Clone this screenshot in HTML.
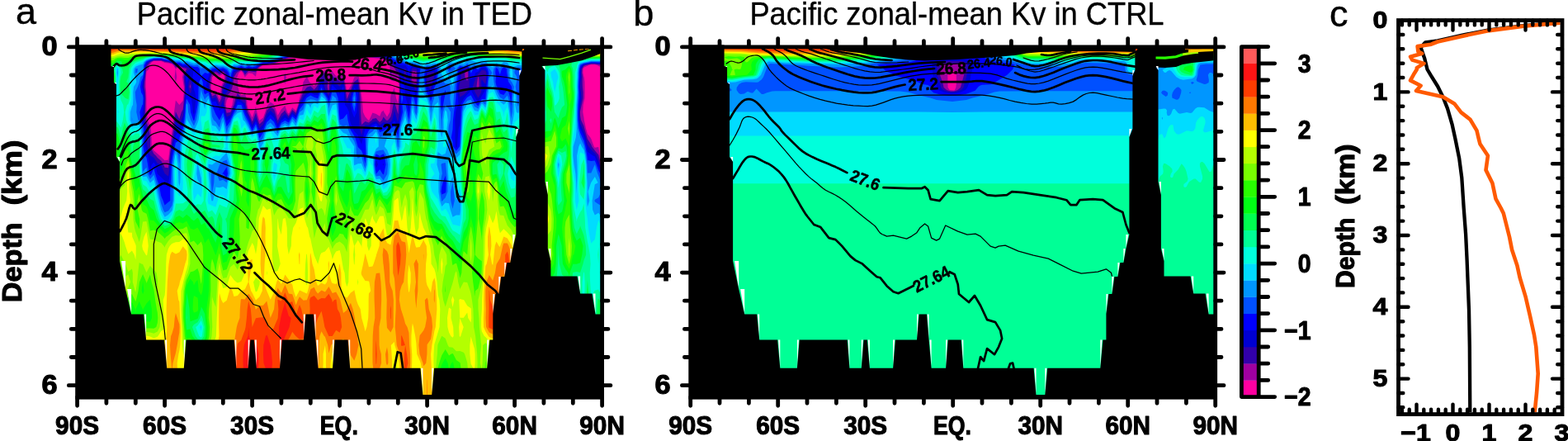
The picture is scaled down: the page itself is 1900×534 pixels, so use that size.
<!DOCTYPE html>
<html lang="en"><head><meta charset="utf-8"><title>Pacific zonal-mean Kv</title>
<style>html,body{margin:0;padding:0;background:#fff;overflow:hidden}svg{display:block}text{fill:#000}</style></head>
<body>
<svg width="1900" height="534" viewBox="0 0 1900 534">
<rect width="1900" height="534" fill="#fff"/>
<g>
<clipPath id="clipa"><rect x="123.6" y="56.9" width="604" height="423.1"/></clipPath>
<g clip-path="url(#clipa)">
<rect x="128.9" y="56.9" width="600.7" height="437.5" fill="#ff00a0"/>
<path fill="#a000a0" d="M128.9,56.9l600.7 0 0 24.6-4.4-1.5-1.4-1.1-3-.6-4.5-.1-3.1 .7-1.3 .9-4.4 2-.9 1.5-.2 4.7 1.1 5.2 .2 0 .7 5.7 .2 12.9-.1 7.3-1.8 8-.4 8.7 1.2 6.7 .3 2.8 2.2 10.3 1.9 6.4 3.5 4.6 .9 1.4 3.5 9.5 1 1.2 4.4-.7 1.8 10.4 2.6 9.5 0 296.5-600.7 0zM186.4,74l-2.3 .9-2.2 3-.8 1-.3 4.4-3.3 3.5-.5 6.4-.4 5.7 0 6.1 .6 6.8 .2 7.3 0 8 .3 8.7 1.3 9.5 2.9 7.3 .9 3 .8 11 .4 10.9 2.4 4.8 4.4 3.6 2.8 2.5 1.6 1.6 4.4 4.2 4.4-.8 4.8-37.8 .9-10.3 1.3-9.5 1.9-14.4 4.4 5.5 4.4-4.9 1-10.2 .1-6.8-1.1-6.1-.7-5.7 .7-3 .4-2.2-.6-4.7-4.2-2.6-4.3 2.6 .5 4.7 .8 5.2-1.4 7.2-1.3-7.2 1.1-9.9-2.6-4.4-1.7-1.3-4.4-1.1-4.4-.6-2-1-2.4-.9-4.4 .1zM261.4,89.8l-4.1 3.4-.3 1.4-.3 4.3-1.1 6.1 .9 6.8 .5 1.5 2.9-1.5 1.5-1.7 1 1.7 3.5 8.4 .5-1.1 1.5-14.1 2.4-5.4 .4-.7 1.4-5.7-1.8-3.8-4.4 2.7zM279.1,116.6l-2.9 2.5-1.5 2.3-1 5.7 1 3.8 4.4 1.2 2.3-5 1.1-8zM349.8,70.4l-2.7 .8-1.7 1.2-4.5 .6-3.5 1.9-.9 .8-4.4 2-8.8 1.1-4.4 0-4.5 3.1-1.6 1.4-2 4.7-.8 4.7-4.4-3.6-4.4-.5-4.4 5-2.7-5.6-1.7-2-2.9 2-1.6 4.3-.5 .9 .5 2.8 .3 2.9 .2 6.1 1.6 6.8 2.4 3.4 4.4-1.3 2.4 5.2 .3 8 1.7 6.4 1.4 2.3 3 6.4 2.4-6.4 2-7.1 1.4 7.1 3 10.1 .7-.6 3.8-2.8 2.4-6.7 2-7.4 1.5-1.3 2.9-3.7 4.4 3.2 3.2 9.2 1.2 3.9 4.4-7.5 4.5-4.2 2.8 7.8 1.6 2 4.4-7.6 4.4 4 2.5-7.1 1.9-8.7 2.3-6.6 1.5-6.8 .6-5.5 .3-.6 3.5-5.7 .7-.8 2.9 6.5 5.9 5.7 2.6-5.7 1.8-1.6 4.4-9 4.4-3.2 2.4 2.9 2.1 3.7 4.4-6 1.1 2.3 3.3 3.9 4.4 1.2 3.2-5.1 1.2-1.4 .3 1.4 .6 5.2 2.5 11.8 1 7.4 3.8-7.4 .7-.8 2.3-5.3 2.1-5.5 .3-.2 4.1-1.2 1.2 1.2 1.1 5.7 .5 6.1 1.1 6.8 .5 3.9 .6 3.4 1.2 16.7 2.6 5.5 3.6 4 .8 .4 .5-.4 4-8.7 4.4 1.3 4.4 2.9 1.9-5 2.5-2 .8 2 3.6 5.8 3.3-5.8 .6-8.7 .1-8 .4-3.8 4.5-9 2.2 12.8 2.2 6.5 1.1-13.8 .1-6.8-.6-6.1-.6-4.5-4.4 4.1-4.5-1.6-1.3-8.9 .1-4.7 .2-4.4-3.4-4-6.7-3.7-2.1-.5-4.4-.3-8.9-.9-4.4 .1-4.4-.3-8.8 .1-4.4 .2-17.7-.1-4.4 .2-8.9-.3-4.4 .3-4.4-.3-4.4 .1-4.4-.2-4.4 .3-4.5-.1-4.4 .1-4.4-.2zM343.9,93.2l1.5-5 1.7 5-1.7 9.1-.8-3.4z"/>
<path fill="#3200aa" d="M128.9,56.9l600.7 0 0 21.8-4.4-.4-4.4-.8-4.5 0-6.6 1.4-2.2 1.1-2 3.3-.3 4.7 .7 5.2-.2 5.7 .2 6.1 .7 6.8 0 7.3-3.5 15.4-.1 1.3 .1 4.2 .9 5.3 3.5 7.1 .7 3.2 3.7 12.7 4.4 6.8 .9 2.4 3.6 4.7 4.4 5.2 3 11.9 1.4 2.7 0 292.4-600.7 0zM186.4,73.3l-4.1 1.6-3.4 4-1.4 2.8-.3 1.6-1.8 15.6-.2 6.1 .8 6.8 .4 7.3-.4 16.7 .9 9.5 .6 3 2.8 7.3 1.6 9.1 .2 1.9-.1 10.9 4.4 8.8 2.5 2.1 1.9 2.6 4.4 3.8 3 4.5 1.4 3.4 4.4 .6 1.7-14.9 4.8-32.8 .8-10.3 1.6-10 4.4 8.9 2.6-8.4 1.8-3.4 2.1-20.6 .1-6.8-.8-6.1-.5-5.7 1.1-5.2 2.5-4.7-4.5-1.2-4.4-2.5-4.4 1.8-1.5-2.5-3-2.2-4.4-1.1-4.4-.8-4.4-1.6zM230.5,101.8l-.7 3.2 .7 2.3 .6-2.3zM261.4,87.3l-2.3 .7-2.1 1.7-1.4 3.5-1.2 11.8 1.1 6.8 1.5 4.6 4.4-2.1 2.3 4.8 2.2 5.1 2.5-5.1 .2-7.3 .9-6.8 .8-1.8 2.5-4.3 .8-5.7-2.1-5.2-1.2-.9-1.8 .9-2.6 1.9-2.8-1.9zM345.4,71.1l-4.5 1-4.4 2.4-4.4 2-8.8 1.5-4.4-.1-1.8 1-2.7 1.9-2.9 2.5-1.5 3.9-4.4-.4-4.4-1-4.4 4.9-1.3-2.7-3.1-3.6-5.5 3.6-3.4 5.2-.7 5.7-1.1 6.1-2.5 6.8-4.5 4.2-2 3.1-.5 8 2.5 9.6 4.4-.6 4.2-9 1.9-8 2.7-6.4 4.5 6.1 4.4-1.1 .6 1.4 .8 8 2.2 8.7 4.4 9.5 .8 1.9 1-1.9 3.4-8.7 2.6 8.7 1.8 5.3 4.5-4.3 3.8-10.5 .6-2.1 4.4-4.4 4.4 3.3 1.2 3.2 3.2 10.2 4.4-8.2 2.3-2 2.2-2.4 .8 2.4 3.6 4.6 4.4-7.5 4.4 3.8 3.3-9.6 1.1-4.9 1.7-3.1 2.7-7.9 4.5-5.5 1.7-.7 2.7-.7 4.4 4.1 3-3.4 1.4-2.6 1.1-3.5 3.3-6.9 4.4-4.2 2.7 5.4 .7 5.7-.8 6.1 1.5 6.8 .4 .5 .1-.5 .5-6.8 .2-6.1 2.6-5.7 1-1.6 1.3 1.6 3.1 1.9 4.4 3.4 4.4-4.3 2.3 10.8 1.9 14.1 .2 .6 3.4-7.9 1.1-2 1.4-4.8 3-6.1 4.4-3.1 .9 3.1 1.7 12.9 .6 7.3 0 8 .2 8.7 .5 9.5 .5 5.7 4.4-3.9 4.4 1.5 3.9-3.3 .6-1.3 4.4-1.1 1.6 2.4 2.8 2.7 2.8-2.7 1.6-3.7 3 3.7 1.4 .7 1.5-.7 2.9-4.1 1.5-5.4 1.5-8.7 1.5-4.1 4.4 15.2 .3-2.4 1.6-24 .1-6.8-.7-11.8-1.3-3.8-1.4-1.4-2.3-4.7-5.2-6-1.7-2.4-2.7-2.3-2.4-1.4-2-.7-4.4-1-4.4 0-8.9-.8-4.4 .1-4.4-.3-13.2 .3-17.7-.1-4.4 .2-8.9-.3-4.4 .3-4.4-.3-4.4 .1-4.4-.2-4.4 .3-13.3-.2-8.8 1.1zM499.9,85.7l-.7 2.3-.6 5.2 .2 5.7 1.1 1.7 4.5 1.2 .2-2.9 .3-5.7-.1-5.2-.4-1.3zM566.2,84.9l-2.9 3.1 0 5.2 2.9 5.1 .9-5.1 .1-5.2zM579.4,92.9l-.2 .3-1 5.7-.7 6.1 1.9 4.1 1.1-4.1 0-6.1-.5-5.7zM473.1,88l.3-3.6 1.4 3.6-1.4 1.9z"/>
<path fill="#0000d2" d="M128.9,56.9l600.7 0 0 20.7-4.4-.3-4.4-.6-4.5 0-8.8 1.9-.6 .3-2.5 4.4-.4 4.7 .2 5.2-.8 5.7-.3 3-.1 3.1 .1 2 .8 4.8 .6 7.3-1.4 7.5-1 9.2 .3 9.5 .7 4.4 4.4 9.5 2.3 7.4 2.1 8.6 1.5 2.3 2.9 3.8 4.5 4.4 2 2.7 2.4 6.3 1.2 4.6 3.2 6.3 0 288.8-600.7 0zM181.9,74.2l-1.4 .7-3 3.3-.4 .7-.8 4.4-.4 4.7-1.6 10.9-.6 6.1 1.1 6.8 .7 7.3-.3 8-.8 8.7 .5 9.5 2.3 10.3 .3 11.9 1.1 10 3.3 10.4 .5 .5 4 2.6 4.4 6.8 3.4 1.5 1 .8 4.4 10.1 4.4 3.3 .5-3.2 1.1-11 1.2-10.9 1.6-10.1 2.3-11.7 1.5-11 .7-9.3 4.4 6.3 2.5-7.3 1.9-4.9 .6-4.6 .8-8.7 1-8 .8-7.3 .1-6.8-1-11.8 1.3-5.2 .8-1.5 4.4-2.9 .1-.3-4.5-2-4.4-.4-4.4-2.5-2.9 .5-1.5 .4-.3-.4-4.2-3.2-4.4-1.1-4.4-.6-4.4-1.5-8.8 .1zM376.3,67.7l-4.4 .3-13.3-.1-8.8 1.2-4.4 1.2-4.5 1-4.4 2.2-4.4 1.8-4.4 1.1-4.4 .7-4.4 0-3.4 1.8-1.1 .8-4.2 3.6-.2 .4-4.4 1.3-4.4-1.8-4.4 4.7-3.8-4.6-.6-.5-1 .5-7.6 4.7-.3 .5-1.3 4.7-1.3 5.7-1.8 5.8-.4 .3-4 6.8-4.4 4.9-.3-4.9 .3-1.8 2-5 2.9-6.1 .1-5.7-1.8-5.2-3.2-2.4-4.4 2.1-4.5-2-4.4 1.4-.8 .9-2.1 5.2-.7 5.7-.1 6.1 1.3 6.8 2.4 7.8 4.4-1.8 4.5 10.8 2.1-1.5 2.3-6.3 .4 6.3 2.3 8.7 1.7 5.8 4.4-2 1.6-3.8 4.2-8.7 2.3-8 .7-1.6 1.2 1.6 7.7 6.1 .2 1.9 1.7 8.7 2.5 5 2.1 4.5 2.3 5.9 3.2-5.9 1.2-3.2 1 3.2 3.4 10 4.5-4.7 2.1-5.3 2.3-6.6 4.4-5 4.4 4.2 2.5 7.4 1.9 4.7 4.4-8 4.5-3.9 4.4 4.9 4.4-7.5 4.4 4 1.3-3.7 2.8-8.7 .3-1.3 3.7-6.7 .7-2.1 4.5-5.4 4.4-3.5 4.4 3.9 1-.2 3.4-1.9 1.1-4.9 2.1-6.1 1.2-2.8 3.5 2.8 .1 6.1 2.6 6.8 2.7 4.2 1.3-4.2 .8-6.8 2.3-6.4 .7 .3 3.7 2.3 4.4 3.6 4.4-5.5 1.2 5.7 .9 6.8 .5 7.3 1.8 5.4 2.8-5.4 1.7-3.8 .8-3.5 2.4-6.8 1.2-2.4 4.4-.7 1.3 9.9 .2 7.3-.7 8 .3 8.7 .7 9.5 .3 10.3 2.3 8.5 2-8.5 2.4-4.1 4.4 0 4.5-3.5 4.4-1.3 4.4 4.8 4.4-3.5 4.4 1.2 4.4-1.5 1.8-2.4 2.7-11.2 3.2 11.2 1.2 2.2 .5-2.2 1.5-9.5 .3-16.7 .4-7.3 .2-6.8-.2-6.1 .1-5.7-1-5.2-1.9-4.7-7.8-8.4-4-3.7-1.4-.6-4.4-1.5-4.4-.7-4.4 .1-8.9-.7-4.4 .2-4.4-.3-13.2 .3-17.7-.1-4.4 .2-8.9-.3-4.4 .2-4.4-.1zM491.1,82.6l-1.6 .7 .2 4.7-.1 5.2 1.5 4.9 1.8-4.9-.9-5.2-.4-4.7zM499.9,82.2l-.9 1.1-1.2 4.7-.9 5.2-.1 5.7 3.1 5 1.5 1.1 3 5.3 .6-5.3 .6-6.1 .5-10.9-1.4-4.7-.3-.4zM522,87.4l-4.4 .8-1.1 5 .3 5.7 .8 5.1 1.4 1 3 3.8 2-9.9 2.1-5.7 .3-1.1 .2-4.1-.2-.7zM566.2,82.5l-2.2 .8-2.2 2.4-4.5 2.2 1.4 5.3-.9 5.7-.5 .7-1 5.4-.1 6.8 1.1 5.8 4.5-2.5 3.4-3.3 1-1.4 2.5-5.4 .1-6.1-.1-5.7-.4-5.2-1.4-4.7zM583.8,84.7l-2.5 3.3-1.9 1.6-2.4 3.6-2 5.4-.3 .3-1.8 6.1 2.1 5.5 .6 1.3 3.8 6.9 3.8-6.9 .3-6.8-.4-6.1 .7-2.8 1.8 2.8 2.7 3.1 .4-3.1 .7-5.7-.1-5.2-1-2.5zM230.5,95.9l-1.6 3-.9 6.1 1.6 6.8 .9 1.3 1.2-1.3 1.1-6.8-.8-6.1z"/>
<path fill="#0000ff" d="M128.9,56.9l600.7 0 0 19.7-4.4-.2-4.4-.4-4.5 0-8.8 1.8-2.2 1.1-2.1 4.4-.4 4.7 0 5.2-.5 5.7-.2 6.1 .6 14.1-1.5 16.7 .2 9.5 1.7 9.9 4.4 9.7 3.4 12.6 1 6.2 4.4 3.4 2.3 1.3 2.2 1.1 4.4 11.7 4.4 8 0 285.2-600.7 0zM181.9,73.4l-3.2 1.5-1.2 1.3-1.5 2.7-.5 4.4-.4 4.7-3.1 17 1.1 3.8 .5 3 .9 7.3-.4 8-1 7.3-.6 1.4 .4 9.5 2.7 10.3 .4 11-.1 10.9 3.6 10.9 1.5 10.9 .9 5.2 2.1-5.2 2.4-2.9 1.8 2.9 2.6 11.4 4.4 3.8 4.4 4.6 3.1 2.1 1.3 1.2 2-12.1 .7-11 1.3-10.9 .4-3.1 1.8-7.8 2.3-10.9 .4-3 4.4-3.4 4.4-12.4 1.7-12 .6-8.7 1.2-8 .8-7.3 .1-6.4 .4 6.4 4 6.2 1.2 1.1 1.3 8 .7 8.7 1.2 3.5 .9-3.5 1.8-16.7-1.3-7.3-1.4-3.6-.4-3.2-.3-6.1-.6-5.7 .6-5.2 .7-4.3 .9-.4-.9-.1-4.4-1.7-4.4-2.1-4.4 .2-4.4-2.5-4.4 .6-4.5-3-4.4-.9-4.4-.7-4.4-1.4-4.4-.1-4.4 .3zM354.2,67.7l-4.4 .7-4.4 1.2-4.5 .9-4.4 2.1-4.4 1.7-4.4 1.2-4.4 .8-4.4 0-5.1 2.6-3.8 3-4.4 1.2-4.4-1.5-2.6 1.7-1.8 1.9-1.6-1.9-2.8-1.9-8.9 4.1-1.3 2.5-1.4 5.2-1.7 5.6-2.1-5.6-1.6-5.2-.7-.9-4.4-3-4.4 1.3-4.5-1.2-4.4 1.1-2.4 2.7-4.1 10.9-.6 6.1 2.7 2.1 1 4.7 3.4 11.7 4.4-.8 4.5 11.2 4.4-3 4.4 16 1.3-1.6 3.1-2.2 3.2-7.3 4.1-8.7 1.5-4.8 4.5 2 2.4 2.8 2 7.5 .2 1.2 4.7 9.5 3.9 9.9 4.4-8.5 3.2 8.9 1.2 5.7 3.8-5.7 .7-.7 4.4-11.3 4.4-5.2 4.4 4.3 .9 2.6 3.5 8.7 4.4-8.1 1-.6 3.5-3 3.7 3 .7 .3 4.4-7.3 4.4 3.9 2.4-6.4 2-6.6 1.7-2.1 2.7-5 1.5-3 3-4.2 4.4-3.2 4.4 3.1 4.4 .2 1.2-3.2 1.7-6.8 1.5-4.2 1.6 4.2 2.4 6.8 4.6 7.3 .3 .7 2.5-8 1.1-6.8 .8-2 8 8.8 .8 3.3 .8-3.3 3.2-6.8 .4-.4 1 7.2-.1 7.3 1.1 8 2.4 3 2.6 5.7 .8 9.5 1.1 3.9 2.5 6.4 1.9 3.3 4.4 4.8 .5 2.9 3.9 8.2 4.4-18.7 .4-.5 4-1.2 4.5-3.2 4.4-1.7 4.4 5.4 4.4-1.8 8.8-1.3 4.5-5.5 4.4 8.3 2-9.3 1.7-9.5-.4-8.7-.2-8 .7-14.1 0-6.1 .5-5.7 .1-2 .1 2 1.5 5.7 2 6.1 .1 6.8 .7 4.2 .7 3.1 2.3 8 1.4 8.6 1.5-16.6 0-7.3 2.9-3.8 2.3 3.8 2.2 8.4 1.6-15.2 1.4-17-.3-4.7-2.7-2.3-4.5-1.3-3.1 3.6-.3 4.7-1 4-1.4-4 0-4.7-3-4.3-4.4-.3-4.4-.9-4.4-2.4-4.3-4.2-4.6-2.1-4.4-1.4-4.4-.3-4.4 .1-8.9-.5-4.4 .1-4.4-.2-13.2 .3-17.7-.2-4.4 .2-8.9-.2-4.4 .2-13.2-.3-4.4 .3-13.3-.1zM526.4,82.6l-1.7 .7-2.7 1.3-4.4 0-1.5 3.4-.7 5.2 .3 5.7 .9 6.1 1 3.5 2.3 3.3 2.1 4.3 1.3-4.3 1.3-6.8 2.8-6.1 .8-10.9-.9-4.7zM557.3,82.4l-.8 .9-.4 4.7 .2 5.2-.7 5.7-.9 6.1-.2 6.8 .6 7.3 .4 8-2.6 4.7-.7 4-.9 9.5 .4 10.3-.2 11 .3 10.9 1.1 1.5 1.1-1.5 .7-10.9 1.1-11 1.5-4.6 .7-15.2-.1-8.7 3.9-7.3 4.4-5.3 3-2.7 1.4-3.3 1.4 3.3 4 7.3 3.4 4.8 4.4-7.9 2.6-4.2 1.9-3.5 .7-3.3 1.5-11.8 .2-5.2-1.8-4.7-.6-.7-4.5-.9-1.5 1.6-2.9 3.4-3.2 1.3-1.2 3.4-1.4 1.8-3 2.1-1.2-7.3-1.2-4.7-2-2.3-4.4 1.5zM455.8,192.8l-.6 6.5 .6 4.3 2.3-4.3zM464.6,197.2l-.8 2.1 .8 1.5 .3-1.5zM225.4,93.2l.7-2.5 2.4 2.5-2 5.7-.4 5.9-.2-5.9zM427.1,111.8l2.2-5.5 4.4 5.1 0 .4-.3 7.3-.7 8-.5 8.7-2.9 6.6-2.7-6.6-1.7-8.7 .4-8z"/>
<path fill="#0050ff" d="M128.9,56.9l600.7 0 0 18.6-4.4-.1-4.4-.2-4.5 0-8.8 1.8-3.7 1.9-.7 1.4-.8 3-.4 4.7-.1 5.2-.4 5.7-.2 6.1 .3 6.8 0 7.3-.7 8-.4 8.7 .1 9.5 1.2 10.3 1.4 5.1 4.4 9.8 1.9 7 2 10.9 .5 5.6 4.4 1.1 4.5-.7 1.9 4.9 2.5 7.2 2.2 3.8 2.2 5.5 0 278.6-600.7 0zM349.8,67.7l-4.4 1.2-4.5 .8-4.4 2-4.4 1.6-4.4 1.2-4.4 1-4.4-.1-4.5 2.1-2.6 1.4-1.8 1.4-4.4 1.2-4.4-1.5-4.4 2.6-4.4-2.7-4.5 1.8-4.4 1-.4 .6-2.3 4.7-1.7 6.3-2-6.3-2.4-3.3-2.7-1.4-1.7-.7-4.4 .6-4.5-.7-4.4 1-4 4.5-.4 1.2-4.4-1.2-4.4 4.2-1.8-4.2-.3-4.7-2.3-2.4-4.5 .2-4.4-1.3-4.4-2.3-4.4 .6-4.4-2.3-4.4 .3-1.9-1.2-2.6-1.2-4.4-.8-4.4-.6-4.4-1.3-4.4-.1-4.4 .3-4.5 1.3-4.4 2-.4 .4-2.2 4-.3 4.4-.2 4.7-1.3 6.4-2.1 4.5-1 6.1 1 6.8 2.1 3.8 .5 3.5-.5 7.6-.7 .4-3 8.7 1.2 9.5 2.5 6.8 .9 3.5 .5 11-.9 10.9 1.9 10.9 2 2.1 1.6 8.8 1.7 11 1.1 2.1 1.8-2.1 2.7-6.7 1.7 6.7 2.7 8.7 1.1 2.2 2.3 10.9 1 5.1 2.5 5.9 1.9 5.5 4.4-3.8 2.3-1.7-.1-11 1.2-21.8 .4-11 .6-5.3 .9-5.6 2.6-10.9 1-4.8 4.4-2.5 .3-3.6 4.1-11 1.7-10.3 1-9.5 .5-8.7 1.2-7.3 4.1 7.3 .8 8.7 3.2 9.5 .7 1.3 .6-1.3 2.2-9.5 1.7-8.7 .9-8 .3-14.1 .7-6.1 2.5-4.5 1.8 4.5 .6 6.1 .9 6.8 1.1 2.5 4.4-2.5 4.4 15.3 0 .6 4.4 10.6 4.5 7.3 4.4-9.4 2.5 9.1 1.9 8 4.4-6.6 .4-1.4 4-9.1 .4-.4 4-8.7 4.5-.1 4.4 12.3 3 6 1.4 2.4 3.1 7.9 1.3 2.6 1.6-2.6 2.8-5.3 1.9 5.3 2.5 11.9 4.5-6.9 1.3-5 3.1-7.6 2.9-2.7 1.5-1.7 4.4 4.1 3.1 7.9 1.3 2.2 .9-2.2 3.5-6.9 4.5-2.6 4.4 2.4 4.4-7.4 4.4 3.9 3.4-9.2 1-3.4 4.3-5.3 3.9-8 .7-.9 4.4-2.6 4.4 2.1 4.4 1.5 2.8-7.4 1.6-5.7 2 5.7 2.4 3 2.7 4.3 1.8 4.9 1.9-4.9 1.8-7.3 .7-3.6 4.4 3.8 2.5 7.1 .7 8 .4 8.7 .8 9.1 4.4-1.5 4.4-5.6 1.1 7.5 2.6 10.3 .8 1.8 5.5 9.2 3.2 10.9 .1 .4 4.4 4.6 2.3 5.9 2.1 9.6 1-9.6-.5-10.9-.4-10.9 4.3-8.6 2.7-2.4 1.8-1.2 4.4-2.1 2.6 3.3 1.8 4.5 4.4-1.5 4.4-3 4.4 .4 4.5-3.4 1.5 3 2.9 10.9 1.1-10.9 2.4-10.3 .9-4.6 1.3-4.9-.5-8.7 3.6-1.7 .5 1.7 2.1 8.7 1.8 8.9 1.2-8.9 .9-8.7 1-8 1.3-6.1 1.8 6.1 1.9 8 .8 6.8 .4-6.8 1.4-15.3 .7-6.8 1-11.8 .9-6.2 .8-3.7-5.2-4.3-4.5-1.1-3.5 1-.9 1.2-.6-1.2-3.8-1.8-4.4-1.2-4.4-1.6-4.4-2-1.2-1.1-3.3-1.7-3.8-1.7-5-1.1-4.4-.3-4.4 .2-4.4-.1-4.5-.3-4.4 .1-4.4-.2-13.2 .3-17.7-.2-4.4 .2-8.9-.2-4.4 .2-13.2-.2-4.4 .2-13.3-.1zM517.6,81.8l-1.6 1.5-1.5 4.7-.3 5.2 .5 5.7 .7 6.1 1.7 6.8 4 7.3 .9 3.8 1.3-3.8 1.9-7.3 1.2-6.4 .6-.4 2.3-6.1 0-5.7 .6-5.2 .2-4.7-3.7-2.8-4.4 1.7zM539.7,109.1l-1 2.7-3.4 2.3-1.4 5 .4 8 1 6.8 1.7-6.8 1.4-8 1.3-5.6 .5-1.7zM544.1,81.3l-.7 2 .7 1.2 2.6-1.2zM557.3,80.6l-2.5 2.7 0 4.7-.2 5.2-.9 5.7-.6 6.1-.2 6.9-.5 7.2-.9 8-1.4 8.7-1.1 9.5-.5 11.7-1.7 9.6 1.7 4.8 .6 6.1 3.8 5.3 3.9-5.3 .5-3.8 1.3-28.4 .5-9.5 .9-8.7 1.8-3.4 3.3-4.6 1.1-1.3 4.4-2.5 4.4 8.1 2.8 3.7 1.6 1.2 .6-1.2 3.8-7 4.5 0 .1-1 .4-7.3 1.6-6.8 .5-6.1 .8-5.7 .4-5.2-1.2-4.7-2.6-3-4.5-.8-4.4 4.8-2.1-1-2.3-1.4-1.6 1.4-2.2 4.7-.6 .7-1-5.4-3.4-3.8-4.4 1.6zM601.5,82.1l-1 1.2-.3 4.7 .7 5.2-.4 5.7 1 4.8 .9 1.3 2.7 6.8 .8 1.6 4.4 1.5 4.5-5.8 1.6 2.7 1.8 7.3 1 9.2 1.2-16.5-.4-6.8-.8-1.4-3.1-4.7-1.2-5.7-.1-1.4-.7-3.8-.2-4.7-3.6-1.9-2.2 1.9-1.6 4.7-.6 2.5-1-2.5-1.6-4.7zM628,108.8l-.3 3 .3 4.7 .3-4.7zM270.3,209.2l-1.3 1.1 1.3 .3 4.4 4.2 1.2-4.5-1.2-8.1zM455.8,186.5l-.8 1.9-.8 10.9 1.6 11.1 .3-.1 4.1-5.2 3.2 5.2 1.2 1.1 .6-1.1 2.3-11-1.6-10.9-1.3-2.2-3.8 2.2-.6 1.6-.5-1.6zM539.7,212.8l-3.1 8.4-1.3 5.1-.7 5.8 .7 3.3 4.4-1.8 .6-1.5 .4-10.9zM428.5,111.8l.8-2 1.6 2 .8 7.3-.6 8-1.8 8.4-2.4-8.4 0-8zM486.6,111.8l.1-1.9 .4 1.9 1.1 7.3-1.5 7.2-.4-7.2z"/>
<path fill="#0096ff" d="M128.9,56.9l600.7 0 0 17.6-13.3-.1-4.4 1-4.4 .8-4.4 1.9-.6 .8-1.1 4.4-.5 4.7 0 5.2-.4 5.7-.2 6.1 .3 6.8-.3 7.3-.6 8-.2 8.7 .1 9.5 .6 10.3 2.9 10.6 4.4 9.9 .4 1.4 2.3 10.9 1.2 10.9 .5 10.2 4.4 0 4.5-10.2 3.4 11 4.3 10.9 .2 10.9-3.5 7.2-4.4 2.4-.3 1.4 .3 1.2 4.4 2.9 4.4 2.6 0 244.6-600.7 0zM159.9,141l-.1 4.3 .1 .3 .4-.3zM164.3,83l-.2 .3-.1 4.7 .3 .6 1.8-.6 1-4.7zM349.8,67l-4.4 1.1-4.5 .8-8.8 3.5-4.4 1.2-4.4 1-4.4 0-4.5 1.8-4.4 2.2-4.4 1.3-4.4-1.5-1.5 .5-2.9 1.5-3-1.5-1.4-.4-4.5 1.5-4.4 .2-2.3 3.1-1.9 4.7-.2 .9-.2-.9-3.2-4.7-1-.6-4.4-1.6-4.4 .2-4.5-.7-4.4 1.1-2.2 1.6-2.2 2.5-2.7-2.5-1.7-1.5-4.4 1-4.4-4.4-4.5 .6-4.4-1.3-4.4-2-4.4 .7-4.4-1.9-4.4 .1-4.5-1.9-8.8-1.3-4.4-1.1-4.4 0-4.4 .3-2.9 .6-1.6 .5-4.4 1.8-1.8 1.4-1.9 4-.1 9.1-.6 2.7-2.7 2.5-1.5 5.7-.2 1.3-1.7 4.8-2.7 5.2-.5 1.6 .5 7.3 1.4 8-.4 8.7 2.1 9.5 1.3 .8 3.6 9.5 .7 11-.6 10.9 0 10.9 .2 10.9 .5 8.4 4.4-5 1 7.6 3.4 6.6 4.5-5.1 3 9.4 1.4 5.9 1.3 5 2.2 11 .9 3.7 2.6 7.2 1.8 3.3 4.4-2.1 1.1-1.2 3.3-5 1.1-5.9 .1-11-.6-10.9-.1-10.9 .2-11 1.7-10.9 2.1-8.5 3.2 8.5 1.2 10.2 .7-10.2 .3-10.9 1.8-10.9 1.6-4.4 1.4-6.6 1.5-10.3 .8-9.5 .3-8.7 .4-2.1 1.2 2.1 .8 8.7 2.9 9.5 3.9 7.1 3.1-7.1 1.7-9.5 2.3-16.7 1.8-11.7 .7 4.4 3.7 9.3 .9-2 3.5-3.5 3.1 11.5 1.3 13.9 1.8 4.3 2.6 2.3 4.5 6.8 2.5-9.1 1.9-3.9 1.1 3.9 2.3 10.3 1 5.8 1.4-5.8 3-5 1.6-5.3 2.8-6.4 2.7-3.1 1.7-3.8 4.5-.8 4.4 12.2 4.4 8 1.6 4.2 2.8 5.4 3.5-5.4 .9-1.8 .7 1.8 2.5 11 1.2 7.5 4.5-7.5 3-11 1.4-3.5 4.4-3.5 4.4 4.6 1 2.4 3.4 5.8 2.3-5.8 2.1-4.2 4.5-2.5 4.4 2.5 4.4-7.5 1.6 1.4 2.8 3.6 4.4-13.2 4.4-2.9 1.9-5.7 2.6-5.1 4.4-1.8 4.4 .6 4.4 1.9 1.8-3.6 2.6-7.4 4.4 5.6 1.1 1.8 3 8 .4 4.1 1-4.1 2.7-8 .7-3.6 4.4 3.4 1.8 8.2 1.7 18.2 .9 5.3 4.4 2.1 4.4-1.2 1 4.1 3.5 8.3 4.4 7.1 2.2 6.5 .4 10.9 1.8 3.4 4.4-2.2 2.5 9.7 1.9 4.4 1.2-4.4 1.1-10.9-.4-10.9 .3-10.9 2.2-4.3 4.5-3 3.3-3.7 1.1-.5 .4 .5 4 10.3 4.4-1.5 4.4-3.3 4.4 .2 4.5-2.7 2.6 8 1.4 10.9 .4 1.3 .5-1.3 1.9-21.9 2-7.9 1-2.4 2.4-9.5 1-3.2 .8 3.2 2 9.5 1.6 6.2 1.3-6.2 2.1-18.2 1-6.1 1.6 6.1 1.3 8.7 1.6 4.3 1-4.3 .5-8.7 1.3-15.3 .7-6.8 .4-6.1 .5-4.7 4.4 .5 1.8 17.1 2.6 4.2 1.7 3.1 2.1 8 .6 9.8 1.5-9.8 2.4-8 .5-3.1 4.4-.6 1 3.7 1.1 8 1.7 18.2 .4 10.3 .3 1.2 .2-1.2 .2-10.3 1.2-9.5 2.8-8.8 4.4 4.9 2 3.9-.4 9.5-1.6 6-.6 4.3-.5 11 .8 10.9 .3 1.6 8.8 7.5 4.4-5 .6-4.1 1.7-32.2 .7-9.5 1.5-7.8 .5-.9 3.9-5.2 4.4-1.2 4.4 8.3 4.4 2.6 2.1-4.5 2.3-4.3 4.5 4.1 1.1-7.8 .9-7.3 1.4-6.8 .3-6.1 .7-4.9 1.3-.8 2.3-5.2-2.9-4.7-.7-.4-3.5-4-.9-1.4-4.5-1-4.4 4.8-4.4-2.8-1 .4-3.4 2.4-1.7-2.4-2.7-2.1-2.3 2.1-2.1 .8-4-.8-.5-.2-.4 .2-3.8 4.4 .5 4.7-.6 5.2-1.4 5.7-.8 6.1-1.6 22.1-.7 4.5-2.2-4.5-1-8 .5-7.3-.3-6.8-1.4-3.5-4.4-.2-2.4-2.4-2-3.2-4.5-.9-.1-1.6 .1-1 1-4.2 .6-4.7-1.6-3-2.6-1.4-1.8-.4-4.4 1.7-4.4-.7-4.2 3.8-.2 1.6-.3-1.6-4.1-3.7-1-.7-3.4-1.4-4.5-1.1-4.4 .9-4.4-2.1-8.8-3.4-1.3-.6-3.1-1.1-4.6-2.3-4.3-1.2-4.4-.9-4.4-.2-4.4 .2-4.4 0-4.5-.3-4.4 .1-4.4-.1-13.2 .2-17.7-.2-4.4 .2-4.4-.2-8.9 .2-13.2-.2-4.4 .2-13.3-.1zM544.1,77.6l-.9 1.3-1.6 4.4 2.5 4.5 4.4-2 3.8-2.5-3.8-4.1-.5-.3zM610.3,78.5l-4.4 3.7-4.4-2.6-3.2 3.7-.9 4.7 1 10.9 1.2 6.1 3.1 6.8 3.2 6.3 1.9 1 2.5 1.7 1.6-1.7 2.9-3.7 1.2 3.7 1.5 8 1.7 16.7 1.6-8 .5-8.7-.2-8 .7-7.3 1.1-6.8-2.9-6.1-.8-.4-2.5-5.3-.6-5.2 .3-4.7-1.6-3.8zM628,81.5l-3.8 1.8-.6 2.4-.2 2.3 .2 .8 2.9 4.4-.6 5.7-1.3 6.1 1.3 6.8 1.4 15.3 .7 2 .5-2 2.1-15.3 1.8-6.4 1.4-.4 .2-6.1-.8-5.7 1.1-5.2-.8-4.7-1.1-1.2zM641.3,104.1l-2.8 .9 1 6.8 1.8 1.1 .7-1.1 0-6.8zM257,206.8l-1.3 3.5 0 10.9 1 10.9 .3 1.5 .5-1.5 1.8-10.9 .6-10.9zM270.3,195.3l-3.9 4-.5 .9-3.5 10.1 3.5 8.6 4.4-1.2 4.4 3.3 2.8-10.7-1.1-11-1.7-5.7zM455.8,183.2l-2.2 5.2-.4 10.9 1.4 11 1.2 3.3 4.4-.9 4.4 5.9 4.4-7.4 .3-.9 .8-11-1.6-10.9-3.9-6.9-4.4 .6zM535.3,198l-.8 1.3 1.3 11-.5 1.6-1.7 9.3-.6 10.9 2 11 .3 .8 4.4-4.6 2.8-7.2-.2-10.9-2.2-21.9-.4-2.3zM548.5,221l-2.6 11.1 .3 11 2.3 9.7 2.3-9.7-1-11zM428.5,119.1l.8-3.7 .8 3.7-.6 8-.2 1.3-.4-1.3z"/>
<path fill="#00dcff" d="M128.9,56.9l600.7 0 0 16.8-13.3-.1-5.8 1.3-3 .5-4.4 1.3-1.8 2.2-.9 4.4-.5 4.7 0 5.2-.3 5.7-.2 6.1 .2 6.8-1 15.3 .1 29.8-.9 9.7-3.2 10.9-.3 10.9 1.2 10.9 1.9 11 .8 10.9 .5 13.2 .9-24.1-.1-11-.4-10.9 2.2-10.9 1.8-3.9 1.8 3.9 2.6 3.9 1.6 7 1.4 10.9 .4 11 .7 10.9 .1 10.9-.6 11 .8 7.3 2.4-7.3-1.7-11 3.5-10.9 .2-.2 4.5-6.9 3.8 7.1-3.8 2-3.2 19.9 .5 10.9 2.7 6.5 4.4-2.7 4.4 5.9 0 230.7-600.7 0zM142.2,82.9l-.2 .4-.4 4.7 .6 7 .1-1.8 .8-5.2-.7-4.7zM358.6,64.7l-4.4 .7-4.4 .9-4.4 1.1-4.5 .8-8.8 3.2-4.4 1.3-4.4 .9-4.4 .1-8.9 3.1-4.4 1.4-4.4-1.1-4.4 1.1-4.4-1.1-4.5 1.3-4.4-.3-.9 .8-3.2 4.4-.3 .7-.4-.7-4-2.3-4.4-1.4-4.4-.2-4.5-.6-4.4 1.1-4.4 2.9-4.4-3.5-4.4 1.1-4.4-4.2-4.5 .5-5.2-1.8-3.6-.8-4.4 .6-4.4-1.7-4.4 0-4.5-1.3-8.8-1.2-4.4-.8-8.8 .3-5.7 1.2-3.2 1.2-3.1 2.5-1.3 2.9-4.4 .9-4.4 2.1-2 2.5-.3 4.7 1.7 5.2 .6 1.1 1 4.6-1 2.6-2.3 3.5-.7 6.8 .1 7.3-.4 8-1.1 1.6-2.1 7.1-.1 9.5 2.2 5.8 4.4-2.2 4.4 2.3 1.6 4.4 1.6 11-.3 10.9-.1 10.9 .1 10.9 .6 11 .9 3.7 4.4-.4 4.4 7.8 4.5-4 1.2 3.8 7.5 32.8 4.5 8.7 4.4-2.6 4.4-4.9 .5-1.2 1.9-10.9 .2-11-.4-10.9-.2-10.9 .1-11 1.7-10.9 .7-2.4 .9 2.4 1.8 10.9 .9 21.9 .8 4.4 1-4.4 1.5-43.7 1.9-8.7 .7-2.2 2.1-11 1.4-10.3 .2-3 .6 3 3.8 5.8 4.4 7.3 1.6-2.8 2.9-6.7 1.2-3.6 1.3-9.5 .6-8.7 1.3-9 3.2 9 1.2 4.9 .7-4.9 3.7-7.5 1.8 7.5 1.4 18.2 1.2 6.5 4.4 1.3 1.6 2.5 2.9 4 1.8-4 2.6-8.5 1.8 8.5 2.6 15.9 .8-4.9 3-11 .6-1 2.8-9.3 1.6-3.8 4.4-4.6 4.5-1.5 2.2 9.9 2.2 1.9 4.4 7.9 4.4 8.8 4.4-5.9 2.1 8.6 2.3 14.5 4.5-7.6 1.4-6.9 3-10.1 4.4-2.9 1.9 2 2.5 4.4 4.4 5.1 3.7-9.5 .7-1.4 4.5-2.5 4.4 2.6 4.4-7.2 4.4 5.7 4.4-13.1 4.4-.6 3.8-12 .7-1.2 2.6 1.2 1.8 3.8 .8-3.8 3.6-2.9 4.4 2.1 3.5-7.2 .9-2.7 3 2.7 1.4 .9 2.7 7.1 .9 8.7 .9 5.3 1.3-5.3 3.1-8.2 1.6-.5 2.8-1.3 .3 1.3 1.2 8.7 1 9.5 1.9 10.7 4.4 4.9 4.4 1.7 1.7 4 2.8 4.4 4.4 6.5-.7 10.9 .4 10.9 .3 1 4.4-2 4.4-.2 .3 1.2 4.1 9.4 2.6-9.4 .9-10.9-.1-10.9 1-10.9 4.5-1.5 4.4-5.7 2.8 7.2 .2 10.9-3 2.4-3.5 8.5-.1 10.9 1.2 11 2.4 6.6 4.4-.3 2.8 4.6 1.6 3.3 3.4-3.3 1-1.6 2.6-9.3 1-11-.8-10.9-2.8-7.2-3.2-3.7 3.2-10.9 4.4-.1 4.5-2.3 .7 2.4 1.8 10.9 1.9 6.8 2.7-6.8 .4-10.9 .7-11 .6-2.5 3.1-7.8 1.3-4.9 1 4.9 3.4 13.6 2.7-13.6 .9-9.5 .8-6.4 1.2 6.4 3.3 9.1 2.2-9.1 .4-8.7 1.8-20.7 3.6 5.4 4.5 7.3 .7 .4 2.3 7.6 .6 8.7 .9 9.5 .6 2.6 .8-2.6 1.5-9.5 2.1-8 4.4-4.1 .6 3.4 .3 8.7 0 9.5 .7 10.3 2.9 11.1 2.4-11.1-.2-10.3 1.3-9.5 .9-2.8 1.7 2.8 1.3 9.5-1.2 10.3 0 11 .3 10.9-2.1 8.5-4.4 1.7-4.5-3.7-.9 4.4-.5 10.9 3 11-1.1 10.9 0 10.9 1.7 11 2.3 6.8 4.4-4.4 4.4 .8 1.6 7.7 2.8 8.8 4.4-2.2 4.4-.2 .8-6.4 .2-10.9-1-7.5-4.4 6.3-1.8-9.8-1.2-10.9-1.4-7.2-3.6 7.2-.8 4.9-1-15.8-.5-11 1.5-9.2 4.4 .3 4.4 1.1 4.4-4.6 1.4-9.4 1.9-32.2 .9-9.5 .3-1.4 3.8-7.3 .6-.8 4.4-1.1 4.4 8.8 4.4 .9 3.6-7.8 .8-1.6 1.7 1.6 2.8 3.4 .9-3.4 1.2-8 2.3-12.1 2.6-2 1.8-1.6 .3 1.6 4.1 10 2 4.1 2.4 3.9 4.4 3.8 4.5-4.4 1 4.7 1.4 8.7 2 19.5 2.4-10 1.6-9.5 0-8.7-.7-8 .7-7.3 .4-1.9 .5 1.9 .8 7.3-.7 8 1.6 8.7 2.2 1.4 .7-1.4 1.9-8.7 .7-8 1.1-6 4.4 2.7 4.5 1 3.1-5 1.6-6.8-.3-4.9-1.5-1.2-2.9-.7-4.5-2.5-.5-2.5 .5-3.7 .7-1.5-.7-.9-.7-3.8-3.7-4-4.4-.6-4.4 1.7-3.1 2.9 .7 4.7 .1 5.2-2.1 1.5-.7-1.5-.8-5.2 .7-4.7-1.6-4.4-2-3.1-4.5-.9-4.4 4-4.4-2.6-2.5 2.6-1.9 2.5-4.4-1.6-.8-.9-2.4-4-1.2-.8-4.5-.4-2.9 1.2-1.5 1.9-3-1.9-5.8-1.7-4.4 .1-4.4 4-4.5-2.4-4.4 1.8-4.4-.6-4.4-1-2.6 3.8-1.7 4.4 .8 4.7 3.4 5.2-4.3 3.6-4.4-6.9-1-1.9 .3-4.7-1.9-4.4-1.9-1.6-4.4-.7-4.4 1.2-4.4-.7-3 1.8-1.4 1.2-1.4-1.2-3-1.5-4.4-1.4-4.5-1.1-4.4 .5-8.8-4-4.4-1.5-4.4-1.6-.9-.5-3.6-1.1-4.4-1.2-4.2-.8-4.6 0-4.4 .1-4.4 0-4.5-.2-8.8 0-13.2 .2-17.7-.2-4.4 .2-4.4-.1-8.9 0-13.2-.1-4.4 .1zM676.6,196.3l-.6 3 .6 5.1 .8-5.1zM239.4,198.4l-.3 .9-.9 11 1.2 7.2 2.4 3.7 2 4.2 .3-4.2-.3-5.2-4-16.7zM274.7,184.3l-3.5 4.1-.9 .5-4.4 5.4-4.5 1.9-4.4 3.2-4.4-.7-.1 .6 .1 4.7 .4 6.3 1.1 10.9 .5 10.9 1.8 11 .6 .5 1.1-.5 2.7-11 .6-5.6 4.5 .7 4.4-1.3 4.4 3 1.3-7.7 3.1-10.9-.3-11-3.2-10.9zM544.3,93.2l4.2-3.2 1.8 3.2-1.8 11.3-1.7-5.6z"/>
<path fill="#00ffdc" d="M128.9,56.9l600.7 0 0 15.9-13.3 0-13.2 2.5-2.9 3.6-.7 4.4-.6 4.7 0 5.2-.3 5.7-.1 6.1 .2 6.8-1.2 15.3-.6 18.2-.6 10.3-2 10.1-.8 11.8 .1 21.8 .7 9.4 .4 1.6 1.8 10.9 .3 10.9 .1 11 1.8 10.8 2.8-10.8-.8-11-.1-10.9 .7-10.9 1-21.9 .8-3.9 4.4 2.1 .4 1.8 1.6 10.9 .4 11 .6 10.9-.4 10.9-.9 11 1 10.9 1.7 10.9 .8 10.9 1.9 11 1.7 8 4.5-4.8 .6-3.2 1.6-11 2.2-9.2 3.7 9.2 .3 11-1 10.9-.1 10.9 .4 11 .6 10.9 .5 4 0 159.9-600.7 0zM142.2,80.6l-1.5 2.7 .1 4.7 .5 5.2 .3 11.8 .6 13.2 .5-6.4 .5-12.9 .5-5.7 1-5.2-.7-4.7zM354.2,64.7l-4.4 .8-4.4 1.1-4.5 .8-4.4 1.3-7.1 2.5-1.7 .5-4.4 1-4.4 .1-4.5 1.4-3.8 .7-5 1.4-4.4-.6-4.4 .7-4.4-.7-4.5 1.2-4.4-.3-2.9 2.3-1.5 2-4.4-1.6-4.4-1.3-4.4-.2-4.5-.7-7.4 1.8-1.4 .6-.8-.6-3.6-1.8-4.4 .6-3-2.8-1.4-.5-4.5 .2-8.8-1.9-4.4 .2-4.4-1.3-4.4-.1-1.3-.3-16.4-2.2-8.8 .4-4.5 .8-4.4 1.2-4.4 3.5-4.4 1.5-4.4 2.2-.4 .3-3.4 4.4-.6 4.7-.9 5.2-.6 5.7 .5 6.1 .4 6.8-.2 7.3-1.3 8-2.1 8.7 0 9.5 4.2 11.8 3-1.5 1.4-.5 4.4 1.2 2.1 10.3 0 10.9-.2 10.9 0 10.9 .5 11 2 8 4.4 1.2 4.4 8 4.5-3.8 6.8 30.3 2 5.8 2.7 5.1 1.7 1.9 4.5-1.9 4.3-5.4 1.9-5.5 1.7-10.9 .5-11-.6-21.8 .1-11 .9-5.6 1 5.6 .2 11-.2 10.9 .5 10.9 2.9 5.6 4-5.6 .5-10.9-.9-10.9-.2-21.9 .5-10.9 .5-2 3-8.9 1.4-12.1 1 1.1 3.4 2.5 4.4 6.7 4.5-7.4 4.4 5 1-6.8-1-8.5-.4-1.8 .4-4.9 4.4 .4 2.3-5 .9-8.7 1.2-2.4 .6 2.4 .4 8.7 .6 9.5 1.9 10.3 .9 3.3 4.4-.1 4.5 5.5 4-8.7 .4-1.1 1.9 12.1 1.4 10.9-3.3 6.5-4.4 4.9-4.5-.6-4.4 2.5-4.4 1.9-1.6 6.6 .1 11 1.3 10.9 .1 10.9-.9 11 1 4 8.8 3.7 4.5-14.3 4.4 0 4.4 4.2 1.3-8.6 1.5-10.9 1.6-5.9 1.9-5-.8-11-1.1-8.4-.7-2.5-2.6-10.9 1.5-10.9 1.8-6.4 .8-4.6 3.1-10.3 .5-1.1 4.4-2.8 3 3.9 1.5 10.6 .1-.3 4.3-4.8 2.7 4.8 1.7 4.6 4.4 6.6 4.4-4.2 .9 4 1.9 10.9 1.6 11.3 .1-.4 4.4-8.6 2.9-13.2 1.5-5 4.4-2.2 3.8 7.2 .6 1.8 4.4 2.3 .8-4.1 3.6-9.3 2.5-1.7 2-1.1 1.8 1.1 2.6 2.4 1.2-2.4 3.2-4.8 4.4 5.8 4.4-12.8 4.4 1.6 3.3-9.6 1.2-3.7 1.8 3.7 2.6 3.7 1.5-3.7 2.9-7.9 4.4 3.3 2.1-4.1 2.3-5.3 4.4 1.7 1.4 3.6 .9 8.7 1.5 9.5 .7 3.2 3.2-12.7 1.2-3.1 4.4 .2 1.5 12.4 1.7 10.3 1.2 5.9 3.3 5.1 1.1 3.5 3.9 7.4 .5 1.7 4.5 .7 1.1 8.5 1.3 10.9 2 8.1 4.4-3.4 4.4 .9 2.4 5.4 2 3.1 1.5-3.1 2.5-11 .4-5.6 2.9 5.6 1.6 1.8 .9 9.2 3.5 9.9 4.4 .4 4.4 9 4.4-3.7 2.4-4.7 2-8.4 .3-2.5 .5-11 .3-21.8 3.4-5.9 1 5.9 2.9 10.9 .5 3.7 .7-3.7 3.7-9.1 .8-1.8-.1-10.9 1.6-11 2.1-5.7 1.2 5.7 2.7 11 .5 1 2.6-12 1.5-10.3 .3-3.9 .9 3.9 3.6 4.4 1.6-4.4 1.7-9.5 .4-8.7 .7-7.7 4.4 2.3 4.4 2.8 .8 2.6 .7 8.7 1.2 9.5 1.7 7.7 2.3-7.7 2.1-9.4 3 9.4 .8 10.3 .6 11-.3 10.9-2.4 10.9-1.7 9.2-4.4 .6-.2 1.1 .2 2.7 4.4 7.9 .1 .4-4.5 6.3-.5 4.6 .5 5 1.3 5.9 3.1 4.2 4.4 5.3 .3 1.5 3.1 10.9 1.1 1.7 2.9-1.7 1.5-1.2 1 1.2 3.4 6.1 1.5 4.8 2.9 6.9 4.4 1 4.4 1.3 1.4-9.2 1-10.9 0-10.9-2.4-18.2-2.5 7.2-1.9 3.1-.6-3.1-1-10.9-1.3-10.9-.7-11 3.6-2 4.4-3.4 2.1-16.4 2.4-34.2 2.5-7.5 1.9-3.5 4.4-2.5 2.9 6 1.5 3.7 4.4-.5 .9-3.2 3.5-7.6 4.5 5.7 1.8-6.8 1.4-8 1.2-5.5 3.4-1.8 1-.8 3.5 8.1 .9 4.1 2.8 3.9 1.6 1.3 3.6 7.4 .8 5.8 1-5.8 3.5-6.5 1.2 6.5 1.7 19.8 1.5 10.8 2.3-10.8 2.1-7.5 3.3-2.8 1.1-.8 4.4-8.7 3.2 9.5 1.2 1.9 .6-1.9 .4-9.5-.6-8.7 4.1-6.5 2.2-1.5 2.2-3.5 1.3 3.5 1.6 8-.3 8.7 .3 9.5 1.1 10.3 .4 1.5 1-1.5 3.4-6.5 1.6-3.8 .7-9.5-2.3-4.8-1.4-3.9 1.4-1.8 1.7-6.2 .6-7.3-2.3-5.3-4.4 3.5-2.1-5-.8-6.1-1.4-5.7-.1-3-.3-2.2 .2-4.7-4.3-4.2-4.5 1.7-4.4-5.1-4.4-.2-4.4 .5-4.4 3.2-2-4.3-2.4-1.4-4.5-.7-4.4 1-4.4-.7-4.4 1.1-4.4-.1-4.4-2.4-4.5-.5-4.4 .3-1.8-.3-2.6-.1-4.4-.6-4.4 .2-2.3 .5-2.1 1.9-4.5-1.2-4.4 1.1-4.4 .4-4.4-.1-2.3 1.6-2.1 4.1-4.4-.7-4.1-3.4-.4-.1-13.2 0-.4 .1-4 2.3-4.4-1.7-2.4-.6-6.5-1.4-4.4 .1-5-2.4-3.8-1.5-5.1-1.9-8.2-2.4-2.9-.7-5.9-.5-106 0zM658.9,86.2l-.4 1.8-.8 5.2 .3 5.7 .9 3.6 .9-3.6 .9-5.7-.7-5.2zM667.8,87.1l-.5 .9 .7 5.2 2 5.7 .8 6.1 1.4 6.4 1.6-6.4 1-6.1 1.8-5.7-1.7-5.2-2.7-4.5zM142.2,131.3l-.3 4.5 .3 1.9 1.5-1.9zM239.4,192.3l-2.2 7-1.2 11-1.1 6.1-.5 4.8-.5 10.9 1 10.8 4.5-8.3 4.4 4.3 1.1-6.8 .5-10.9-.3-10.9-1.3-6.4-1.4-4.6zM332.1,196.8l-.6 2.5-.9 11 1.5 9.1 2.4-9.1 1.5-11zM619.2,204.6l-1.3 5.7 1.3 6.2 4.4 3.3 1.5-9.5-1.5-4.6zM632.4,205.1l-1.4 5.2 1.4 6 2.1-6zM676.6,189l-2.1 10.3 1.3 11 .8 5 2.8-16zM243.8,393.2l-2.1 2.8 2.1 5 .9-5zM539.3,145.3l.4-2.7 .5 2.7-.5 7.7zM454,166.6l1.8-2.4 .9 2.4-.9 7.2zM539,166.6l.7-7.9 .3 7.9-.2 10.9-.1 .6-3.2-.6zM451,177.5l.4-.4 .4 .4-.4 .9z"/>
<path fill="#00ff96" d="M128.9,56.9l600.7 0 0 15.1-13.3-.1-13.2 1.8-2.1 1.2-1.9 4-.4 3.6-.4 .8-1.4 4.7 .2 5.2-.3 5.7 0 6.1 .5 6.8-.3 7.3-1 16.7-.8 9.5-.9 7.6-1.7 24.6 .3 21.8 1.4 19.1 .5 2.8 .3 10.9-.6 11 1.4 10.9 2.4 10.9 .4 3.6 .6-3.6 3.8-8.2 2.2-2.7 2.2-7.5 1.3 18.4 .4 10.9 2.7 16.8 1.1 5.1 1.9 10.9 .7 11-.9 10.9 .4 10.9 1.2 19.2 4-8.3 .5-.6 4.4-1.2 .6 1.8 3.8 5.1 0 137-600.7 0 0-407.2 2.1-3.9-2.1-2.5zM142.2,78.2l-.5 .7-2.3 4.4 1.1 9.9 0 11.8 .2 14.1 0 8-1 8.7-.8 9.5 3.3 2.7 4.4 6.5 2.3-9.2 1.3-9.5-.9-8.7-2.7-5.6-.7-2.4-1.4-7.3-.3-6.8 .2-6.1 .6-5.7 1.2-5.2-.6-4.7-2.9-4.4zM354.2,64.1l-4.2 .6-4.6 1.1-4.5 .7-4.9 1.3-3.9 1.2-6.3 2.2-2.5 .6-4.4 .1-4.5 1.2-8.8 1.5-4.4-.2-4.4 .3-4.4-.3-4.5 1-4.4-.4-4.4 3.3-4.4-.9-4.4-1.1-4.4-.1-4.5-.8-4.4 .9-4.4 .7-4.4-2-4.4-.3-4.4-1.6-4.5 .1-4.4-1.1-4.4-.8-4.4-.1-4.4-.6-4.4-.1-13.3-1.8-4.4-.4-8.8 .4-4.5 .7-4.4 1-2.1 .8-2.3 1.8-6.3 1.9-2.5 1.2-3.2 2.8-1.2 1.8-1.4 2.6-.5 4.7-.8 5.2-.5 5.7 .8 6.1 .5 6.8-.6 7.3-2 7.2-1.4 .8-2.3 8.7 1.2 9.5 2.5 6.8 4.5 13 4.4-3.5 4.4 .1 1 4.9 .2 10.9-.3 10.9 .1 10.9 .4 11 3 12.9 4.4 3 4.4 7.6 4.5-2 2.1 11.3 2.3 8.2 .6 2.7 3.6 10.9 4.6 5.3 4.4-1.7 3.5-3.6 .9-1.1 3.4-9.8 1.1-7.5 4.4 .1 4.4-.4 4.4-2.9 .2-.2 1.3-11-1.5-10.5-2.4-11.3-.4-11 0-10.9 2.8-11.7 3.2-10.1 1.2-1 .7 1 3.7 6.7 4.5-7.4 .4 .7 4 3.7 .9-3.7 2-11 1.5-7.5 4.2-2.8 .2-.5 1.8 10.8 2.6 9.2 4.4-.1 4.5 5.2 3.7-3.3 .7-1.1 .1 1.1 .8 10.9-.9 1.8-4.4 4.4-4.5-.4-4.4 1-4.4 3.2-.6 .9-2.4 10.9-.1 11 1 10.9-.2 10.9-1.3 11 2.3 10.9 1.3 2.7 4.4-2.3 4.4 6.1 4.5-13.1 4.4 2.3 4.4 1.6 2.9-8.2 1.3-21.9 4-10.9-3.8-28.6-1.1-4.2 1.1-10.9 1.9-11 2.5-8.2 4.4-1.3 2.8 9.5 1.7 8.8 3.2-8.8 1.2-1.2 .7 1.2 3.7 10 .6 1 3.8 3.8 4.4-2.8 1.7 9.9 1.4 10.9 .5 10.9-.1 11 .9 4 1.6-4-.3-11 1.6-10.9 1.6-3.1 1.9-7.8 2.5-10.8 4.4-.8 .4 .7 3.5 10.9 .4 10.9-2.3 10.9-.8 11 1.9 10.9 1.3 5.2 1.7-5.2 2.7-9.4 .9-1.5 2.5-11-1.3-10.9-2-10.9 2.1-10.9 2.2-5.8 4.5-3 4.4 4.7 3.6-6.9 .8-1.2 4.4 5.7 1.9-4.5 2.5-7.6 4.4 2 2.4-4.7 2.1-6.2 4.4 5.6 4.4-11 4.4 3.1 1-1 3.4-6.8 3.7-1.9 .7-.1 2.3 18.3 2.2 10.3 2.4-10.3 2-7.1 4.4 2.2 2 15.2 2.4 11.9 3 10 1.4 8.2 .9 2.7 3.5 2.9 4.5 3.4 .6 4.6 2.6 11 1.2 6.7 3.5-6.7 .9-.8 2 .8 2.4 1.4 4.4 6.2 3.7-7.6 .7-3.6 2.8 3.6 1.7 .9 4.4 13.3 4.4-.1 3.5 7.7 .9 1.6 4-1.6 .4-.3 4.4-8.4 .4-2.2 1-10.9 1.2-21.9 1.9-8.4 2 8.4 1.6 10.9 .8 9.3 .9-9.3 2.6-10.9 .9-2.3 4-8.6 .4-5.1 4.4 3.9 2-9.7 2.4-10.9 4.5-1.1 3.4-9.3 1-8.1 .3-1.4 3.7-8.7 .4-.2 .3 .2 4.1 7.4 1.5 10.8 2.4 10.3 .5 3.6 1.1-3.6 3.3-13.4 1 3.1 1.3 10.3 .5 11-.3 10.9-2.5 10.4-4.4-2.9-1.1 3.4-2 10.9 .1 11-1 10.9 2.2 10.9 1.8 7.5 2.4 3.5 10.9 18.1 4.4 .9 4.4 8.1 2.4 5.6 2 3.2 4.4 2.5 4.4 3.1 1.7-8.8 1.8-10.9 .5-10.9-.3-10.9-1.5-11-1.2-10.9-.7-10.9 .1-11 1.1-10.9 1.3-10.9 1.7-21.9 2.5-10.3 1.9-5.4 2.6-4.1 1.8-1.4 .7 1.4 3.7 9.5 4.4-2 2.1-7.5 2.3-5 3.6 5 .9 1.6 .6-1.6 2.2-8.7 1.6-8.9 4.4-1 .8 1.9 2.2 8 1.4 8.6 4.4-.5 .3 .6 2.3 9.5 1.8 8.1 2.5-8.1 2-9.6 .8 9.6 .6 10.3 1.3 11 1.5 10.9 .2 7.5 .9-7.5 1.8-10.9 1.7-8.8 1-2.2 3.4-3.8 4.5 3.8 4.3 8 3.6-18.3-.8-9.5-.1-8.7 1.8-2.8 3.3 2.8 .7 8.7 .4 1.5 2.2 18.3 2.2 8.3 4.4-6.1 .7-2.2 4.3-10.3 .8-9.5-1-8.7-.4-8 .3-7.3 .8-6.8 2.3-11.8 1-4.9 1.9 4.9 1.5 5.7 1.4 6.1 2.2 6.8 1.2 7.3 .7 8.7 1.6-.7 2.8-4.3 1.2-3.7-.1-7.3-.6-6.8 1-6.1 0-5.7-.6-5.2-.9-2.6-1.4-2.1-3-4-4.4 1.6-3 2.4-1.5 4.1-1.4-4.1-3-2-1.1 2-.8 4.7-.4 5.2-.2 5.7-1.9 3.7-4.4 2.5-1.3-6.2-.7-5.7 1.1-5.2 .9-2 .9-2.7-.9-2.2-4.4-1.4-4.4-4.4-4.5 .8-.9-1.2-3.5-1.5-8.8 0-4.4 .6-4.4-2.4-1.9-.4-2.6-.2-8.8-.2-4.4 .1-4.4 0-4.4-.6-4.5-.2-4.4-.1-4.4-.3-4.4-.6-4.4 .2-4.4 1-4.5 0-11 .9-2.2 .3-4.4 2.9-4.4-.4-4.5-.6-13.2 .3-4.4 1-8.8-1.6-4.5-.9-4.4-.4-9.3-4-3.9-1.3-6.9-1.8-6.4-.7-4.4-.3-106 0zM685.4,350.4l-.5 1.9-.7 11-.1 10.9 0 10.9 .8 10.9 .5 1.4 2-1.4 1.4-10.9-1.7-21.8-1.3-11zM707.5,329.2l-.4 1.3-1.5 10.9-.2 21.9-2.3 6.5-4.4-1.9-1-4.6-3.4-10.5-1.7 10.5-1.7 21.8 1.4 10.9 2 1.4 5-1.4 3.8-6.7 4.4-3.8 .5-22.2 .5-11 .2-10.9-.7-10.9zM239.4,185.3l-2.1 3.1-1.9 10.9-1.5 11-1 10.9-.8 10.9 .5 11 2.3 7.9 4.5-3.9 4.4 1 2.9-5-.1-11 .2-21.8-1.6-11-1.4-3.9zM411.6,198.5l0 12 .3-.2 .2-11zM605.9,199.6l-.2 10.7 .2 .7 .4-.7zM619.2,189.3l-1.6 10-2.4 11 1.5 10.9 2.5 7.4 4.4-.5 1.9-6.9 1.5-10.9-3.4-10.6-.4-.4zM632.4,198l-.4 1.3-3 11 2.4 10.9 1 2.1 1.1-2.1 3.3-9.9 1.5-1-1.5-7.4-1.2-3.6zM636.8,169.4l-1.9 8.1 1.9 5.1 .8-5.1zM676.6,185.6l-1.3 2.8-2.2 10.9 1.1 11 1.9 10.9 .5 6.6 2.4-17.5 2-9.7 .4-1.3-.4-4-1-6.9zM239.4,394.4l-2.2 1.6 2.2 6.2 1.9 4.8 2.5 1.4 .9-1.4 1.7-11-2.6-8.1zM704.5,199.3l3-6.7 1.1 6.7 .2 11 .6 10.9-.8 10.9-1.1 9.7-4.4-6.3-.5-3.4-.5-10.9 1-10.8zM552.7,221.2l.2-8.3 1 8.3-1 2.9zM724.3,308.6l.9-9.7 .3 9.7-.3 10.9z"/>
<path fill="#00ff50" d="M128.9,56.9l600.7 0 0 14.3-4.4-.2-4.4 .2-4.5-.1-8.8 .8-4.4 .1-4.4 2.2-4.4 0-1.1 .7-.9 4 1.9 4.4 .8 9.9 .2 11.8 .8 6.8-.1 7.3-1.2 16.7-1 9.5-.6 10.3-1.4 21.9 .5 21.8 1.4 21.9 0 10.9-.4 11 .5 10.9 .6 9 1.7 12.8 2.7 7.5 3.8-7.5 .6-2.5 .8 2.5 3.6 9.4 2.3 12.5 .3 10.9-2.6 6.7-1 4.3-3.4 10.4-4.4-1.1-4.4 1-.2 .6-1.3 10.9-3 16.6-2.7-16.6-1.7-5.2-4.4-3.6-.4-2.1-2.8-10.9-.8-11-.3-10.9-.1-.5-.2 11.4-.4 11-1.9 21.8-1.9 9.5-.7 1.4-3.7 7-3.8-7-.7-1.7-.6 1.7-3.8 6.4-1.3 4.6 .2 10.9 1.1 10.1 2.1 11.7 2.3 1.2 4.5 .3 4.4 3.4 4.4-2.6 1.8-2.3 2-10.9 .1-10.9-.1-10.9 .6-9.9 .3 9.9 0 21.8 1.1 10.9 3 7.5 4.4-2.7 4.5 2.7 4.4-2.5 4.4-1.2 4.4-.9 2.1-2.9 1.7-10.9 0-10.9-.6-10.9 .2-11 1-13.2 1.2 13.2 .3 11-.3 10.9 .1 10.9 2.2 10.9 .9 .9 4.5 4.8 2.7-5.7 0-10.9-.2-10.9 .9-10.9 1-1.8 1.2 1.8 3.2 7.9 0 123.2-600.7 0 0-403.9 4.4-7.2-3.3-4.4-1.1-.7zM349.8,64.2l-8.9 1.5-8.8 2.1-8.8 2.8-4.4 .4-4.5 .9-8.8 1.4-4.4 0-4.4 .1-4.4-.2-4.5 .7-4.4-.1-3 1.1-1.4 1-4.4-.4-2.9-.6-1.5-.2-4.4 0-4.5-.6-4.4 .5-4.4 .2-4.4-1.1-4.4-.5-4.4-1.3-4.5-.1-2.2-.6-6.6-.8-4.4 0-4.4-.6-4.4-.2-13.3-1.8-4.4-.1-8.8 .4-4.5 .6-4.4 .9-4.4 1.6-4.4 1.4-7.9 2.3-.9 .8-1.4 3.2-2.2 4.4-.2 4.7-.7 5.8-2.2 5.1 2.2 2.1 1.3 10.8-.9 7.3-.4 1.2-3.1-1.2-1.3-1.1-4.4-4.9-.3-1.3-.8-6.8 0-6.1 1.1-6.5 2.4-4.4-.9-4.7-1.5-1.2-1.8-3.2-2.6-3.2-2.4 3.2-1.7 4.4 .9 4.7 .7 5.2-.6 33.9-1.5 8.7-.7 9.5 .9 8.5 4.4-.1 1.2 1.9 3.2 11.7 2.2-11.7 2.2-7.4 2.7 7.4 1.7 4.4 2.3 6.6 1.4 10.9 .8 11.3 .2-.4 1.1-10.9 3.1-8.5 4.4-.6 .4 9.1-.4 10.9-.1 10.9 .4 11 2 10.9 2.1 8.1 3.3 2.8 1.1 1.4 4.4 7.6 4 2 .5 .3 2.5 10.6 1.9 5.1 1.8 5.8 2.6 4.3 4.4 4.3 4.4-1.6 4.4-4.1 1.7-2.9 2.8-8.7 4.4-2.3 4.4 2.2 4.4-4.4 4.4-6.9 2 9.2 2.4 5 4.5-3.8 4.4 2.3 4.4-2.7 4.4 8.9 4.4-1.9 2 3.1 1.9 10.9 .5 1.5 1.7-12.4 2.8-8.2 3.5 8.2-.3 10.9 .2 11 .6 10.9 .4 1.8 2.5-1.8 1.9-5.3 .4-5.6 0-11-.4-5.8-1.6-5.1 1.6-1.5 2.8-9.4 1.6-4.5 3.9-6.4 .5-9.3 .3-12.6 .6-10.9-1.8-11-2.8-21.8 .5-10.9 1.8-11 1.4-4.6 4.4 .7 1.2 3.9 1.8 11 1.5 4.3 2.3-4.3 2.1-5.5 1.9 5.5 2.5 5.6 4.4 1.8 4.4 .3 .5 3.2 1.4 10.9 .3 10.9-.1 11 2.3 10.6 4.1-10.6-.6-11 1-5.3 .7-5.6 3.7-15.7 3.4 4.8 1.4 10.9-.2 10.9-.2 4-.9 7 .9 2.1 1.5 8.8 2.9 11.4 .3-.5 4.1-13 4.4-5.9 4.5-2.3 3.2 21.2 1.2 2 .9-2 .2-10.9-1.1-20.4-.8-1.5-3.6-1.7-4.5-9.1-2.7-11 1.8-10.9 .9-2.4 4.5-2.9 4.1 5.3 .3 .6 .2-.6 4.2-7.9 4.4 4.8 3.3-7.9 1.1-3.2 4.4 2.2 4.5-9 4.4 2.3 2.1-2.6 2.3-5.7 4.4 3.2 4.4-4.8 4.4 0 .9 7.3 1.8 10.3 1.8 13.9 1.8-13.9 2.6-11.5 1.5 1.2 2.9 3.4 .9 6.9 1.7 11 1.3 10.9-.8 21.8 .1 11 1.2 7.7 4.4-1 1.1-6.7 2-11 1.3-1.8 1.5 1.8 3 5 1.3 6 1.8 10.9 1.3 13.4 1.4-2.5 5-10.9 2.4-1.5 1.7 1.5 2.7 1.9 4.4-8.1 4.5 .7 4.4 13.6 4.4-1.1 1.8 3.9 2.6 4.6 4.4-.1 3.4-4.5 1-2 1.5-8.9 1.1-10.9 .6-11 1.1-10.9 .2-.9 1.8 11.8 1 11 1.6 3.6 2-3.6 .9-11 1.5-5.8 4.1-5.1 .3-.6 4.4-1.9 1.7-8.4 2-10.9 .7-3.2 4.5-1.9 2.5-5.9 1.9-5.8 4-14 .4-.8 4.4 7.8 .4 2.5 2.3 10.3 1.7 11 0 1 0-1 3.3-11 1.1-5 .8 5 .4 11-.4 10.9-.8 3.4-4.4-3.1-3.5 10.6-2.1 10.9 .2 21.9 1 8.6 .5 2.3 2.9 11 1 6.3 4.4 7.8 4.4 5.6 1.9 2.1 2.6 1.6 4.4 5.1 2.4 4.2 2 3.1 4.4 5.9 2.2 2 2.2 3.5 4.4 4.7 4.5-24.3 2.8-5.8 0-10.9-1.9-10.9-.9-4-1-7-1.1-10.9-.6-10.9-.3-11 .9-10.9 1.2-10.9 .9-11.4 2.6-10.5 1.8-6.4 1.8-3.9 2.6-4.5 1.7 4.5 2.7 5.9 4.4-1.9 .7-4 2.6-9.5 1.1-2.4 1.7 2.4 2.8 4.9 2-4.9 2.4-12.5 4.4 .4 1 3.4 3.3 18.2 .1 2.9 1.2-2.9 3.2-1.7 2.5 12 1.9 4.7 4.5-3.7 1 10 1.4 10.9-.6 10.9-1.8 10.5-1.9 .4-1.9 11 3.8 16.4 4.4 12.9 4.4-1.3 3.9-17.1 .5-3.5 .6 3.5 3.8 7.5 4-7.5 .4-1.5 4.5-4.3 4.4 4.3 .9-9.4-.9-4.6-3-6.4-1.4-12.8-1.2-9-.3-10.9 1.5-5.3 4.4-9 .4 3.3 2.4 11 1.6 5.8 4.4-5.7 3.4-11.1 4.2-10.3-.1-9.5-1.3-16.7 .1-7.3 1.8-12.9 .7-3.5 1.2 3.5 1.1 6.1 2.2 5 .6 1.8 1.6 7.3 .7 8 1.3 8.7 4.6 7.3 2-7.3 2.4-5.9 3.1-2.8-1.3-15.3-1-6.8-1.4-6.1-.8-5.7-.5-5.2-.6-4.7-1.1-4.4-2.1-4-3.1-1.4-4.7 1.4-2.3 4-1.9 1.6-2.3-1.6-2.1-3.8-1.2 3.8-2.2 4.4 .1 4.7-.2 5.2-.7 5.7-.2 .4-1.8-.4-1.9-5.7 1.6-5.2 1-4.7-1.5-4.4 .5-4-2.3-1.2-4.4-.7-8.9-.1-4.4-1.3-13.2-.1-.7-.3-3.7-.7-4.5-.4-8.8-.2-4.4 0-4.4-.1-4.4-.5-8.9-.6-8.8-1-4.4 .3-4.4 .9-4.5 .3-13.2 1.1-3.8 .9-.6 .4-4.4 0-17.7 1-4.4 .8-13.3-2.6-4.4-.5-8.8-3.9-4.4-1.4-1.3-.3-7.6-.8-8.8-.7-106 0-4.4 .4zM226.1,381.3l-.1 3.8 .1 1.2 .3-1.2zM243.8,381.2l-1.2 3.9-3.2 5.2-4.5 2.6-1.9 3.1 4 11 2.4 3.3 4.4 1.9 3.3-5.2 1-11-2.7-10.9zM605.9,193.9l-3.5 5.4 1.1 11 2.4 8.6 3.9-8.6 .4-11zM667.8,143l-1.7 2.3 1.7 4.2 .7-4.2zM676.6,182.6l-2.7 5.8-2.2 10.9 .9 11 2.1 10.9 .8 10.9 .1 11 1 5.6 4.3-5.6-.9-11-.4-10.9 1-10.9 .4-2.1 2.7-8.9 1.7-6.1 .8-4.8-.8-5.3-4.4 1.8zM251.4,155.6l1.2-.6 3.1 11.6 1.3 8.5 4.4 .4 4.5 .7 1 1.3-1 1-4.5-.2-4.4 .3-4.4 5.7-2.5 4.1-1.9 10.5-3.8-10.5-.6-4.8-3.7-6.1 3.7-1.3 2.3-9.6 2.1-9.9zM626.8,166.6l1.2-2.6 .7 2.6-.7 3.6zM230,177.5l.5-1.5 .9 1.5 2 10.9-.3 10.9-1.1 11-.6 10.9-.9 9.6-3.4-20.5-.8-11 1.1-10.9zM625.5,188.4l2.5-4.3 4.4 2.5 .7 1.8-.7 1.1-3.5 9.8-.9 4.2-1-4.2zM707.3,199.3l.2-.5 .1 .5 .2 11 .5 10.9-.8 7.9-3.1-7.9 2.2-10.9zM248,221.2l.2-4.1 .3 4.1-.3 7.3z"/>
<path fill="#00ff14" d="M128.9,56.9l600.7 0 0 13.5-4.4-.1-4.4 .1-4.5-.1-8.8 .5-4.4 0-4.4 .1-4.4 0-4.5 .2-4.4-.2-8.8 .1-4.4-.2-4.4 .2-4.5 .1-4.4-.2-4.4 .2-8.8-.3-4.4 .2-4.5-.1-4.4-.4-13.2-.1-4.4-.7-4.5-.4-17.6-.5-4.4-.6-8.9-.7-8.8-1.2-4.4 .4-4.4 .9-8.9 .9-8.8 .6-4.4 1-4.4 0-17.7 1.4-4.4 .5-17.7-3.1-2.3-1.1-2.1-1.1-4.8-2-4-.6-13.3-1.1-4.4-.3-4.4 0-4.4 .1-17.7-.1-13.2 .1-17.7-.1-4.4 .1-44.2-.1-4.4 .4-4.4 .5-8.9 1.3-8.8 1.7-8.8 2.6-4.4 .3-7.4 1.7-5.9 .9-8.8 0-4.4-.1-4.5 .5-4.4 0-4.4 1.4-4.4 0-4.4-.4-4.4-.1-4.5-.4-4.4 .4-4.4 0-4.4-1-4.4-.6-2.2-.6-2.2-.4-4.5-.1-4.4-.7-4.4-.4-4.4-.1-4.4-.6-4.4-.2-6-.9-7.3-.7-4.4-.1-8.8 .4-8.9 1.3-4.4 1.2-4.4 1-4.4 1.2-4.4 .9-3 1.9-.9 4-.6 1.2-4.4 1.4-3.6-2.6 .5-4-1.3-.6-4.4-.7-1.5 1.3-2.8 4-.1 .4-4.4-.4-4.5-2.7zM685.8,83.3l4-3.9 2.4 3.9 .8 4.7 .3 5.2 .3 11.8 1 6.8 .3 7.3-.6 8.3-1.4 8.4-.5 9.5-.2 10.3-1.4 21.9 .6 21.8 .7 11 .4 10.9-.1 10.9-.5 11 .4 10.9 1.3 21.8 .7 4.2 2.4 6.8 2 4.8 4.4-3.8 3.4 9.9-1.2 10.9-2.2 9.7-4.4 1.4-4.4 0-3.8 10.8-.7 4.1-1.1-4.1-3.3-4.2-3.5-6.7-.8-11-.4-10.9-2.9-10.9-1.2-3.3-.7 3.3-1.9 10.9 .1 10.9-.4 11-1.5 10.5-.3 .4-4.1 7.5-4.3-7.5-.2 0-3.2 10.9-1.2 3.1-4.4 16.2-.4 2.6-.5 10.9-.1 21.8 1 4.1 4.4 .7 4.4 1.9 4.5 .9 4.4 3.6 4.4-3.4 4.4-5.2 4.4 10.9 4.4-2 4.5 2 2.6-2.5 1.8-1.3 4.4-.4 4.4-1 4.4-5.6 4.4 3.4 4.5 5.7 4.4-9.2 4.4 .8 0 95-600.7 0 0-400.5 .2-.7 4.3-7 4.4 .1 .4 1.7 .7 5.2-.1 5.7-.5 6.1-.8 22.1-1.1 8.7-.5 9.5 1.1 10.3 .8 6.4 4.4-.6 1.6 5.2 1.9 10.9 .1 10.9 .8 5 .6-5 .4-10.9 2.4-10.9 1-8.3 3.1 8.3 1.3 1.7 1.6 9.2 .9 10.9 2 10.6 .3 .3 3.5 11 .6 2.6 4.4 3.7 .7 4.6 2.7 10.9 1 5.4 4.4 4.3 .8 1.3 3.6 7.7 4.5 3.8 3.4 10.3 5.4 8.2 3.1 2.7 1.3 1.6 3-1.6 1.4-.4 4.4-3.7 3.9-6.8 .6-1.6 4.4-2.3 4.4 3.1 4.4-4.3 4.4 3.5 1.1 1.6 3.3 2.6 2.7-2.6 1.8-1.4 1.4 1.4 3 7.5 4.4-2.6 2.5 6 1.9 .9 4.4 7.8 .7 2.3 3.7 7.1 1.7-7.1 2.8-18.9 .9 7.9 1.3 21.9 2.2 11.5 4.4-2.4 2.5-9.1 1.4-32.8 .5-1.6 4.1-9.3 .3-.6 3.6-10.3-1.2-11-.7-10.9 .6-10.9-1.2-11-1.1-2.2-1.1-8.7-1.3-10.9 .4-10.9 1.7-11 .3-1 2.2 1 2.2 3.9 1.1 7.1 3.4 10.1 2 .8 2.4 4.1 4.4-.9 4.4-3.1 4.4 5.8 .6 5 .2 10.9-.1 11 1.9 10.9 1.8 6.5 3.4-6.5 1.1-2.8 4.4-7.1 4 9.9 .4 .5 2.4 10.4 2 5 2.7-5 1.7-5.5 4.4-.4 4.5 8.3 4.4 7.3 4.4-8.9 .1-.8-.9-10.9-.7-10.9 .3-11-2.1-10.9-1.1-5.3-4.4 4.8-4.5-5.7-1.2-4.7 1.2-7.8 1.8-3.1 2.7-1.7 1.3 1.7 3.1 8.3 2.6-8.3 1.8-3.4 4.4 3.9 4.4-10.1 4.4 2.9 1.7-4.3 2.8-5.6 4.4 .9 4.4-5.3 4.4 2.7 4.4-5.3 2.3 2.3 2.1 5 .9 5.3 2.4 21.9 1.2 6.7 1-6.7 1.1-10.9 1.5-11 .8-3.5 2.7 3.5 1.7 3.4 .9 7.6 1.1 10.9 0 10.9-.1 10.9 .1 11 1.6 10.9 .8 4 4.4 6.5 1.8-10.5 1.3-10.9 1.3-5.2 3.1 5.2 1.4 4.1 1 6.8 1.3 10.9 .9 11 1.2 3.9 4.4-1 1.5-2.9 2.9-11 4.4-2.6 4.4-7.1 1.7-1.2 2.8-1.1 3.6 12 .8 3.1 4-3.1 .4-.1 4.4 7.8 4.4 1.4 4.4-5 .9-4.1 1.7-10.9 1.2-10.9 .7-11.8 1 11.8 3.4 7.5 4.1-7.5 .3-3.5 4.4-6.4 4.4-.3 .3-.8 2.4-10.9 1-10.9 .7-4.1 4.5-3 4.4 7.7 1-22.5 3.4-11 .4 .7 4 3.4 1.6 6.9 1.2 11-.7 10.9-3.6 10.9-1.8 10.9 .7 11 .4 10.9 1.1 10.9 1.1 4.4 1.8 6.6 1.7 10.9 .9 4.7 4.4 8.7 4.4 3.2 4.5 .7 2.7 4.5 1.7 4.2 4.2 6.8 4.6 4.6 3.4 6.3 1 2.7 4.4 5 4.5-23.5 4.4-8.9 1.7-8.1 .1-10.9-1.8-6-1.1-4.9-2.9-11-1-10.9-1.3-21.9 .6-10.9 1.3-13.1 2.9-8.7 1.5-6.6 4.4 1.4 4.4-3.9 4.4-.2 2.1-12 2.3-9.1 4.5 7.9 3.4-8.3 1-6.3 4.4 3.1 2.2 12.7 1 10.3 1.2 5.4 4.4-5.3 4.4 10.7 .3 .2 4.2 5.9 .5 5-.5 5.5-4.5 2.1-4.4 3.3-4.4 5-4.4 3.5-.5 2.4 .2 11 .3 1.4 4.4-.9 3.4 10.4 1 6.5 4.4-8.7 .6 2.2 2 10.9 1.9 4.2 2.4 6.8 2 8.4 4.4 8.1 1.2-5.6 .3-10.9 2.9-12 4.4 5.9 4.4-5.6 4.5-8 4.4 6.3 1.1-8.5 1.1-10.9-2.2-10.7-2.7-11.2-.2-10.9 2.3-10.9 .6-1.2 3 12.1 1.4 3.1 4.4-7.3 4.4-13.2 4.4-1.3 4.5-.2 1.1-3 2.2-10.3 1.1-2.7 1.4 2.7 3 9.9 3.8-9.9 .6-2.3 4.4-2.7 1-4.5 .9-8.7-2.8-22.1-1.2-6.1-2.1-5.7-.2-.7-.3-4.5 .3-2.1 4.4-1.8zM155.4,381.4l-1.2 3.7 1.2 2.3 1.2-2.3zM226.1,354.6l-.3 8.7-.9 10.9-.2 10.9 1 10.9 .4 3.4 4.4-.9 2.8 8.5 6.1 8 4.4 .9 4.4-5.1 1.1-3.8 .6-11-1.3-10.9-.4-4.9-2.6-6-1.8-2.7-.5 2.7-3.3 10.9-.6 1-8.9 3.1-.5-4.1-.4-10.9-1.6-10.9zM402.8,262.5l-.2 2.4 .2 2.9 .1-2.9zM504.4,188l-.3 .4-3 10.9 1.1 11 2.2 2.4 1.1-2.4 .9-11-1.9-10.9zM575,242l-.2 1.1 .2 5.3 .1-5.3zM685.4,174.6l-1.9 2.9-2.5 2.5-4.4-.4-4.2 8.8-2.1 10.9 0 11 1.9 5.1 1.2 5.8 .7 10.9-.3 11 1.4 10.9 1.4 5.4 4.4-3 .7-2.4 2-10.9-2-21.9 .6-10.9 3.6-11 1.7-10.9-1-10.9zM662.3,111.8l1-6 2.2 6 2.3 4.1 .8 3.2 .6 8-1.4 8.1-4.5-6.1-.7-10zM247.6,166.6l.6-2.9 4.4-1.6 1.2 4.5 1.4 10.9-2.6 3.7-4.4 6.9-2.9-10.6zM230.2,188.4l.3-1.3 .3 1.3-.3 11.9zM321.2,188.4l2.1-9.4 2.5 9.4-.2 10.9-2.3 10.3-2.8-10.3z"/>
<path fill="#28ff00" d="M128.9,56.9l600.7 0 0 12.7-4.4-.1-4.4 .1-4.5-.1-8.8 .4-8.8 .1-4.4-.1-4.5 .2-4.4-.2-8.8 .2-4.4-.3-4.4 .3-8.9-.1-4.4 .2-8.8-.4-4.4 .3-4.5-.1-4.4-.4-13.2-.1-4.4-.7-4.5-.4-17.6-.7-13.3-1.5-8.8-1.2-4.4 .4-4.4 .9-8.9 1.1-8.8 .6-4.4 .8-4.4 .1-8.9 .6-13.2 1.1-4.4-.9-4.4-.6-7-1.3-1.9-.5-4.8-2.6-4-.7-4.4-.6-13.3-1-4.4-.2-4.4 0-4.4 .1-8.9-.1-22 .1-17.7-.1-4.4 .1-44.2-.1-4.4 .3-4.4 .5-13.4 1.7-4.3 .8-8.8 2.2-4.4 .3-8.9 1.7-4.4 1-4.4 .2-8.8-.3-8.9 .7-4.4 .9-4.4 .2-4.4-.2-4.4 0-4.5-.3-4.4 .2-4.4 0-4.4-1-8.8-1.2-4.5-.1-4.4-.6-4.4-.4-4.4-.1-4.4-.6-4.4-.3-4.5-.6-8.8-.8-4.4 0-8.8 .3-4.5 .4-4.4 .7-8.8 1.4-4.4 1-4.4 .6-1.3 .4-3.2 1.6-4.4 0-4.4-1.6-4.4 .6-3.7 3.1-.7 1.1-4.4 .4-4.5-2.4zM689.3,83.3l.5-.5 .3 .5 1.5 4.7 .3 5.2-.1 11.8 .8 6.8-.1 7.3-1.9 8 .3 8.7 .3 19.8-1.2 21.9 .7 21.8 .7 11 .1 10.9-.3 10.9-.5 11 .2 10.9 1.3 21.8 2.1 14.4 3.1 7.5-2 10.9-1.1 .2-2.2 10.8-2.3 6.2-3.8-6.2-.6-2.2-1.6-8.8-.6-10.9-1.2-10.9-1-11 1-10.9 2.8-10.9 .6-4.1 1.6-6.8-1.6-7.1-1.6-14.8 .4-10.9 3.5-11 1.3-10.9 .5-10.9-4.1-9.9-4.4 3.9-2.6-4.9 2.6-11.4 4.4-4 1.6-5.9 1.6-9.5 .8-8.7-.9-8-1.1-7.3-.3-6.8-.8-6.1-.5-5.7 1-5.2zM131.6,93.2l1.8-3.2 4.4 1 .3 2.2-.3 6.8-1.5 5-.2 6.8 .2 7.3 0 8-1.1 8.7-.4 9.5 3 24.6 4.2 7.6-.3 10.9 .5 4.4 1.4 6.5 3 9.5 3.1-9.5 .6-10.9 .7-6.3 4.4 .4 .6 5.9 2.5 10.9 1.4 8.7 .7 2.3 2.2 10.9 1.5 10.3 4.4-6 1.5 6.6 2 11 .9 4 4.4 3 1.8 3.9 2.6 12.4 4.5 .7 7.2 8.7 1.6 2.1 4.4 4.7 4.4-2.5 4.4-4.5 4.5-5.2 4.4-1.5 4.4 1.7 4.4-3.2 4.3 8.4 .1 .7 4.4 1.4 4.5-2.4 6.5 11.3 2.3 7.5 4.4-5.6 3.9 9 .5 .9 4.4 10.6 3.5-11.5 1-5.3 .3 5.3 2 10.9 2.1 9.7 4.4-1.8 2.9-7.9 1.5-6.1 1.7-4.8 2.1-10.9 .8-11 .1-10.9 4.1-11 2.3-10.8-1.8-11-.5-1.6-1.3-9.3 .6-10.9 .7-7.3 .7-3.7 0-10.9 3.8-4.4 1.9 4.4 1 10.9 .3 11 1.2 8.1 2.1 2.8 .2 10.9-.8 11 2.9 7.7 1-7.7-.4-11-.1-10.9 1.9-10.9-.3-11 .4-10.9 1.9-2.7 1.7 2.7 .9 10.9-.2 11 2 6.3 .8 4.6 2.5 10.9 1.1 3.1 1.5-3.1 3-5.3 4.4-.4 4.4 3.1 .6 2.6 3.8 9.5 4.4-7.3 4.4 .5 4.5 8.9 4.4 5.5 4.4-3.6 .8-2.5 1-11-.8-21.8 2-11-2.1-10.9-.9-.7-2.7-10.2 2.7-8.7 4.4 3.1 2.8-5.3 1.6-3.8 4.4 2.7 3.9-9.9 .6-1.1 4.4-.6 4.4-3 4.4 2.6 4.4-4.8 3 6.9 1.4 9.3 1.1 12.6 1.9 10.9 1.5 9.3 3-9.3 .2-10.9 .8-10.9 .4-2.8 1.3 2.8 3.1 10.9 .5 10.9 .4 21.9 1.3 10.9 2.2 11.1 4.4 10.9 4.4 8.1 2.3-8.2 .6-11 1.6-3.8 .5 3.8 .8 11 3.1 10.2 4.4 .6 4.4-8.4 4.4-8.1 4.4-6.2 4.5-5.3 1.8 6.2 2.6 10.7 4.4-6.3 4.4 6.4 .3 .2 4.1 5.4 3.5-5.4 .9-1 2.2-10 1.5-10.9 .8-6.6 3.6 6.6 .8 .5 1-.5 3.4-3.5 4.4-5.6 4.4 2.1 4.4-.8 4.5 5 3.7-8.1 .3-11 .4-4 4.4 13 2 23.8 2.6 11 1.6 10.9 2 10.9 .6 2.3 4.1 8.6 .3 1 4.4 3.8 4.5-4 4 10.2 4.8 7 3.7 3.9 3.9 10.9 1.2 1.6 4.4 7.1 1.5-8.7 3-15.9 4.4-8.1 1.7-8.8 2.4-10.9 .3-5 .5 5 2.7 10.9 1.2 7.9 .9-7.9 .9-10.9 .1-10.9-.4-10.9-1-11-.2-10.9 1.9-10.9 1.4-11-3.4-10.9-.2-.2-2.5-10.7 1.6-10.9 .9-1.8 2.5 1.8 1.9 2.3 1.7-13.3 1.7-10.3 1-4 2.4 4 2.1 4.3 2.1-4.3 2.3-6.6 4.4 5.4 1.7 11.5 2.4 11 .3 .9 1-.9 3.4-4.1 1.7 4.1 2.8 10.9-4.5 7-4.4 2-3.9 1.9-.5 .4-2.3 10.5 .4 11 1.9 7.9 4.4-3.1 2 6.1 1.7 10.9 .7 7 4.4-1.9 4.5 8.3 1.8 8.5 2.6 7.7 1.6 3.2 2.8 3.8 2.9-3.8 1-10.9 .1-10.9 .4-1.8 1.1 1.8-.2 10.9 1.6 10.9 1.9 1.8 .7-1.8 2.5-21.8 1.2-2.2 4.5-1.2 1.2 3.4-.4 10.9-.8 5.8-.3 5.1 .3 1.9 4.4-4.8 1.3-8-.1-10.9 .3-11 2-21.8-1.3-11-2.2-6.3-1.1-4.6 .9-10.9 .2-.6 .1 .6 4.3 9.6 4.4-7.7 4.4-12.5 4.4-.5 4.5-2.6 3-8.2 1.4-5.5 1.8 5.5 2 11 0 10.9-5.3 10.9-1.8 10.9-1.1 11 3 10.9 1.4 3.4 .4 7.5-.4 8.6-.2 2.4 .4 10.9 2 10.9-.2 10.9-2 15.2-.8 6.7 .5 10.9-.8 11-3.3 6.3-4.5-1.1-4.4 2.6-3.4 3.1-1 3.9-1.1 17.9-2 11-.7 10.9 .5 10.9 .2 10.9 2.5 11 .6 2.1 3.8-2.1 .6-.3 8.9 3 4.4 2.8 4.4-3.4 2.1-2.1 2.3-2.7 4.4 11.3 4.4-1.1 4.5 1.1 4.4-5.1 4.4 1 4.4-1.4 4.4-5.3 4.4 2.5 4.5 5.5 3.2-5.8 1.2-2.6 4.4 1.7 0 88.3-600.7 0 0-101.2 4.1-8.1-1.4-10.9-2.7-6.6 0-221.3 .3-1-.3-1.7 0-37.5zM173.1,341.2l-1.4 11.1 1.4 3.9 1.4-3.9zM181.9,362.8l-.3 .5-4.1 4.3-3.9 6.6-.5 1.6-.3-1.6-4.1-9.1-4.1 9.1-.3 5.6-.5-5.6-3.9-8-4.5 3-4.4 5-4.4-1.5-4.4-5.3-4.4 5-1.4 1.8-2.7 10.9 4.1 7.5 4.4-3.9 4.4 3.1 4.4-3.1 3.8 7.3 .6 .5 .5-.5 4-8.4 4.4-2 4.4 6.5 4.4-3.6 8.8 1.2 2.1-4.6-.2-10.9-1.7-10.9zM248.2,321.4l-1.1 9.1-.4 10.9-1.3 10.9-1.6 5.3-3-5.3-1-10.9-.4-2.3-2.4 2.3-2.1 4-.9-4-3.5-3.7-2 3.7-2.4 4.1-1.3 6.8-.4 11-.8 10.9-.1 10.9 .8 10.9 1.3 11 .5 2.6 4.4-.6 4.4 5.1 3 3.8 1.5 1.4 4.4 .1 4.1-1.5 .3-.2 3.1-10.7 .4-11-1.1-10.9-.3-10.9 2.3-16.4 .5-5.5 .2-10.9-.7-14.1zM371.9,220.1l-.3 1.1-.9 10.9 .9 11 .3 1.8 .3-1.8 1.2-11zM402.8,216.6l-1.8 4.6 .7 10.9 .8 11-1.9 10.9-1.4 10.9 1.2 10.9 2.4 10.2 4.2-10.2-1.7-10.9-2.3-21.8 .3-11-.1-10.9zM539.7,434.1l-3.5 5.7-.9 1.8-2.4 9.1 1.1 10.9 1.3 3.6 4.4 7.9 .4-.6 3.1-10.9 .9-6.3 4.4 1.1 3.1-5.7-2.3-10.9-.8-1.5-1.5 1.5-2.9 7.5-1.5-7.5zM579.4,327.6l-4 2.9 4 3.5 .6-3.5zM583.8,251.9l-.1 13 .1 .8 .2-.8zM512.3,155.6l.9-2.7 4.4 .9 .4 1.8 .7 11-1.1 9-.4 1.9-3.6 10.9-.4 3.1-1.5-3.1-.9-10.9 .3-10.9zM282.8,166.6l.7-5.1 2.6 5.1 2.2 10.9-.4 4.5-4.4 5.9-1.1-10.4zM247.3,177.5l.9-4.7 4.4 1.1 .4 3.6-.4 .5-4.4 2.7zM342.1,177.5l3.3-6.1 2.2 6.1-2.2 4.2zM565.8,177.5l.4-1.3 .5 1.3 1.8 10.9 .7 10.9 .2 11 1.2 6.5 2.6 4.4 .2 10.9-2.6 11-.2 3.3-.4-3.3-4-3.3-2.2-7.7-1.2-10.9-.7-10.9-.3-1.6-.8-9.4 .4-10.9 .4-4.2zM322.9,188.4l.4-1.8 .5 1.8-.5 11zM234,363.3l.9-5.2 4.5 2.4 .5 2.8 .3 10.9-.8 2.9-4.5 1.6-1.4-4.5z"/>
<path fill="#78ff00" d="M128.9,56.9l600.7 0 0 12-4.4-.2-26.5 .3-4.4-.1-4.5 .2-8.8-.2-4.4 .2-4.4-.2-4.4 .2-8.9-.1-4.4 .2-8.8-.3-4.4 .3-4.5-.1-4.4-.3-8.8 0-4.4-.2-8.9-1.1-8.8-.6-8.8-.3-8.9-.9-8.8-1.3-4.4-.5-4.4 .3-8.9 1.6-4.4 .5-8.8 .6-4.4 .7-4.4 0-22.1 1.5-4.4-.8-4.6-.5-8.7-2.4-1.3-.7-3.1-.9-4.4-.7-4.4-.4-13.3-.8-8.8-.3-4.4 .2-8.9-.2-22 .2-17.7-.2-4.4 .1-44.2 0-8.8 .7-17.7 2-2.4 .3-6.4 1.4-4.4 .3-4.5 .7-8.8 1.7-4.4 .2-8.8 0-8.9 .8-4.4 .7-4.4 .5-8.8-.1-4.5-.2-8.8 0-4.4-.8-8.8-.9-4.5 0-8.8-1-4.4-.2-4.4-.6-4.4-.3-13.3-1.2-13.2 .2-4.5 .3-8.8 1.1-8.8 .7-4.4 .6-4.5 1.3-4.4 0-4.4-.5-4.4 .6-2.8 1.2-1.6 1.5-4.4 .9-4.5-2zM689.4,88l.4-.9 .3 .9 .4 5.2-.4 11.8 .2 6.8-.5 2.8-.4-2.8 .1-6.8-.3-6.1-.6-5.7zM132,111.8l1.4-5.1 1.5 12.4 .2 8-1 8.7-.3 9.5 3.8 32.2 2 10.9 2.6 18.5 1.1 3.4 3.3 8.8 3.8-8.8 .6-1.8 1.6-9.2 2.8-7 1.7 7 1.7 11 1.1 11.8 2.2 10 .9 11 .1 10.9 .6 10.9 .6 3.4 3.8 7.5 .6 1.7 .3-1.7 .2-10.9-.5-1.7-2-9.2-.2-10.9 2.2-8.5 3 19.4 1.4 2.5 4.4 2.2 1.8 6.2 1.9 10.9 .7 3.6 4.5-.8 4.4 2 7.1 6.2 1.7 2.1 1.7-2.1 2.7-1.8 4.4-3.9 4.5-3.6 4.4 .1 4.4-.7 4.4-2.6 .8 1.5 2.9 11 .7 6.7 4.4-1.9 4.5 5.4 4.4-4.5 1.8 5.2 .7 10.9-.2 11-1 10.9-.9 10.9-.4 2.7-.6-2.7-1.9-10.9-1.9-5.6-4.5 3.4-4.4 1.2-.2 1-4.2 8.6-.7 2.3-1.9 10.9-.5 11-.8 10.9 0 10.9 1.7 21.9 1.9 10.9 .3 1 4.4-2.7 2.2 1.7 2.2 1.2 4.5 3.8 4.4-.4 4.4-.8 2.5-3.8 2.9-10.9 .5-11-1.3-10.9 .3-10.9 1.3-10.9 .9-11 0-10.9-.3-10.9 .7-10.9 1.3-6.4 2.2 6.4 2.2 10.2 1.2-10.2 2.5-11 .8-2.2 2.4 13.2 2 7.8 4.4-1.2 4.4-12.1 3-5.5 1.4-3.9 4.4 7.2 .8-3.3 1.6-10.9 .4-10.9-1.1-21.9 2.5-10.9 .3-2.3 .9 2.3 3.5 6.5 1.7 4.4-.1 10.9 2.8 1.8 .5-1.8 .7-10.9 1.4-10.9 .5-10.9-.3-11 .3-10.9 1.3-6.3 2 6.3 2.4 12.8 3 9.1 1.4 1.1 .4-1.1 4.1-8.9 4.4 2.5 4.4-.9 2.9 7.3 1.5 6.1 4.4-7 4.4-1 4.5 9 2.7 3.8 1.7 2.6 4.4-1.8 .8-.8 3.1-10.9-.4-11-.1-10.9 .3-10.9 .7-3.2 4.4-5.2 2.6-2.6 1.8-2.5 1 2.5 2.6 11-1.7 10.9-.2 10.9 .9 11 1.4 10.9 .5 1.9 .6-1.9 1.9-10.9 1.2-11-1-10.9-2.2-10.9 .8-11-1.3-9-.8-1.9-3.7-10.7-4.4 7.1-4.4-5.6-4.4-1.5-.1-.2 .1-.2 4.4-.5 4.4-6.2 4.4 6.8 2.3-10.8 2.2-5.6 4.4-3.1 4.4-.9 4.4 2.7 4.4-4.8 .3 .7 2 11 .7 10.9 1.4 5.8 1 5.1 1.3 10.9 .3 11-.2 10.9 1.7 10.9 .4 .8 1.6 10.2-2.1 10.9-1.6 10.9 1.2 10.9 2.5 11 2.8 6.6 4.4-5.1 2.1-1.5 2.3-4.1 4.4 1 1.4 3.1 3 4 .7-4 .9-11-1.5-10.9 3.3-10.9 1.1-5 .8 5 3.6 6.9 4.4 .5 4.4-7.3 4.4-8.2 3.1-2.8 1.3-1.7 4.5-9.3 4.4 19.7 3.1-8.7 1.3-1.9 4.4 6.5 3.4 6.3 1 3.8 4.4-.2 1.3-14.5 2.2-11 1-7.4 4.4 1.2 4.4 2.1 4.4-7 8.8-1.7 1.8 1.9 2.2 10.9-.4 11 .9 8.2 .9-8.2-.2-11 3.7-9 4.4 .9 .6 8.1 1.9 11 1.9 9.7 1.7 12.1 2.7 10.9 3.9 11 .5 1.9 4.4 8.2 3.7-10.1 .8-1.2 .4 1.2 4 7.1 2.5 3.8 1.9 4.4 2.4 6.5 1.6 11 .4 1.6 2.2-1.6 2.2-.8 .4 .8 3 10.9 1 6.2 2-6.2 .6-10.9 1-11 .9-4.7 4.4 4.7 .8-10.9 1.2-10.9 2.4-12.8 .5 1.8 1.9 11 1.2 10.9 .6 10.9-1.3 11-1.5 10.9 1.2 10.9 1.5 10.9 .3 6.8 1-6.8 3.4-3 1.9-7.9 2-10.9 .5-8.5 0-5.7-4.4-3.2-3.8-4.5 .6-10.9 2.9-32.8-.2-10.9-.9-10.9-1.3-11 0-10.9 2.7-10.5 4.4 7.3 1.5-7.7-2.6-11-1.5-10.9-.8-10.9 1.3-10.9 .9-11 1.2-8.2 4.1 8.2 .4 1.7 .3-1.7 4.1-7.8 4.4 6.6 2.2 12.2 2.2 6.8 4.4-3.1 2 7.2-2 3-4.4 .7-4.4 2.5-3.8 4.7-.3 10.9 .6 11 2.7 10.9 .8 5.1 2.4-5.1 2-1.8 .6 1.8 1.8 10.9 .9 11 1.1 7.2 4.4-.8 2.3 4.5 3.4 10.9 3.2 5 4.4 5.1 4.4-2.8 4.4 1.8 3.2-9.1 1.2-9.5 3.2 20.4 .4 11 .9 5.9 2.2-5.9 2.2-8.4 4.4 16.3 .7-7.9-.7-11-.4-10.9 .4-5.8 .1-5.1-.6-10.9-.4-11 .3-10.9 .6-6.6 .9-4.3-.8-11 2.2-10.9 2.1-3.8 2.7-7.1 1.7-4.9 8.9-1.8 4.4-12.6 1.9 8.4-.1 10.9-5.2 10.9-1 8.4-.7 2.5-3.8 8.2-3 2.8-1.4 5.2-.5 5.7 .5 4.6 4.4-5.7 3.2 12 1.3 2.8 1.2 8.2 2 21.8-.3 10.9-2.1 21.9 .9 10.9-1.7 10.8-4.5-.9-1 1.1-3.4 1.6-4.4 4.2-2 5.1-.3 10.9-.9 10.9-1.2 5.9-3.1 5.1-1.3 4.1-4.4 2.5-.6 4.3 .6 5.9 .7 5 1 10.9 .6 11 2.1 8 1.8-8 2.6-5.5 1.1 5.5 3.3 10.7 4.4-4.8 4.4 .6 8.9 4.3 4.4-3.9 4.4-3.6 3 7.6 1.4 6.5 2.3 4.4 1 11 .1 21.8 1 7.7 1.6 3.2 1.9 11 .1 10.9-55.5 0 .3-10.9 1.9-32.8 1.2-8.7 1.7 8.7 .4 10.9 2.3 10.2 .9-10.2-.1-10.9-.8-14.8-3-7.1-1.4-2.6-2.9-8.3-1.6-1.1-.3 1.1-2.7 21.9-.3 10.9 .3 10.9-.1 10.9 .6 21.9-4.2 0-.4-10.9-1.7-9.8-.5 9.8-.1 10.9-20.3 0-.5-10.9-.7-5.6-.3 5.6-.4 10.9-15.1 0-.4-10.9-1.4-10.6-4.5-2.9-2.1 2.5-2.3 14.7-.2 7.2-10.8 0-.1-10.9-2.1-5.5-1.4 5.5-3 9.2-.3 1.7-15.9 0 .6-10.9 1.7-11 .6-1.7 4.4-4.6 2.4-4.6 2-5.4 1.7-5.5-1.3-10.9-.4-.7-4.4-3.2-3.7-7.1-.7-.8-2.1 .8-2.3 1.6-4.4-7.5-4.4 7.4-3.1 9.5-1.4 5-.8 5.9-.1 10.9 .5 10.9 .4 6.3 3.5 4.7 1.3 10.9-406.7 0 0-94.3 4.1-4.1 .4-.7 .4 .7 4 2.8 4.4-2 4.4 3.5 4.4-2.7 4.4 3.3 4.5-5 4.4-2.1 1.5 2.2 2.9 2.4 4.4-.4 4.4-.6 4.4 .2 4.5 .1 2.9-1.7 1.5-5.1 .5-5.8-.5-6.8-.9-4.1-1.8-10.9-1.4-11-.3-1.7-2.7-9.2-1.8-8.8-4.4 10.4-.3-1.6-4.1-9.5-4.1 9.5-1.4 10.9-2.6 11-.7 1.7-4.4-9.1-4.5 3.9-4.4 4.8-4.4-1.9-4.4-8.2-4.7 8.8-4.1 5.5-2.3-5.5-2.2-7.3 0-57.9 .2-.4-.2-.3 0-140.8 3.3-11.3-1.1-9.5-2.2-5.1 0-10.3 .4-1.3zM142.2,230.5l-.8 12.6 .8 3.1 .4-3.1-.3-11zM380.7,184.9l-1.3 3.5-.5 10.9 .8 11-1.5 10.9-.9 10.9 2.2 11 1.2 7.7 1.4-18.7-.5-21.8 .4-11-.5-10.9zM539.7,345.1l-.3 7.2 .3 1.9 .4-1.9zM583.8,230.4l0 1.7-2 11-1.5 10.9-.3 10.9 2 10.9 1.5 11 .3 4.3 .2-4.3 .8-11 1.6-10.9 .8-10.9-.6-10.9-2.6-11zM588.3,436.9l-.4 2.9-.4 10.9 .8 9.1 .6-9.1-.2-10.9zM628,447.4l-.7 3.3 .1 10.9 .6 8.2 .9-8.2 .6-10.9zM688,155.6l1.8-9.3 .5 9.3-.5 9.1zM512.9,166.6l.3-2.2 1.4 2.2-.6 10.9-.8 2.7-.5-2.7zM291.2,199.3l1.2-5.5 .9 5.5 .1 11 1 10.9-.7 10.9-1.3 6.3-1-6.3-3-10.9 1.8-10.9zM564,199.3l2.2-8.6 .7 8.6 0 11 1.9 10.9-1 10.9-1.6 1.3-.4-1.3-1.3-10.9 .8-10.9zM689.6,199.3l.2-3.4 .9 14.4-.2 10.9-.7 13.6-.5-2.7-3-10.9 .1-10.9zM405.7,221.2l1.5-8.1 .8 8.1 1.5 10.9 2.1 9.2 4.4 11.5 .6 1.2 3.8 10.9-4.4 5.6-4.4 1.3-3.4-6.9-1-2.7-1.2-8.2-1.3-10.9zM686.8,264.9l3-5.1 1 16 1 11 1.2 10.9-.6 10.9-2.6 11.3-.2-.3-3.2-11-1.9-21.8 0-11 .9-7.6zM696.6,417.9l2.1-2.6 4.2 2.6 .2 1.4 .3-1.4 4.1-1.7 4.4-4.9 4.4 1.3 4.5 5.3 4.4-7.5 4.4 1.5 0 82.5-35.1 0 .1-10.9 .3-11-.2-10.9-.4-10.9-.2-10.9 .2-.9 .6-10.1zM703.1,455l-.5 6.6-.1 10.9 .6 5.2 .8-5.2 .1-10.9z"/>
<path fill="#b4ff00" d="M128.9,56.9l600.7 0 0 11.2-4.4-.2-4.4 .2-4.5-.1-17.6 .1-4.4-.1-4.5 .1-8.8-.1-4.4 .1-4.4-.2-4.4 .2-8.9 0-4.4 .2-4.4-.3-4.4 0-4.4 .3-4.5-.1-4.4-.3-8.8 0-4.4-.2-4.4-.8-4.5-.5-8.8-.5-8.8-.3-7.4-.9-5.9-.8-8.8-.9-4.4 .2-13.3 2-8.8 .6-4.4 .5-13.3 .3-4.4 .4-8.8 .4-4.4-1.1-4.4-.5-4.2-1.1-4.7-.8-4.4-1-4.4-.6-4.4-.3-13.3-.8-8.8-.2-4.4 .1-8.9-.1-22 .1-17.7-.1-4.4 .1-44.2 0-4.4 .2-8.8 .9-13.3 1.2-8.8 1.2-4.4 .2-4.5 .5-8.8 1.5-4.4 .4-8.8 .1-8.9 .9-8.8 1.1-4.4 .2-8.9-.3-8.8 0-4.4-.5-4.4-.2-4.4-.4-4.5 0-4.4-.6-4.4-.5-4.4-.1-4.4-.5-17.7-1.4-13.2 .1-4.5 .1-8.8 .7-8.8 .3-4.4 .4-4.5 .9-4.4 .2-4.4-.3-4.4 .9-4.4 1.7-4.4 .5-4.5-.9zM133.1,119.1l.3-.5 .4 8.5-.4 4.4-1.8-4.4zM131.6,155.6l1.8-5.7 1.9 16.7 .7 10.9 1.2 10.9 .6 1.4 1.5 9.5 1.5 11-.2 10.9-1.5 10.9-1.3 8.3-4.4-3.7-.6 6.4-1.9 10.9-.4 10.9 2.9 3.2 2.2-3.2 2.2-4.2 4.4-1 1.8-5.7 .8-10.9 .4-11 1.4-4.2 4.4-3.4 .3-3.3 1.4-10.9 2.3-11 .4-1.1 .3 1.1 1.7 11 .7 10.9 1.8 11.3 1.4 10.6 0 10.9 .2 10.9 1.5 10.9 1.3 4.9 2.3 6.1 2.1 6.1 1.5-6.1 1.6-11 1.3-7.3 4.4-.5 4.4 21.8 4.5 .4 4.4 2.4 4.4 1.4 3.3 3.7 1.1 2 .5-2 3.9-6 4.4-5 4.5-1.8 4.4 .6 4.4-2.7 4.4-.6 1.3 4.6 1.7 10.9 1.2 10.9 .1 11-2.7 10.9-1.6 3.2-2.5 7.7-1.4 10.9-.5 9-.9 12.9 .1 10.9 .8 10.9 .4 11 1.2 10.9 2.8 8.2 4.4-3.8 8.9 4.1 4.4-.7 4.4-.1 4.4-6.5 1.3-1.2 2.6-10.9 .5-8.6 .3-2.4-.8-21.8 .2-10.9 .3-4 1.2 4 3.2 8.5 1.3-19.5 1-21.8 1.8-10.9 .4-1.3 2.5 12.2 1.9 6.6 4.4-1.1 1.8-5.5 2.6-7 4.4-3.8 4.4 7 2.6-7.1 1.9-12.8 4.4 3.4 .2-1.6 2.7-10.9 1.5-5 2.4-5.9 2-6.7 4.2-4.3 .2-1.4 .3-9.5 2.4-10.9 1.7-2.2 3.2-8.7 1.3-2.9 3.2 2.9 1.2 1.5 1.5-1.5 2.9-1.8 .7 1.8 2.4 10.9 1.3 6.8 3.7-6.8 .7-1.1 4.4-2.4 1.9 3.5 2.6 3 4.4 7.3 4.4 .4 4.4-4.8 1.7-5.9 1.3-10.9 1.4-8.4 3.7-2.6 .7-1.2 .9 12.2 1.3 10.9 2.3 10.5 3.7-10.5 .7-6 .8 6 1 10.9 2.6 23.7 3.3-12.8 1.1-2.1 1.8 2.1 2.6 4.5 4.4-10.1 .5 5.6 1.4 11 2.6 3.5 3.1 7.4 1.3 3.8 1.8-3.8 2.6-3.2 4.4-2 4.4 3.6 1.3 1.6 3.1 7.8 .8-7.8 1.5-10.9 1.3-11 .5-10.9 .4-1.2 .7 1.2 2 10.9 1.7 3.7 3.2-3.7 1.2-1.4 3.7-9.5 .7-1 4.4-10 4.4-.5 3.5-10.3 1-2 .4 2 1.9 10.9 2.1 6.4 2.9-6.4 1.5-4.4 4.4 3 .7 1.4 3 10.9 .7 5.6 4.4 2.4 1-8 1.1-10.9 .8-10.9 1.6-9 1.3-2 3.1-2 1.9 2 1.3 11 1.2 8.3 1.7-8.3 2.7-8 2.3 8 .8 10.9 1.3 9.6 1.4-9.6 .2-10.9-1.1-11 3.9-5.9 1.8 5.9 .1 11 .8 10.9 1.8 8.4 2.1-8.4 .7-10.9 1.6-10.9 4.4 9 .3 1.9 1 10.9 1.8 10.9 1.3 3.6 1.4 7.3 6 21.9 1.4 11.4 2.9 10.5 1.5 10.8 1.5-21.8 3-10.6 4.4 7.2 1.5 3.4 .4 11-1.9 2.8-1 8.1-2.1 10.9-1.1 10.9 1.6 11 2.6 8.2 4.4-15 1.4-4.2 3.3-10.9 2.7-10.9 1.4-2.3 .7 2.3 1.6 10.9 2.1 8.6 4.5-8.6 4.4 .5 3.5 10.4 .9 3.1 1.3 7.9 1.5 10.9 .4 10.9 .2 10.9 1 4.8 1.1 6.2 2.1 21.8 .4 11-.3 10.9-1.2 10.9-.8 10.9-.5 11-.2 10.9-1.4 0-.1-10.9-1-11-2.5-8.1-1.3-2.8-2.1-10.9-1-11.6-3.1-10.3-1.3-2-4.5-1.8-4.4 .3-4.4-4.5-4.4-.5-1.4-2.4-3-8.1-4.4-3.1-4.5 9.7-.4 1.5-.5 10.9-1.2 11-.7 10.9 .6 21.8 1.7 21.9-24.6 0-.1-10.9-1.2-5.5-4.5 4.1-.2 1.4-.7 10.9-19.9 0-1-10.9-.2-1.2-.7 12.1-7.8 0-.4-3.2-8.8 2.1-.2 1.1-331.1 0 0-88.4 4.5-4.2 4.4 1.6 4.4-1.9 4.4 4.9 4.4-3.6 4.4 2.4 4.5-3.8 4.4-1.6 4.4 3.2 4.4 .9 4.4-1.9 4.4 .5 4.5 1.2 4.4-2.2 2.8-5.5 .9-10.9-.1-10.9-2.8-10.9-.8-5.5-.6-5.5 .6-8.9 .3-2-.3-3.8-1.2-7.1-7.7-8.7-4.4 8.3-4.4-10.1-1.8-.4-2.6-1.5-1.5 12.4-1.1 10.9-1.5 10.9-.3 1.3-.7-1.3-2.8-10.9 .1-10.9-1-5-4.5 3.4-3.4-9.3-5.4-10.6-4.4 6.6-.6 4-2.3 10.9 .4 10.9-1.9 7.6-.7 3.3-3.7 7.4-2.4-7.4-.6-10.9 1.8-10.9-2.1-10.9 1.5-11 1.8-4.9 4.4-5.2 1.3-.8-1.3-3.9-4.4-2.7-4.5-4.1 0-122.9zM373.1,166.6l3.2-3.3 3.3 3.3 0 10.9-3.3 10.1-4.4-6.9-1.2-3.2 1.2-6.7zM583.5,166.6l.3-6.1 1.1 6.1 3.4 7.3 1.5-7.3 2.9-10.3 4.4 8.5 2.1 12.7-6.5 4.1-2.5 6.8-1.9 10.6-3.9-10.6-.6-6.4-.2-4.5zM382.1,177.5l3-10.7 4.4 3.7 .3 7 2.2 10.9 1.6 10.9 .5 11-1 21.8 .8 5.1 2.6 5.9-2.6 18.5-2.5-7.6-1.9-2-3.8 2-.6 1-1.7-11.9 .2-11-.3-10.9 .1-10.9 .5-21.9zM661.3,177.5l2-.6 1.4 .6 1.8 10.9-3.2 11.3-4.4 6-3.5 4.6 .3 10.9-.2 10.9 3.4 9.1 4.4 3.4 3.9 9.4 .6 2.8 .7 8.1-.4 10.9-.3 3.2-4.5 5.8-.7 2-2.3 10.9 1.1 10.9-6.9 10.7-4.4 11.1-4.4-1.6-1.3 1.7 1.3 4.4 4.4-4 .2 10.5-.2 2-4.3 8.9-4.5 3.3-2.1 7.7-1.5 10.9-.4 10.9 .6 10.9-1.1 4-1 7-3.2 10.9-.2 .8-.2-.8-4.2-6.3-4.4 6.2-.2 .1-2 10.9-.4 11-.2 10.9-1.4 10.9-.2 1.2-.6-1.2-2-10.9-.8-10.9-1-4.1-2.7-6.9-1.8-3.4-2.2-7.5-2.2-1.8-1.8 1.8-2.1 10.9-.3 11 1 10.9 .6 10.9-.9 21.9-.3 10.9-2.2 0-.6-10.9-.4-11-.3-10.9 1-10.9 1.6-10.9-.5-11-3.6-4.6-4.3-6.3-4.5-2.7-3.2 2.7-.1 10.9-.4 11-.8 8-1.9-8 .3-11 1-10.9-2.3-21.9-.5-10.9-.9-10.9-.1-10.9 4.4-19.9 1.2-12.9 .4-10.9 .3-21.9 .3-10.9 .9-11 1.4-8 .7-2.9 1.4-10.9-.8-10.9-2.4-11-.3-10.9 1.4-6.9 4.4-1.4 2 8.3 1.6 10.9 .6 11 .2 1.4 1.4-12.4 3-6.5 1.1 6.5 .5 11 1.1 10.9 1.7 6.5 4.4 .5 1.4 3.9 3.1 8.2 2.4 2.7 2 1.9 4.4 8.5 .6 .6 3.8 4.7 3.6-4.7 .8-.9 4.4-14.6 .9 4.5 0 21.9 3.6 5.8 4.4-2.2 4.4 2.6 3-6.2 .2-10.9-.6-11-.4-10.9 .1-10.9 .8-21.9-.6-10.9 1.3-10.9-1.1-11 2.3-10.9 3.8-10.2zM375.7,199.3l.6-8.9 .5 8.9 .9 11-1.4 7.6-1.7-7.6zM689.6,210.3l.2-1.1 0 3.3zM578.1,221.2l1.3-5.1 2.4 5.1 .1 10.9-2.5 11.5-1.6-11.5zM407,232.1l.2-1.8 1.6 12.8-1.6 6.6-.8-6.6zM569.6,297.7l1-10.6 1 10.6 .1 10.9-1.1 9-1.2-9zM688.8,297.7l1-9.6 .8 9.6-.1 10.9-.7 3.1-.9-3.1zM243.4,319.6l.4-3.3 .1 3.3-.1 1.2zM147,341.4l4-6 4.4-3.1 2.7 9.1-2.7 6.6-1.5 4.3-2.9 3.2-4.4-2.5-.3-.7 .3-6.1zM678.4,417.9l2.6-1.4 .6 1.4 1.3 10.9 2.5 9.7 .3 1.3-.1 10.9-.2 3.1-1.1 7.8 .4 10.9 .7 3 1 8 .5 10.9-10.5 0-.1-10.9-3.4-11-.7-3-.9-7.9-.2-21.8 1.1-9.1 .5-1.9 3.9-7.7zM714.8,417.9l1.6 0 .9 10.9-1 2.9-4.4 3.9-.6-6.8 .6-8.2zM724.3,417.9l.9-1.4 4.4 1 0 30-4.4-5.8-.7-1.9-1.5-11zM662.5,428.8l.8-2.5 .4 2.5 .2 21.9 .3 10.9 .6 10.9 .7 11 2.3 10.9-6 0-.5-21.9 1.2-21.8 .1-10.9zM592.3,450.7l.4-10.7 1.6 10.7-.8 10.9-.8 2-.2-2zM697.7,450.7l1-10.4 1.1 10.4-.1 21.8 .6 21.9-2.7 0zM714.8,472.5l1.5-3.8 4.5 3.7 .2 11.1 .5 10.9-3.9 0-1.3-5.7-.6-5.2zM707.4,483.5l.1-2.5 .4 2.5-.4 4.3zM552.6,494.4l.3-8.1 2.2 8.1zM623.2,494.4l.4-2.1 .2 2.1z"/>
<path fill="#ffff00" d="M128.9,56.9l600.7 0 0 10.1-4.4-.3-4.4 .2-4.5-.1-17.6 .1-4.4-.2-4.5 .1-8.8-.1-4.4 .2-4.4-.2-4.4 .2-8.9-.1-4.4 .3-4.4-.3-4.4 0-4.4 .4-4.5-.2-4.4-.3-8.8 0-4.4-.3-8.9-1-13.2-.7-4.4-.3-13.3-1.7-8.8-.7-4.4 .2-4.4 .4-8.9 1.2-13.2 1.3-4.4 .1-8.9-.2-4.4 .2-8.8-.3-4.4-.8-4.4-.3-8.9-1.1-4.4-.8-4.4-.5-17.7-.8-8.8-.2-4.4 .1-97.2 0-8.8 .4-10.4 1-11.7 .8-4.4 .5-4.4 .2-4.5 .3-8.8 1.1-4.4 .4-8.8 .4-8.9 .9-8.8 1.2-4.4 .3-13.3-.3-4.4 0-4.4-.4-4.4 0-4.4-.4-4.5 .1-4.4-.6-4.4-.4-4.4-.1-4.4-.4-11.6-.8-6.1-.6-8.8 .1-8.9-.1-8.8 .5-8.8-.2-4.4 .3-4.5 .5-4.4 .1-4.4-.2-4.4 1.2-4.4 1.6-4.4 .6-4.5-.8zM130.9,166.6l2.5-8.4 .8 8.4 .1 10.9-.9 8.2-.9 2.7-.4 10.9 .4 11 .2 10.9-2 10.9-1.8 11.8 0-71.8zM657.3,188.4l1.6-4.3 4.4 4.1 .1 .2-3.8 10.9-.7 .9-1.4-.9zM385.4,199.3l4.1-6 1.2 6 1.2 11-.1 10.9-.5 10.9-1.1 11-.7 .8-1.5-.8-2.9-9.3-.4-12.6 .4-9.3 .2-1.6zM134.7,210.3l3.1-8.6 1 8.6-.5 10.9-.5 3.4-2.7-3.4zM154.7,210.3l.7-3.6 .6 3.6 .4 10.9 .1 10.9 1.5 11-3.4 10.9-.4 10.9 .5 10.9 .7 5.6 4.5 .3 .3 5.1 4.1 9.3 .5 1.6-.1 10.9-.4 5.9-1.5-5.9-2.9-5.1-4.5 3.9-3.4-9.7-1-3.6-2.7-7.3-1.7-3.4-3.2-7.6 3.2-14.7 2-7.1 2.4-6.2 2.2-4.7 1-11-.3-10.9zM591.4,221.2l1.3-1.7 .4 1.7 1 10.9-1.4 11-2.3-11zM579,232.1l.4-9.6 .7 9.6-.7 2.9zM477.8,243.1l4.5-3.5 .6 3.5 .9 10.9 2.9 13.8 .9-2.9 2.1-10.9 1.4-6.3 .9 6.3 1.5 21.8 2 11.9 2.2-11.9 .7-10.9 .9-10.9 .3-10.9 .3-3.9 .6 14.8 2.3 21.8 1.6 8.3 3-8.3 .5-10.9 .9-7.8 1.2 7.8 3.1 10.9 4.5 9 3.5 12.9 1.3 10.9 .1 11 3.9 6.5 1.3 4.4 1.9 10.9 1.2 15.8 1.6 6.1 .9 10.9-.7 21.8-6.2 20.8-.2 1.1-.7 10.9-.1 11 .5 10.9 .5 7 .5 14.8 1.2 21.9-17.8 0 .1-10.9-.7-32.8-.9-4.5-4.4-.1-1.8 4.6-2.7 9.3-2 12.5-1.4 11-1 10.9-10.4 0-.2-10.9-1.3-11-1.3-23.3-3.9-9.4-.5-2.7-.4 13.6-.8 10.9-1.1 10.9-1.8 11-.4 3-.4-3-4-10.3-4.4-1.3-4.4 1.1-4.4 9.3-4.4-1.5-4.5-3.8-3.8-4.5-.6-.4-1.4 11.4-1.7 10.9-5.1 0-.6-1.3-3 1.3-12.3 0-2.4-5.2-1.6 5.2-5.1 0-.2-10.9-1.9-22.6-4.4-3.1-.2 3.8-1.8 10.9-2.4 10.3-.7 .7-2.1 10.9-22.4 0 .2-10.9-1.5-10.8-1.6 10.8-.1 10.9-6.5 0-.8-10.9 .1-11.1-4.4 2.5-2.5 8.6-1 10.9-35.3 0-.9-7.6-1.4 7.6-188.6 0 0-82.4 4.5-4 4.4 .8 2.4-1.8 2-.9 .7 .9 3.7 5.4 4.4-4.2 4.4 2 4.5-3.3 4.4-2 4.4 2.7 4.4 2.9 3.7-3.5 .7-.5 4.4 1.1 4.5 2 4.4-1.8 .7-.8 3.7-6.1 4.4-2.6 .2-2.3-.2-3.8-.8-7.1-.7-10.9-.4-10.9 1.9-5.9 .5-5.1 .5-10.9 .6-21.8 .6-11 2.2-7.7 1.8-3.2 2.6-2.8 4.5-1.7 4.4-.1 4.4-3.5 4.4 1.5 1.2 6.6 1.1 10.9-.5 11-1.8 7-1.3 3.9-2.9 10.9-.2 1.5-2.2 9.4-.2 11 0 10.9 .3 10.9 .7 10.9 .2 11 .3 10.9 .9 8.5 .6 2.4 3.8 9.4 3.7-9.4 .7-.6 2 .6 2.4 2.1 4.5 1.2 4.4-3.3 4.4 1.6 .6-1.6 3.8-5 4.4-2.5 1.6-3.4 3.3-10.9 .8-21.9 1-21.8 1.3-21.9 .9-9.8 2 9.8 2.4 7.7 4.4-1.4 1.7-6.3 2.7-8.4 4.4 5.9 2.8 2.5 1.6 1.1 4.5-1.4 4.4-10.2 1.2-11.3 1.7-11 1.5-5.4 2.8-5.5 1.6-3.8 2.1 3.8 2.3 10.1 1.7-10.1 1.1-10.9 .5-11 .4-10.9 .7-2.6 4.5-13.2 4.4 5 4.4-1.7 .3 1.6 1.1 10.9 .6 10.9 .4 11-.1 10.9-.3 10.9 1 11 1.4 9.6 4.4-1.2 3.2-8.4-1.8-11-2-10.9 .5-10.9-.3-11 .4-11 .3 .1 1.1 10.9 3 8.5 .7-8.5 1.3-10.9 2.5-.9 .5 .9 1.8 10.9 .3 11 .1 10.9 1.7 10.4 3.1-10.4 .3-10.9 2-11 3.4-5.9 1.6-5 2.8-11.9 4.4-1.8 1.6 13.7 2.9 9.3 1.1 1.6 2.2 11 1.1 2.4 1.7 8.5 2.7 11.5 4.4 10.4 0 1.4 .2-1.4 2.9-11 1.3-2.4 4.4-1.7 4.5-5.8 3.2 9.9 1.2 5.4 2.1-5.4 2.3-4.2 4.4-1.3 1.5 5.5 2.9 17.2 1.6 4.7 1 10.9 1.8 5.9 1.9-5.9 .2-10.9 .6-10.9 .3-11-.2-10.9 1.2-10.9 .5-3.6 1.5 3.6 2.7 10.9-1 10.9 .8 11 .4 1.1 .3-1.1 .7-11-.8-10.9 4.2-7 4.2 7 .2 2.7 1.2-13.6 3.1-21.9 .1-.3 .5 .3 3.9 9.5 2.9-9.5 1.6-4.3 .8 4.3 3.6 6.2 4.4-9.4 4.4-.3 .9 3.5 1.6 10.9 1.9 9.4 4.4-1.1 1.6-8.3 1.3-10.9 .8-10.9zM310,336.2l-3 5.2 2.3 10.9 .7 1.3 1.8-1.3 2.6-7.4 .4-3.5-.4-1.3zM323.3,327.8l-.2 2.7 .2 2.9 .5-2.9zM371.9,307.3l-.7 1.3-1.1 11-.5 10.9 .2 10.9 2.1 4.1 .9-4.1 .3-10.9-.4-10.9zM429.3,476.8l-1.6 6.7 1.6 10 1.8-10zM433.7,337.8l-.5 3.6 .5 4.1 .5-4.1zM446.9,276.7l-2.2 10.1 .3 10.9 1.9 6.3 2.8-6.3 .2-10.9zM654.5,254l0-.3 4.4 .5 4.4 2.3 2 8.4-2 9.6-.6 1.3-3.8 10.9-2.7-10.9-1.4-10.9zM592,264.9l.7-5.6 2.2 5.6 2.2 5.3 2.4-5.3 2-9.3 2.8 20.2 1.6 6.4 4.4-5 4.5 4.2 4.4 5.1 4.4 13.6 4.4 .7 4.4 .5 4.4 3.9 2.3 3.4 1.2 11-2 10.9 .9 10.9-.5 10.9-1.9 8.1-.7 2.9-1.9 10.9 0 10.9 .2 10.9-2 10.1-4.4-3.3-2.3 4.2-2.1 3.3-4.4 2.5-4.4 3.2-4.5-2.2-4.4-3.7-4.4 4.5-4.4 .2-4.4-1.8-4.4-4.9-1.4-1.1-3.1-5.7-.7-5.3 .1-10.9 .7-10.9 .1-10.9 .6-11 1.7-21.8 1.2-21.9 .5-21.8 .3-3.2 1-7.8zM174.6,286.8l2.9-6.3 1 6.3 1.3 10.9-1.5 10.9-.8 1-.8-1-3.6-6.3-.9-4.6 .9-5.3zM137.5,319.6l.3-3.2 .1 3.2-.1 .5zM534.3,319.6l1-7.8 1.2 7.8-.9 10.9-.3 1.8-.5-1.8zM546.9,363.3l1.6-4.7 1.9 4.7-1.9 8.8zM556.3,363.3l1-1.4 4.9 1.4 4 6.9 4.4 3 .2 1 .4 10.9-.6 5.4-3.4-5.4-1-6.7-4.4 6.3-4.5 .1zM543.6,374.2l.5-1.8 2.6 1.8-.2 10.9 2.7 10.9 .5 11-1.2 1.8-2.1-1.8-2.3-4.3-1.7-6.7-.4-10.9zM556.1,396l1.2-10.7 4.4 10.7-3.5 11-.9 1-.6-1zM569.3,417.9l1.3-10.5 4.4 15.1 .6 6.3 0 11-.6 9.1-4.4-8.4-1.3-11.7z"/>
<path fill="#ffbe00" d="M128.9,56.9l600.7 0 0 8.9-4.4-.3-4.4 .1-8.9-.1-8.8 .1-8.8-.2-8.9 0-8.8 .1-4.4-.1-4.4 .2-8.9-.1-4.4 .3-4.4-.3-4.4 0-4.4 .3-8.9-.4-8.8 0-4.4-.2-4.1-.5-4.8-.9-8.8-.7-8.8-.3-8.9-.8-4.4-.6-8.8-.6-4.4 .1-4.4 .4-4.5 .7-13.2 1-4.4 .4-4.4 .1-8.9-.4-4.4 0-8.8-.3-4.4-.5-4.4-.2-8.9-.8-4.4-.6-8.8-.5-13.3-.3-92.7-.1-22.1 .1-22.1 1.2-8.8 .8-8.9 .2-13.2 1.2-8.8 .5-13.3 1.6-8.8 .8-4.4 .1-17.7-.5-4.4 0-4.4-.2-4.5 .1-4.4-.5-8.8-.2-13.3-1.2-8.8-.6-8.8-.1-8.9-.2-8.8 .3-8.8-.3-8.9 .3-8.8-.1-4.4 1-4.4 1.7-4.4 .7-4.5-.6zM389.1,210.3l.4-1.7 .3 1.7 .1 10.9-.4 8-.9-8zM318,264.9l.9-2.6 2 2.6 .9 10.9-.3 11 .2 10.9-.2 10.9-.9 11-.4 10.9-.5 10.9 3.6 10.8 4.4 10.5 4.4-9.2 3-12.1 1.4-3 2.6 3 1.8 2.6 1.2-2.6 3.3-8.8 4.4 5.9 1.5 2.9 2.9 3.2 1.7 7.7 2.7 7.5 4-7.5 .4-.9 1.8 .9 2.6 1.2 4.5 2.1 1.1-3.3 2.5-10.9 .1-10.9-.1-10.9 .3-11 .5-2.3 .4 2.3 1.8 11 2.2 6.6 2.4 15.2 2 4.6 4.4-3.2 4.4 1.8 2.2-3.2 2.2-10.9-.6-10.9 .7-4 .5 4-.5 10.9 3.3 10.9 1.1 1.5 4.4 1 1.7-2.5 .5-10.9 2-10.9 .2-.4 1.8 11.3 0 10.9 .5 10.9 2.1 5.7 4.4 2.7 4.5-6.2 3.4-2.2 1-1.4 2.6 12.4 1.8 5.3 3 5.6 1.5 10.9 3.1 10.9 1.2 5.3 1.9-5.3 1.8-10.9 .4-10.9 0-10.9 .3-7.8 2.3-3.2-1.8-10.9-.5-.8-4.4-.5-4.4-7-.5-2.6 2.5-10.9 2.4-12.8 3.6 12.8 .8 3.7 4.5-.8 1.3-2.9 3.1-9.8 .2-1.2 3.7-10.9 .3-10.9 .2-2.4 4.4-7.8 1.5 10.2 2.9 7.5 4.4 2.1 1.9-9.6 1.5-11 1.1-8.6 4.4-.5 2.1 9.1 2.3 6.1 4.4-2.6 1.5 7.5 1.9 10.9 1 8.8 1.6-8.8 2.8-14.4 .8 3.5 2.8 10.9 .9 2.1 4.4-.8 .5-1.3 3.9-7.3 3.6 7.3 .6 10.9-1.3 11-.3 10.9 .8 10.9 1 4 3.6 6.9 .8 2.4 2-13.3 2.4-5.1 1.1 5.1 1 10.9 .7 11 .2 10.9-1.6 21.8-1.4 4.7-3 17.2-1.3 10.9 .5 11 .7 10.9-.1 10.9 .3 10.9 1.1 11 .9 10.9-13 0 .1-21.9-.1-10.9-.5-10.9-2.2-10.9-1-2.9-3.6-8.1-.8-13-1.2-8.8-2.1-11-1.2-4.4-.7 4.4-.8 11 0 10.9 .9 10.9-.1 11-.6 10.9-3.1 16.6-1.6 5.2-2.8 7.3-4-7.3-.4-1-1.3-9.9-1.6-21.8-1.5-9.3-4-12.6-.4-3.9-4.1 3.9 .8 10.9 .6 11 0 10.9-.9 10.9-.9 6.4-3.1-6.4-1.3-1.9-4.4-2.7-4.4 2.7-.9 1.9-3.5 6.9-4-6.9-.4-.9-4.5-3.8-4.4-.9-2.2 5.6-2.2 15.4-1.8-4.5-2.6-8.4-1.4-2.5-3-3-4.4 1.2-3.3-9.1-1-10.9-.2-1.2-4.4-7.8-1.4-2-3-2-4.4-2.6-4.4 2.7-.7 1.9-1.5 11-.7 10.9-1.5 12.1-.5-1.2-2.7-10.9-.3-10.9 .2-11-1.2-10.9-2.3 10.9 .1 11-.6 10.9-1.6 6.2-1.4 15.6-1.3 11-1.7 9.2-1.1-9.2-3.3-8.6-4.4 1.6-.6-4-3.8-20-4.5 8.7-2.5-10.5-1.9-5.3-1 5.3-3.4 10.3-.6 .6-3.8 5.2-4.4 3.4-4.4 .8-4.5 7.2-4.4 5.2 .6 11-6 0-1.9-10.9-1.5-3.1-3.3 3.1-1.1 7.2-.5-7.2-3.9-8.1-4.3 8.1-2.7 10.9-6.2 0-.1-.4-4.4-.9-.5 1.3-12.4 0-.4-1.3-1.2 1.3-4.9 0 1.7-3.5 1.8-7.4-1.8-5.1-4.4 4.3-4.4-.6-1.6 1.4-2 10.9-1.3 0-.7-10.9-3.2-9.7-2 9.7-.8 10.9-2.7 0-.5-10.9-1-11-1.9-10.7-1.6 10.7-1 11-.5 10.9-9.4 0-.2-10.9 0-11 .3-10.9-.2-10.9-.6-8.2-.5-2.7 .5-.3 4.4-.5 4.1-10.2 .3-.4 1.8 .4 2.6 4.4 .4-4.4 4-8.7 2.1-2.2 2-10.9-.3-11-.1-10.9 .3-21.8 .5-8.2 2.4 8.2 2 3.6 4.4-3.1 3.2-11.5 1.2-5.3 2.5 5.3 1.9 6.6 4.4-.8 4.3-5.8 4.6-2.1 4-8.8-.6-10.9 .5-10.9 .5-3.3 4.4-2.5 .1 5.8-2.3 10.9-1.9 10.9 2.6 10.9 1.5 2.3 4.4 8.8 4.4-3.8 3.4-7.3 .4-10.9-2-10.9-.6-10.9 1.3-43.8zM495.5,320.6l-1.2 9.9-.2 10.9 .9 10.9 .5 1.9 .7-1.9 1.4-10.9 .1-10.9zM362.8,275.8l.2-1.3 .2 1.3-.2 2.4zM592.4,275.8l.3-1.2 .5 1.2 1.8 11 .4 10.9-1.3 10.9 2 11 1 1.4 .3-1.4 2.3-21.9 1.8-5.3 3 5.3 1.4 1.2 .3-1.2 4.1-11.1 4.5 1.9 4.4 7.3 4.4 12.6 4.4-2.5 4.4 2 .7 .7 2.7 11-1.3 10.9 .1 10.9-.5 10.9-2.7 11-2.3 10.9-1.1 11.2-.7 10.6-3.7 6.7-4.4 3.4-4.4 4-4.5-2.3-4.4-3.6-4.4 4.6-4.4 1.2-4.4-2-.9-1-3.5-5.8-2.3-5.2-.2-10.9 .5-10.9-.1-10.9 .2-11 1.3-21.8 .6-8.6 1.4-2.3 2.2-11-.9-10.9 0-10.9zM206.4,308.6l2-3.8 4.5 2.7 4.4-2 4.4-7.3 4.4 5.5 .5 4.9-.5 5.2-1.8 5.8-2.8 10.9-3.6 10.9-.6 3.4-2.6 7.5 1.6 11 1 2 .9 19.8 .7 10.9-.1 11-.5 10.9-1 7.2-.9 3.7-1.7 11 .3 10.9 .8 10.9-.2 10.9-.6 11-.2 10.9-15 0 .4-10.9 .8-11-1.4-10.8-4.4 3.7-1 7.1-.7 11-.1 10.9-10.7 0 .4-10.9 0-11-.4-10.9-.6-10.9-.2-1.2-1 1.2-3.4 5.2-4.4 2.2-1.3 14.4-.1 21.9-19.5 0 0-10.9 .5-21.9-.1-10.9-.9-10.9-.7-2.9-1.5 2.9-2.9 9-3.2 12.8-1.2 2.5-1-2.5-1.3-10.9-.5-10.9-1.6-16.2-.6 5.2-.7 11-.1 10.9-.5 21.8-1.2 11-1.3 3.8-1.9 7.1-2.6 0 0-75.8 .2-.7 4.3-3.9 4.4 2.7 4.4-5 4.1 6.2 .3 2 .5-2 3.9-3.5 4.4 1.2 4.5-2.7 4.4-2.2 4.4 2.2 4.3 5 .1 11 .1-11 4.3-6 4.4 2 4.5 1.6 4.4-1.4 4.4-3.3 4.4 6.7 2.2-10.5 .5-11-.5-10.9-.2-10.9 1.2-32.8 1.2-16.6 .5-5.2zM361.9,308.6l1.1-3.6 .4 3.6-.1 11-.3 .7-.4-.7z"/>
<path fill="#ff7800" d="M128.9,56.9l600.7 0 0 6.9-4.4-.6-4.4 .2-4.5-.2-8.8 0-4.4 .2-4.4-.1-4.4-.3-4.5 .1-4.4-.1-8.8 .1-4.4 0-4.4 .3-4.5-.2-4.4 .1-4.4 .5-4.4-.6-4.4-.2-4.4 1-4.5-.4-4.4-.6-8.8-.1-4.4-.3-6.3-.7-2.6-.5-4.4-.2-4.4-.5-8.8-.2-4.4-.4-8.9-.4-8.8-.2-8.8 .2-4.5 .3-4.4 .1-4.4 .3-4.4 .1-4.4 .5-4.4 0-8.9-.5-13.2-.2-4.4-.3-13.3-.3-4.4-.2-19.2-.2-2.9-.3-8.8-.1-4.4 .4-4.4 0-4.5-.4-13.2 0-4.4 .3-8.9 .1-13.2-.4-4.4 .3-4.4-.3-4.5 0-4.4 .2-13.2-.2-4.4 .2-4.5 .1-4.4-.2-4.4 0-4.4 .1-1.5 .2-38.3 .6-8.8 .7-4.4 .5-17.7 1.8-4.4 .7-8.8 .8-4.4 .2-4.5-.3-13.2-.2-4.4 .1-4.4-.2-4.5 .2-4.4-.5-4.4-.1-4.4 0-4.4-.5-17.7-.9-8.8-.1-8.9-.4-8.8 0-8.8-.4-8.9 0-8.8-.2-4.4 .8-4.4 1.6-4.4 1.1-4.5-.4zM477.7,286.8l.2-1 4.4-4.8 2.2 5.8 2.2 5.2 4.4 1.6 .7 4.1 .5 10.9-.8 11-1.3 10.9-1.1 10.9-2.4 4.3-2 6.6-.9 11 2 10.9 3.5 10.9 1.8 7 2.4 3.9 2 7.1 .6 14.8 1 10.9 .1 11-1 10.9-.7 3.3-2.9 7.6-1.5 4.7-1.9-4.7-2.3-10.9-.5-10.9-1.2-11-2.9-6.3-1.6-4.6-.9-10.9-1.1-11 .4-10.9 .6-10.9 0-10.9-1.4-21.9-.4-4.3-1.7-6.6 0-32.8zM609.2,297.7l1.1-3.1 4.5 0 1.7 3.1 3.7 10.9 1.3 11-.5 10.9-1.6 10.9-.2 10.9 1.2 11 .7 10.9 1.4 10.9 .2 10.9-7.9 8.2-4.5-3.9-4.4-1.8-4.4 3.8-4.4 2.5-4.4-2.2-3.6-6.6-.6-10.9 .3-10.9-.4-10.9-.1-12.1 1.1-9.8 3.3-8.5 4.4 6.8 2.8-9.2 1.6-10.3 .3-.6 4.1-6.9zM610.3,331.7l-2 9.7-.1 10.9 .9 21.9 1.2 9.3 .7-9.3 .3-10.9 .5-11-.2-10.9zM463.6,308.6l1-8.7 4.4 4.4 1.6 4.3 1.2 11 .4 10.9 0 10.9 1.2 5 2.3 5.9 1.2 11-.2 10.9 0 10.9-.1 10.9-3.2 6.4-4.4-5.5-.1-.9-.6-10.9 .4-21.8-.8-11-1.2-10.9-1-10.9-1.1-10.5-.2-.4zM512.9,308.6l.3-.6 .1 .6-.1 7.5zM501.5,319.6l2.9-5.8 2.5 5.8-.2 10.9-.4 10.9 0 10.9-1.2 11-.7 10.1-1.1-10.1-.7-11 1.4-10.9-1-10.9zM625.9,319.6l2.1-5.8 3.4 5.8-.9 10.9-.1 10.9-1.2 10.9-1.2 4.4-1.1-4.4-1-10.9-.2-10.9zM453.9,341.4l1.9-10.3 4.4-.5 1.3 10.8 .6 10.9 .1 11-.5 10.9-.2 10.9-2.1 10.9 .2 21.9 .6 4.5 1.7 6.4 .2 11-1.9 5.7-1.5 5.2-2.9 6.6-3-6.6-1.3-10.9-.1-11 .3-21.8 .8-11 1.8-10.9-.2-10.9-.5-10.9-.1-11zM335.4,352.3l1.1-3.7 2.6 3.7 1.8 2.5 4.5-10 3.3 7.5 1.1 3.1 4.4 .9 2.5 7 1.9 6.2 2.3-6.2 2.1-4.1 4.2 4.1 .2 .5 4.5-.6 3.9-10.9 .5-2.1 4.4-2.5 2 4.6 2.4 3.3 4.4-4.1 4.4 2.1 1-1.3 3.5-5.4 4.4 8 4.4-1.3 4.4 7.9 .7 1.8 2.7 10.9 1 4.7 4.4-3.3 .3-1.4 4.2-7.5 2.7 7.5 2.3 10.9 1.2 10.9 1.9 11 .7 7.3 .9 3.6-.9 3.3-1.5 7.6-2.9 8-4.4-6.9-.2-1.1-3.7-10.9-.6-3-4.4-4.5-4.4 3.2-4.4-1.6-4.4 4.2-1.6 1.7-2.8 9.8-1.2-9.8-3.3-10.1-1.1-.8-3.3-5.8-2.1 5.8-.7 10.9 .1 10.9-.4 11-1.3 16.5-4.4 .7-4.4 1.8-1.5-8.1-2.8-10.9-4.6-11.5-4.4 .5-4.4-.4-4.4-2.3-3.8 2.7-.6 .7-.8 10.3-.7 10.9-5.1 10.9-2.3 3.4-4.4 2.7-2.6 4.8-1.8 4.6-2.4-4.6-2-1.9-4.4-1.3-4.4-3.5-4.5-.1-1.4 6.8-3 7.9-4.4-5.6-4.4 1.2-4.4 4.7-4.4-.7-4.5-6.5-.3-1-4.1-7.5-4.4 2.2-3.9-5.6-.5-1-3.9-9.9-.5-1-3.7 1-.7 .3-4.5-2.9-1.6-8.3 .7-11 .9-1.9 4.5-2.1 4.4-2.5 4.4-.3 4.4-1 3.6-3.1 .8-1.5 1.5-9.4 1.8-11 1.1-4.2 2.6-6.7 .3-10.9 .9-10.9 .7-1.2 4.4 .3 4.4-7 4.4 6.3 .8 1.6 3.3 10.9 .3 .5 4.4-4.8 4.5-.2 4.4-5.3 4.4 20.7 4.4-10.9 1-10.9zM526,352.3l.4-2.3 .3 2.3 0 11-.3 3.6-.6-3.6zM514.8,363.3l2.8-2.8 1 2.8 1.1 10.9 2.3 6.9 1.1 4 1 10.9-1.4 11-.7 3.7-4.4 6.5-.2 11.6-1.1 11-3.1 3.5-.7-3.5-4-11-1.1-10.9 1.1-10.9 .3-1.1 4.4-5.6 1.9-4.3 2-10.9-1.5-10.9zM211.7,385.1l1.2-6.2 4.4 13.6 .2 3.5-.2 6.8-.8 4.2-1.8 10.9-1.8 9.5-3.4 12.4-1.1 9.4-1.8-20.4-.6-10.9 1.1-10.9 1.3-3.1 2.3-7.9zM141.8,417.9l.4-.5 .3 .5 0 10.9-.3 1.5-.2-1.5zM162.3,417.9l2-.8 3.3 .8 1.1 3.8 .3 7.1 0 11 1 10.9-.8 21.8-.2 21.9-1.2 0-1.3-21.9 .6-21.8 1-10.9-3.8-9.2-4.4 9.4-.9-11.2 .9-3.1zM177.1,417.9l.4-.6 1.1 .6-1.1 9.9zM133,428.8l.4-1.4 .1 1.4 0 11-.1 4.6-.7-4.6zM467,428.8l2-8.6 1.3 8.6 .1 11-1.4 2.8-1.1-2.8zM190.2,439.8l.6-5.1 .4 5.1 0 10.9 .4 10.9-.4 10.9-.4 18.8-1.4-7.8-1.7-11-1.3-4.1-.4-6.8 .2-10.9 .2-1.9zM517.4,461.6l.2-3.3 .2 3.3 .2 10.9 0 11 .4 10.9-1.2 0 .2-10.9-.1-11zM155.2,483.5l.2-4.1 .7 4.1 .1 10.9-1.1 0zM186.3,494.4l.1-2.4 2.7 2.4z"/>
<path fill="#ff3c00" d="M128.9,56.9l171.1 0-3.2 1.8-1.7 .6-11.6 1.5-6.4 1.1-6.8 .6-4.4 .1-4.5-.2-8.8-.2-17.7-.1-8.8-.3-4.4 .1-4.4-.4-17.7-1.1-17.7-.4-8.8 0-8.8-.4-17.7-.3-4.4 .4-4.4 1-4.4 1.3-4.5 .3zM480.3,297.7l2-4.9 2.1 4.9 1.3 10.9-.7 11-1.9 10.9-.8 3.6-2-25.5zM612.2,308.6l2.6-4.2 1.3 4.2 1.3 11-2 32.7 .9 11 1 21.8-.5 10.9-2 2.3-2.1-2.3 .6-10.9 .3-10.9 .2-10.9 .6-11-1.2-21.8-1-10.9zM592.5,352.3l.2-.7 .3 .7 .9 11 3.2 7.9 .9 3 1.7 10.9 1.2 10.9-3.8 3.1-4.4-2.2-.5-.9 0-10.9 .3-10.9zM336.4,363.3l.1-.5 4.4 1.7 .4-1.2 4.1-9.4 3.3 9.4 1.1 3.8 4.4-2.1 2.7 9.2 1.7 7.9 2.5-7.9 1.9-5.3 2.2 5.3 2.2 10.3 4.3 11.5 .2 1.1 0-1.1 3.3-10.9 .4-10.9-.4-10.9 1.1-3 4.4-2.2 4.3 5.2 .1 .6 .3-.6 4.1-2.4 4.4 .3 4.5-5.4 4 7.5 .4 2.6 2.1-2.6 2.3-.8 .4 .8 1.3 10.9 2.7 4.8 1.4 6.1 1.2 10.9-2.6 6.8-4.4-3-4.4 7.1-4.4 .1-5-11-2-10.9-1.9-8.4-4.4 8.5-3.9 10.8-.5 2.1-1 8.9 0 10.9-.9 10.9-2.5 4.1-1.3-4.1-2.7-10.9-.4-5.7-4.5-1.9-4.4 .5-4.4-3.6-4.4-5.4-2.3 5.2-2.1 3.6-3.7 7.3-.7 3.8-1 7.1-.9 11-1.6 10.9-1 2.2-4.4 2.3-7.6 6.4-1.2 .5-8.8-6.6-4.5-2.6-4.4 17.2-4.4-7.2-4.4 .3-4.4 4.6-4.4-6-4.5-2.5-4.4-5.6-4.4-2.1-.4-.9-1.2-10.9 1.6-2.8 4.4-4.2 1.9-4 2.5-12.7 4.5-4.4 1.6-4.7 2.8-7.5 .8-3.5 1.3-10.9 .8-10.9 1.5-10 2.6 10 1 10.9 .8 11 4.4-10.8 4.4-.9 4.5-.2 .8 .9 3.6 6.1 2.1 4.8 2.3 3.6 4.4-2.4 0-1.2 4.4-10.2 .2-.7 .7-10.9zM472.9,374.2l.5-4.1 .4 4.1-.1 10.9-.3 2-.4-2zM486.2,407l.5-.9 4.2 11.8-4.2 1-.6-1zM455.4,417.9l.4-6.3 .8 17.2-.4 11-.4 1.7-.3-1.7-.4-11zM489.8,428.8l1.3-10.8 2 10.8 1.3 11-2.6 10.9-.7 1.9-.5-1.9-.9-10.9z"/>
<path fill="#ff1414" d="M128.9,56.9l160.6 0-1.6 .5-8.8 1-3.5 .9-5.3 .4-4.4 .2-8.9-.5-6.5-.1-6.7-.4-4.4 0-8.9-.5-8.8-.1-8.8-.3-48.6-.7-17.7-.1-8.8 .3-4.4 .7-3 1.1-1.5 .3zM343,374.2l2.4-8.4 2 8.4 2.4 8.2 2.9 2.7-2.1 10.9-5.2 11.7-4.3 10.2-.2 1.6-2.8-12.5 0-11 2.8-14.6zM301.2,396l.6 11 3.2 10.9 .6 4.9 2.4-4.9 2-.9 .9 .9 2.9 10.9-.3 11-1.3 10.9-2.2 8.8-4.3-8.8-.1-1.1-4.4-2.4-1 3.5-3.4 4.2-1.6-4.2-.7-10.9 .1-11 1.2-10.9 1-2.9 3.8-8zM321.9,407l1.4-1.6 .8 1.6 3.6 10.9 1.4 10.9 .9 11-1 10.9-1.3 2.2-3.6-2.2-.8-.9-3.8-10-.5-11 .3-10.9z"/>
<path d="M141.2,115.9l1.2-.4 1.3-.4 1.3-.7 1.4-1.3 1.6-1.6 1.5-1.6 1.4-1.4 1.5-1.4 1.6-1.7 1.8-2.3 2-2.6 2.2-2.6 2.4-2.5 2.5-2.6 2.5-2.4 2.5-2.4 2.6-2.3 2.4-2 2.1-1.6 2-1.2 1.9-.9 2-.6 2-.2 2 0 2 .2 2 .5 2 .8 2 1 2 1.3 2 1.5 2 1.8 2 1.9 2 2.2 2 2.4 2 2.5 2 2.6 2 2.6 2 2.5 2 2.4 1.9 2.1 1.9 2 2.2 1.9 2.8 2.1 3.1 2 3.1 1.9 3 1.6 2.9 1.5 3 1.4 3 1.3 3 1.2 3 1.2 3.1 1.1 3.1 1.1 2.8 .8 1.9 .4 1.5 .2 2.6 .3 4.3 .7 5.4 .8 5.3 .7 5 .4 5 .2 5 .2 5 .1 4.9 .1 5-.2 5-.6 5-.8 5-.9 5-1 5-1 5-1 4.4-.8 4.5-.8 6.1-.6 8.9-.5 10.5-.4 10.5-.3 9.2-.2 9.2-.1 11 0 14.3 .2 16.2 .3 15.5 .5 14.1 .8 13.5 1 12.4 .9 10.7 .9 9.6 .8 9.7 .3 10.5-.3 10.5-.7 9.3-1 7.4-1.3 6.3-1.5 6.3-1.3 6.7-1 6.7-.7 6.7-.3 7.1 .4 7.1 .9 5.8 .7 3.6 .4 2.2 .3 2.2 .3M143.5,59.8l1.5 .9 1.5 1 1.5 .8 1.5 .7 1.5 .6 1.5 .4 1.4 0 1.3-.1 1.3-.3 1.2-.3 1.1-.4 1.2-.4 1.4-.5 1.6-.5 1.5-.4 1.5-.3 1.5-.3 1.5-.2 1.6-.1 1.7 .1 1.7 .1 1.8 .1 1.8 .2 1.8 .3 1.9 .3 1.9 .4 1.8 .4 1.7 .4 1.6 .4 1.7 .4 1.9 .5 1.9 .5 2.2 .5 2.5 .3 2.7 .3 2.7 .4 2.7 .6 2.7 .6 2.5 .8 2.3 .8 2.1 .9 1.9 1 1.6 1 1.4 1 1.2 1.1 1 .9 .9 1 1.3 1.3 2.2 1.9 2.6 2.3 2.7 2.3 2.6 2.1 2.7 2.2 2.7 2.2 2.8 2.4 2.8 2.4 2.9 2.2 2.8 1.7 2.8 1.4 2.9 1.4 3.2 1.3 3.3 1.2 3.5 1.3 3.6 1.5 3.8 1.6 3.8 1.4 3.7 1.1 3.8 .9 3.7 .8 3.8 .6 3.7 .4 3.8 .2 3.8 0 3.8-.3 3.7-.3 3.6-.4 3.4-.5 3.6-.6 3.7-.7 3.7-.9 3.8-.8 3.8-.7 3.7-.7 3.8-.7 3.5-.7 3.5-.7 4.2-.8 5.2-.9 5.9-.9 5.8-.8 5.4-.5 5.4-.4 6-.2 6.6-.1 7.1-.1 8.3 0 10.2-.1 11.4-.1 10.3 .1 8.6 .2 7.6 .3 6.3 .5 4.6 .7 3.4 .8 3.3 1 3.7 1.1 3.8 1.3 3.7 1.1 3.7 .9 3.8 .9 3.7 .6 3.8 .4 3.7 .2 3.8 0 3.7-.4 3.8-.6 3.7-.8 3.7-1 3.8-1.2 3.7-1.3 3.8-1.4 3.7-1.4 3.8-1.4 3.7-1.4 3.8-1.3 3.7-1.3 3.7-1.3 3.8-1.2 3.7-1 3.8-.8 3.7-.7 3.8-.5 3.3-.4 3.4-.2 4.5 .1 6.8 .4 7.9 .7 7.3 .9 5.8 1.1 5.1 1.2 5.1 1.2M226,59l.4 1.1 .5 1.2 .7 1 1.1 .8 1.4 .7 1.7 .6 1.9 .6 2.2 .5 2.2 .5 2.1 .6 2.2 .6 2 .7 1.9 .8 1.8 1 1.6 1 1.4 1.1 1.2 1.1 1.1 1.1 .8 .9 .6 .9 1.2 1.2 1.9 1.7 2.5 2.1 2.6 2.2 2.8 2.3 3 2.5 3.2 2.2 3.3 1.8 3.5 1.6 3.6 1.2 3.7 .8 3.8 .4 3.8 .3 3.7 .4 3.8 .3 3.7 .1 3.7-.1 3.8-.3 3.7-.4 3.6-.5 3.7-.6 4-.8 4.7-.9 5.2-1.1 5.1-1 5-.9 5-.8 4.9-.9 4.8-.8 4.7-.9 5.2-.9 5.9-1.2 6.4-1.2 6.7-1.1 6.9-.8 7.3-.6 7.8-.3 9-.1 9.6 .2 8.4 .6 6.3 1.3 5.1 1.7 4.6 1.5 4.1 1 3.7 .8 3.6 .9 3.8 1 3.7 1.2 3.8 1.2 3.7 1.5 3.8 1.6 3.7 1.4 3.7 1.1 3.8 1 3.7 .7 3.8 .4 3.7 .2 3.8-.1 3.7-.4 3.8-.8 3.7-1 3.7-1.3 3.8-1.6 3.7-1.6 3.8-1.7 3.7-1.7 3.8-1.7 3.7-1.5 3.8-1.5 3.7-1.4 3.7-1.5 3.8-1.6 3.7-1.4 3.8-1.3 3.7-1.1 3.8-1 3.3-.8 3.4-.5 4.5-.4 6.8-.2 7.9 0 7.3 .2 5.8 .5 5.1 .7 5.1 .7M251.8,59l.4 1.1 .5 1.2 .7 1 1.1 .8 1.4 .7 1.7 .6 2 .6 2.1 .5 2.2 .5 2 .5 2 .5 2.1 .6 2.3 .7 2.3 .8 2.4 .9 2.3 1.1 2.4 1.2 2.3 1.2 2.2 1.2 2.1 1.3 2.4 1 2.8 .6 3.1 .4 3.4 .3 3.7 .2 4 0 4.3 0 4.8-.1 5.1-.2 5.1-.2 4.9-.3 4.9-.3 5.2-.4 5.7-.4 6-.5 6.3-.6 6.5-.6 6.8-.7 6.7-.7M274,59.5l.6 1 .5 1.1 .9 .9 1.3 .8 1.6 .8 2.1 .7 2.7 .7 3.1 .6 3.2 .7 3.2 .7 3.3 .7 3.5 .6 3.7 .5 4 .4 4.3 .3 4.8 .3 5.1 .2 5.1 .1 5 0 5 0 5 0M470,78l4.8 1.7 4.7 1.7 4.5 1.6 4 1.5 3.8 1.4 3.7 1.1 3.8 .8 3.7 .6 3.7 .1 3.8-.3 3.7-.8 3.8-.9 3.7-1.1 3.8-1.4 3.7-1.5 3.7-1.7 3.8-1.9 3.7-1.9 3.8-1.8 3.7-1.7 3.8-1.5 3.7-1.3 3.8-1.2 3.7-1 3.6-.9 3.5-.7 4.2-.6 5-.4 5.6-.2 6.2-.2 7.2-.1 7.7 0 7.1 .1 5.8 .3 5.1 .3 5.1 .4M501.1,74.1l3.8 1.3 3.7 1.4 3.8 .7 3.7-.3 3.8-.9 3.7-1.1 3.7-1.4 3.8-1.6 3.7-1.5 3.8-1.4 3.7-1.3 3.8-1.2 3.7-.9 3.8-.6 3.7-.7M145,190l.9-2.5 .9-2.5 1.2-3.1 1.8-4.3 2.1-4.9 2.1-4.3 1.9-3.1 2-2.5 2.1-1.9 2.4-1.2 2.5-.6 2.5-1.2 2.5-2.1 2.5-2.6 2.5-2.8 2.5-3.1 2.5-3.2 2.5-2.6 2.5-1.8 2.5-1.3 2.5-.7 2.5-.1 2.5 .6 2.5 1 2.4 1.6 2.5 2.1 2.6 2.3 2.9 2.7 3 2.8 3.1 2.7 2.9 2.2 2.9 1.9 3.2 1.9 3.7 2.1 4 2 4.3 1.9 4.7 1.7 5.1 1.6 5.1 1.2 5 .7 5 .5 5 .3 5 .3 5 .3 5 .2 5 .3 5 .3 5 .1 5 0 4.9-.2 5-.5 4.4-.8 4.5-1.1 6.1-1.1 9.2-1.1 10.8-1.1 10-.8 8.1-.4 7.2-.2 7.2-.2M377.2,165.4l5.9 5.3 9 3 7.5-2.3 4.5-3.7 9.9-2.3 46 1.6 40.2 2 30 2 10-1 8.1 20 4 36.2 4 12 6 0 4-22.1 6-44.1 18-4 20.1-1 16 4M147,200l.9-2.5 .9-2.5 1.2-2 1.7-1.2 1.9-.8 1.9-1 1.4-1.5 1.3-1.8 1.8-1.8 2.8-1.9 3.3-2.1 2.9-2 2.1-1.9 1.8-1.9 2-2.2 2.2-2.9 2.4-3.3 2.9-2.8 3.8-2.1 4.4-1.5 3.8-.9 2.8-.1 2.3 .5 2.4 1.1 2.9 1.7 3 2.1 3.1 2.2 2.9 1.9 2.9 2 3.2 2.1 3.8 2.4 4.1 2.7 4.1 2.4 4.2 2.2 4.1 2 3.6 1.8 2.1 1.2 1.4 1 3 1.5 5.7 2.4 7.2 2.8 7.2 2.8 6.7 2.6 6.6 2.4 6.7 2 6.7 1.4 6.7 .9 6.7 .7 6.7 .4 6.6 .2 6.7 .4 6.5 .9 6.5 1.1 7 1 7.7 .7 8.2 .7 8.2 .6M374.6,214.1l6 6 6 12.1 10 4 4-10 6-7.1 14.1 1 15.3-1 10.1-1 14 5 24-8 26.1 2 30 2 10.1 1 20-1 22 1 8.1 10.1 16 14 4 12.8 2 7 4 2M145.3,226.3l2.4-2.7 2.4-2.6 2.9-2.3 3.9-1.5 4.4-1.1 4.5-1.3 4.3-1.9 4.2-2.2 4.3-2.3 4.4-2.7 4.4-2.8 4.1-2.2 3.5-1.5 3.2-1 3.5-.1 3.9 .8 4.2 1.7 4.8 2.7 5.7 4.2 6.2 5.3 6 4.6 5.4 3.3 5.2 2.7 4.8 2.9 4.5 3.5 4.1 3.7 4.2 3.1 4.2 1.9 4.2 1.3 4.5 1.9 5.1 3 5.4 3.7 4.8 3.6 3.7 3.1 3.2 3 3.4 4.2 4.3 6.3 4.5 7.4 4 6.8 2.9 5.4 2.4 4.9 2.4 5.1 2.7 5.9 2.6 6.2 2.4 5.8 1.9 4.9 1.6 4.5 1.6 4.5M332.5,330l5.2 7.7 10.2 5.1 9.1-3.8 6.3-1.3 6.7 3.3 6.2 1.8 6.8-3.8 6 1.3 7.7-7.7 2.5-2.6 5.2-11.3 3.8 11.3 2.6 15.4 6.4 15.4 7.7 17.9 7.7 23.1 5.1 20.5 1.3 23.1M200.4,412l-1.2-12.8-2.6-17.9-3.8-18-3.9-17.9-2.6-15.4 0-34.4 3.9-18 9-10.2 7.7 2.6 10.2 10.2 10.3 12.8 10.2 15.4 10.3 15.4 7.7 6.2 12.8 10.3 10.3 8.9 10.2 0 10.3 9 7.7 10.3 7.7 2.5 5.1 12.9 5.2 10.2 10.2 10.3 5.1 5.1" fill="none" stroke="#000" stroke-width="1.25" stroke-linejoin="round" stroke-linecap="round"/>
<path d="M137.5,80.7l1.2-1.5 1.3-1.4 1.2-.8 1.1 .4 1.2 1.1 1.5 .7 2.3 .1 2.7-.2 2.5-.6 2.2-1.2 2-1.6 1.8-1.7 1.6-1.8 1.3-2 1.6-1.5 1.6-.8 1.8-.4 2.6-.3 4-.3 4.8-.1 4.6 0 4.3 .2 4.1 .3 3.6 .4 2.9 .5 2.4 .5 2.2 .8 2.1 1 2 1.3 1.9 1.4 1.9 1.5 1.9 1.7 2.2 2.1 2.8 2.7 3.1 3.1 3.1 3.1 3 2.9 3 2.8 3 2.6 3 2.4 2.9 2.2 3 2.1 3 1.9 3 1.8 3 1.6 2.9 1.3 2.9 1.2 3.2 1.2 3.8 1.3 4.1 1.3 4.1 1.2 4 1 4 .8 4 .7 4.1 .6 4.1 .5 3.8 .4 3.4 .3 3.2 .3 3.1 .3M348.7,113.7l6.9-.8 7-.9 7.1-.6 7.4-.4 7.5-.1 7.5-.2 7.4-.2 7.4-.2 7.1-.1 6.6-.1 6.4 0 6.7 0 7.3 .1 7.6 .1 7.6 .3 7.9 .7 7.9 .8 6.7 .8 4.6 .6 3.3 .6 3.3 .5 3.7 .6 3.7 .5 3.7 .5 3.8 .3 3.8 .3 3.8 0 3.3-.2 3.3-.3 4.6-.6 6.6-.9 7.9-1.2 7.9-1.3 7.5-1.5 7.5-1.7 7.5-1.3 7.5-.7 7.5-.4 7.5 0 7.6 .2 7.5 .5 6.9 1 5.8 1.6 5.1 2 5.1 2M204.9,59l.4 1.1 .5 1.2 .7 1 1.1 .8 1.4 .7 1.7 .6 1.9 .6 2.2 .5 2.2 .5 2.1 .4 2.2 .4 2.1 .5 2.1 .5 2.2 .6 2 .7 1.8 .8 1.8 .9 1.6 .9 1.6 1.1 1.4 1.1 1.3 1 .8 .7 .7 .5 1.1 .9 2 1.4 2.4 1.7 2.7 1.9 2.8 2.1 3.1 2.3 3.1 2.4 3 2.5 3.1 2.5 3.4 2.2 3.8 1.7 4 1.5 4 1.3 3.8 1.2 3.7 1.1 3.7 .9 3.8 .7 3.7 .5 3.8 .4 3.7 .2 3.8 0 3.7-.2 3.8-.4 3.7-.5 3.8-.7 3.7-.9 3.8-1 3.7-1 3.5-1 3.6-1.1 4.1-1.2 5.1-1.4 5.7-1.4 5.6-1.2 5.3-.8 5.2-.6 5.2-.6M423.6,91.2l7.5 0 7.4 .1 6.4-.1 4.5-.3 3.4-.4 3.4-.1 3.7 .4 3.8 .8 3.7 1 3.8 1.2 3.7 1.4 3.8 1.4 3.7 1.5 3.8 1.6 3.7 1.4 3.7 1.1 3.8 1 3.7 .7 3.8 .4 3.7 .2 3.8-.1 3.7-.5 3.8-.7 3.7-1 3.7-1.1 3.8-1.3 3.7-1.5 3.8-1.6 3.7-1.8 3.8-1.7 3.7-1.5 3.8-1.5 3.7-1.5 3.7-1.5 3.8-1.5 3.7-1.5 3.8-1.4 3.7-1.4 3.8-1.1 3.7-.8 3.8-.6 3.7-.3 3.7-.1 3.8 .1 3.7 .2 3.4 .3 3.4 .5 4 .7 4.9 1.1 5.6 1.3 5.5 1.3M240.7,59l.4 1.1 .5 1.2 .7 1 1.1 .8 1.4 .7 1.7 .6 1.9 .6 2.2 .5 2.2 .5 2.1 .6 2.2 .6 2.1 .7 2.1 .8 2.2 1 2 1 1.9 1.1 1.8 1.1 1.5 1.1 1.1 1 .9 .9 1.2 1.1 1.8 1.3 2.2 1.5 2.1 1.2 1.9 .8 1.9 .7 2.4 .5 3.2 .5 3.8 .4 4.2 .3 4.7 .2 5.2 .1 5.1 0 5 .1 5 0 5-.1 5-.2 5-.2 5-.4 4.9-.4 4.9-.6 5.1-.7 5.5-1.1 5.7-1.2 5.7-1.2 5.4-1 5.4-1 6-.8 7.2-.6 7.9-.5 6.9-.3 5.3 0 4.3 .1 4.4 .2M462.9,83.7l3.3 .7 3.3 .7 3.5 .8 3.7 1 3.8 1.2 3.8 1.2 3.7 1.4 3.8 1.4 3.7 1.1 3.7 .7 3.8 .3 3.7 .1 3.8-.3 3.7-.6 3.8-.8 3.7-1.1 3.8-1.3 3.7-1.5 3.7-1.7 3.8-2 3.7-1.9 3.8-1.9 3.7-2 3.8-1.7 3.7-1.5 3.8-1.3 3.7-1.2 3.8-1.1 3.7-.9 3.8-.8 3.1-.7 3.2-.6 4.9-.4 8.4-.3 10.3-.2 8.9 0 6.2 .4 4.9 .5 4.9 .6M263.4,59.5l.4 1 .5 1.1 .7 .9 1.1 .8 1.4 .7 1.7 .6 2 .6 2.3 .5 2.5 .5 2.6 .6 2.7 .5 2.7 .7 2.8 .8 2.8 .9 2.8 .8 2.4 .7 2.4 .7 2.8 .6 3.6 .5 4 .3 4.4 .3 4.8 .2 5.1 0 5.1 0 5-.1 5-.2 5-.3 5-.3 5-.3 5-.3M520,70l3-.3 3-.3 3.2-.4 3.6-.7 3.8-.9 3.8-.9 3.7-.7 3.7-.7 3.9-.6 4.3-.4 4.5-.3 4.5-.3M492.1,75.8l2.9 1.2 2.9 1.1 3.2 1.1 3.8 1.1 4 1 3.5 .7 2.4 .5 2 .2 2.3-.2 3.1-.8 3.4-1.1 3.6-1.4 3.6-1.6 3.8-1.8 3.8-1.7 3.8-1.6 3.7-1.5 3.8-1.4 3.7-1.1 3.8-.9 3.7-.8 3.6-.7 3.5-.5 4.2-.5 5.2-.4 5.8-.4 5.8-.3M513.5,66.8l5.4-.4 5.4-.3 4.9-.4 4.1-.4 3.5-.3 3.6-.4M142.7,180.4l1.2-1.7 1.2-1.6 1.4-2.7 1.8-4.6 2.1-5.6 2.1-4.8 1.9-3.3 1.9-2.4 2.2-1.8 2.8-.9 3.1-.3 3-1 2.6-2.3 2.5-2.9 2.4-3 2.5-3.2 2.5-3.2 2.5-2.6 2.5-1.6 2.5-1 2.5-.4 2.5 0 2.5 .5 2.5 1 2.4 1.6 2.5 2 2.6 2.4 2.9 2.9 3 3.2 3.1 2.9 2.9 2.2 2.9 1.8 3.2 1.9 3.7 2.1 4 2.1 4.3 1.8 4.7 1.5 5.1 1.3 5.1 1 5 .7 5 .5 5 .3 5 .1 5 0 5-.1 4.4-.1 4.5-.1 6.1-.6 8.9-1.3 10.5-1.7 10.5-1.5 10.3-1.2 10.3-1.1 9.4-.7 8.1-.2 7.2 .1 7.2 .1M377.2,154.9l7.4 3 7.5 0 7.5-2.2 14.4-1.5 26 .3 22 1M502,157l38.2 2 6.1 15 6 22 4 5 6-3 6-22 4-18 18-4 20.1-2 14 2 4 4M146.5,190l1.4-3.3 1.5-3.3 1.6-3 1.7-2.8 1.9-2.6 2.4-2.1 3.2-1.2 3.8-.6 3.4-1.2 2.7-2.1 2.4-2.5 2.4-2.9 2.4-3.4 2.4-3.8 2.7-3.3 3.3-2.6 3.7-2.1 3.5-1.2 3.1 0 3 .8 2.9 1.4 3 1.9 3 2.3 3 2.5 2.9 2.4 2.9 2.6 3.2 2.5 3.8 2.5 4.1 2.6 4.1 2.4 3.9 2.4 3.9 2.3 4.1 2.1 4.3 1.8 4.5 1.5 4.7 1.2 4.9 .9 5 .7 5.1 .6 5 .5 5.1 .4 4.9 .6 4.7 .8 4.5 .9 4.5 .9M356,183.1l20.6 1 6 10 4 5 10 1 6-10 6-2 31.4 .5 20.1 3.5 20-4 20.1-2 30 4 14 2 6.1 18 4 28.1 3 6 4 0 4-18 4-32.1 11 2 10-5 20.1 2 8 7 6 10 2 2M144.1,228.2l1.3-4 1.2-4.1 1.5-4 1.7-4.3 1.9-4.3 2.4-3.4 3-1.6 3.5-.8 3.6-1.6 3.6-3.6 3.7-4.6 3.4-4 2.7-2.9 2.4-2.4 2.4-2.2 2.5-2.3 2.5-2.1 2.5-1.6 2.5-.7 2.5-.2 2.5 .2 2.4 .4 2.5 .7 2.6 1.1 2.9 1.7 3 2.2 3.1 2.1 2.7 1.8 2.7 1.9 3.6 2.3 5.1 3 6 3.5 6.3 3.7 6.5 4 6.8 4.2 6.8 3.8 7 3 7.1 2.6 5.9 2.4 4.1 2.1 2.9 2 3 1.9 3.3 2.1 3.4 2.1 3.3 1.9 3 1.3 3 1 4.1 1.7 5.9 2.8 7.1 3.5 7 3.7 6.7 3.9 6.6 4 6.7 4.1M350.5,256.2l6.1 6.8 12-5 7.9-10 6.2 9 1.9 13 6 10.1 6 5 4.1-15.1 1.9-6 4.4-1.5M454.1,283.1l8 8 10-5 8-8 16.1 6 12 5 8-3 12 1 12 9 16.1 14 14 12 10 10.1 10 12 10.1 8 3 4.8M145.3,280.2l2.7-5.1 2.6-5.1 2.4-5.2 1.9-6.3 1.6-6.4 1.6-4 1.6 .6 1.7 3.1 1.9 1.5 2.2-1.8 2.5-3.4 3-3.8 3.9-4.1 4.4-4.6 4.5-4.1 4.5-3.7 4.4-3.2 3.9-2.1 2.8-.6 2.1 .6 2.8 1.3 3.8 1.8 4.4 2.5 4.6 3.4 4.9 4.5 5.3 5.3 5.2 5.6 5.2 5.9 5.3 6.1 4.9 5.9 4.6 5.7 4.4 5.3 3.8 4.4 2.9 2.8 2.4 1.8 2.4 1.8M308.5,330.2l8 8 8.4 7.2 12.8 12.8 7.3 3.8 5.5 6.5 7.7 12.8 7.7 9M477.9,445.4l3.8-19.2 3.9 1.3 2.5 17.9" fill="none" stroke="#000" stroke-width="2.7" stroke-linejoin="round" stroke-linecap="round"/>
<path d="M262,55L272,57.5L281,59.5L292.4,62.5L307.4,64.7L322.3,66.2L337,67.4L357,70L374,72L413,73.5L430,72.5L445,69.5L470,68.5L490,67.5L507,65L520,63.5L560,63L585,62.3L600,61.2L615,61L626,61.8L633,62.5L633,55ZM656,56L656,80L675,79L690,76.2L705,73.2L720,68L727.5,65L729.6,64L729.6,56Z" fill="#000"/>
<path d="M657.5,70.2L678.7,71.7L690,68.7L705,64.2L716,60.2" fill="none" stroke="#78ff00" stroke-width="1.3"/>
<path d="M688,61.8L700,60.3L714,59.3" fill="none" stroke="#ffa000" stroke-width="1.1" stroke-dasharray="5 2"/>
</g>
<path d="M135.5,80L138,80L138,81.5ZM138.8,100L141,100L141,102ZM142.1,190L145,190L145,196ZM147,316L152.1,316L152.1,350ZM154.1,350L159.1,350L159.1,380.5ZM174.9,380.5L177.1,380.5L177.1,411.5ZM200,411.5L202.2,411.5L202.2,445.8ZM224.8,411.5L222.8,411.5L222.8,445.8ZM284.4,411.5L286.3,411.5L286.3,445.8ZM302.6,411.5L300.7,411.5L300.7,445.8ZM308.6,411.5L310.8,411.5L310.8,445.8ZM341,411.5L339,411.5L339,445.8ZM369.8,380.5L367.9,380.5L367.9,411.5ZM380.6,380.5L382.5,380.5L382.5,411.5ZM383.3,411.5L385.5,411.5L385.5,445.8ZM404.9,411.5L403,411.5L403,445.8ZM422.3,411.5L424.2,411.5L424.2,445.8ZM510.3,445.8L512.4,445.8L512.4,478ZM525.3,445.8L523.2,445.8L523.2,478ZM592.4,411.5L590.2,411.5L590.2,445.8ZM599.5,356L597.3,356L597.3,380ZM606.5,335L604.3,335L604.3,356ZM613.5,318L611.3,318L611.3,335ZM620.5,301L618.3,301L618.3,318ZM624.2,284L621.3,284L621.3,301ZM628.2,156L625.3,156L625.3,166ZM631.5,85L629.3,85L629.3,92ZM634,61L632.3,61L632.3,61.5ZM657.5,80L660.4,80L660.4,85ZM661.4,220L663.8,220L663.8,236ZM664.8,301L667.4,301L667.4,316ZM700.5,334.5L703.1,334.5L703.1,355.5ZM718.6,355.5L721.5,355.5L721.5,380.5Z" fill="#fff"/>
<path d="M93.6,54.6L134.5,54.6L134.5,80L138,81.5L138,100L141,102L141,190L145,196L145,316L152.1,350L159.1,380.5L174.1,380.5L177.1,411.5L199.1,411.5L202.2,445.8L222.8,445.8L225.6,411.5L283.7,411.5L286.3,445.8L300.7,445.8L303.4,411.5L307.8,411.5L310.8,445.8L339,445.8L341.8,411.5L367.9,411.5L370.5,380.5L379.9,380.5L382.5,411.5L385.5,445.8L403,445.8L405.6,411.5L421.6,411.5L424.2,445.8L509.5,445.8L512.4,478L523.2,478L526.1,445.8L590.2,445.8L593.3,411.5L597.3,411.5L597.3,380L600.3,356L604.3,356L607.3,335L611.3,335L614.3,318L618.3,318L621.3,301L625.3,284L625.3,166L629.3,156L629.3,92L632.3,85L632.3,61.5L634.6,61L636.1,57L656.4,57L656.4,80L660.4,85L660.4,220L663.8,236L663.8,301L667.4,316L667.4,334.5L699.5,334.5L703.1,355.5L717.5,355.5L721.5,380.5L729.6,380.5L729.6,483.3L93.6,483.3Z" fill="#000"/>
<text transform="translate(327.3 116.3) rotate(-9) scale(0.93 1)" font-family="Liberation Sans, Arial, sans-serif" font-weight="bold" font-size="20.3" text-anchor="middle" y="7.3" stroke="#000" stroke-width="0.5" stroke-linejoin="round">27.2</text>
<text transform="translate(400.8 90.6) rotate(-3) scale(0.93 1)" font-family="Liberation Sans, Arial, sans-serif" font-weight="bold" font-size="20.3" text-anchor="middle" y="7.3" stroke="#000" stroke-width="0.5" stroke-linejoin="round">26.8</text>
<text transform="translate(445 77.3) rotate(10) scale(0.93 1)" font-family="Liberation Sans, Arial, sans-serif" font-weight="bold" font-size="20.3" text-anchor="middle" y="7.3" stroke="#000" stroke-width="0.5" stroke-linejoin="round">26.4</text>
<text transform="translate(482 156.2) rotate(0) scale(0.93 1)" font-family="Liberation Sans, Arial, sans-serif" font-weight="bold" font-size="20.3" text-anchor="middle" y="7.3" stroke="#000" stroke-width="0.5" stroke-linejoin="round">27.6</text>
<text transform="translate(328 185.3) rotate(-2) scale(0.93 1)" font-family="Liberation Sans, Arial, sans-serif" font-weight="bold" font-size="20.3" text-anchor="middle" y="7.3" stroke="#000" stroke-width="0.5" stroke-linejoin="round">27.64</text>
<text transform="translate(429.8 272.8) rotate(27) scale(0.93 1)" font-family="Liberation Sans, Arial, sans-serif" font-weight="bold" font-size="20.3" text-anchor="middle" y="7.3" stroke="#000" stroke-width="0.5" stroke-linejoin="round">27.68</text>
<text transform="translate(288.5 308.6) rotate(53) scale(0.93 1)" font-family="Liberation Sans, Arial, sans-serif" font-weight="bold" font-size="20.3" text-anchor="middle" y="7.3" stroke="#000" stroke-width="0.5" stroke-linejoin="round">27.72</text>
<text transform="translate(474 72.5) rotate(-8) scale(0.93 1)" font-family="Liberation Sans, Arial, sans-serif" font-weight="bold" font-size="15.5" text-anchor="middle" y="5.6" stroke="#000" stroke-width="0.5" stroke-linejoin="round">26.0</text>
<text transform="translate(494 66) rotate(-12) scale(0.93 1)" font-family="Liberation Sans, Arial, sans-serif" font-weight="bold" font-size="15" text-anchor="middle" y="5.4" stroke="#000" stroke-width="0.5" stroke-linejoin="round">25.6</text>
<g stroke="#000" stroke-width="4.8" stroke-linecap="round" fill="none">
<path d="M91.4,56.9H731.8M91.4,481H731.8M93.6,56.9V481M729.6,56.9V481" stroke-linecap="butt"/>
<path d="M93.6,56.9V46.6M93.6,481V491.3M128.9,56.9V49.6M128.9,481V488.3M164.3,56.9V49.6M164.3,481V488.3M199.6,56.9V46.6M199.6,481V491.3M234.9,56.9V49.6M234.9,481V488.3M270.3,56.9V49.6M270.3,481V488.3M305.6,56.9V46.6M305.6,481V491.3M340.9,56.9V49.6M340.9,481V488.3M376.3,56.9V49.6M376.3,481V488.3M411.6,56.9V46.6M411.6,481V491.3M446.9,56.9V49.6M446.9,481V488.3M482.3,56.9V49.6M482.3,481V488.3M517.6,56.9V46.6M517.6,481V491.3M552.9,56.9V49.6M552.9,481V488.3M588.3,56.9V49.6M588.3,481V488.3M623.6,56.9V46.6M623.6,481V491.3M658.9,56.9V49.6M658.9,481V488.3M694.3,56.9V49.6M694.3,481V488.3M729.6,56.9V46.6M729.6,481V491.3M93.6,56.9H83.3M729.6,56.9H739.9M93.6,91H86.3M729.6,91H736.9M93.6,125.2H86.3M729.6,125.2H736.9M93.6,159.3H86.3M729.6,159.3H736.9M93.6,193.5H83.3M729.6,193.5H739.9M93.6,227.7H86.3M729.6,227.7H736.9M93.6,261.8H86.3M729.6,261.8H736.9M93.6,295.9H86.3M729.6,295.9H736.9M93.6,330.1H83.3M729.6,330.1H739.9M93.6,364.2H86.3M729.6,364.2H736.9M93.6,398.4H86.3M729.6,398.4H736.9M93.6,432.5H86.3M729.6,432.5H736.9M93.6,466.7H83.3M729.6,466.7H739.9"/>
</g>
<text transform="translate(93.6 526.2) scale(0.925 1.0)" font-family="Liberation Sans, Arial, sans-serif" font-weight="bold" font-size="32.2" text-anchor="middle" stroke="#000" stroke-width="1.1" stroke-linejoin="round" >90S</text>
<text transform="translate(199.6 526.2) scale(0.925 1.0)" font-family="Liberation Sans, Arial, sans-serif" font-weight="bold" font-size="32.2" text-anchor="middle" stroke="#000" stroke-width="1.1" stroke-linejoin="round" >60S</text>
<text transform="translate(305.6 526.2) scale(0.925 1.0)" font-family="Liberation Sans, Arial, sans-serif" font-weight="bold" font-size="32.2" text-anchor="middle" stroke="#000" stroke-width="1.1" stroke-linejoin="round" >30S</text>
<text transform="translate(410.8 526.2) scale(0.83 1.0)" font-family="Liberation Sans, Arial, sans-serif" font-weight="bold" font-size="32.2" text-anchor="middle" stroke="#000" stroke-width="1.1" stroke-linejoin="round" >EQ.</text>
<text transform="translate(517.6 526.2) scale(0.925 1.0)" font-family="Liberation Sans, Arial, sans-serif" font-weight="bold" font-size="32.2" text-anchor="middle" stroke="#000" stroke-width="1.1" stroke-linejoin="round" >30N</text>
<text transform="translate(623.6 526.2) scale(0.925 1.0)" font-family="Liberation Sans, Arial, sans-serif" font-weight="bold" font-size="32.2" text-anchor="middle" stroke="#000" stroke-width="1.1" stroke-linejoin="round" >60N</text>
<text transform="translate(729.6 526.2) scale(0.925 1.0)" font-family="Liberation Sans, Arial, sans-serif" font-weight="bold" font-size="32.2" text-anchor="middle" stroke="#000" stroke-width="1.1" stroke-linejoin="round" >90N</text>
<text transform="translate(69.6 67.2) scale(1.06 1.0)" font-family="Liberation Sans, Arial, sans-serif" font-weight="bold" font-size="32.4" text-anchor="end" stroke="#000" stroke-width="1.1" stroke-linejoin="round" >0</text>
<text transform="translate(69.6 203.8) scale(1.06 1.0)" font-family="Liberation Sans, Arial, sans-serif" font-weight="bold" font-size="32.4" text-anchor="end" stroke="#000" stroke-width="1.1" stroke-linejoin="round" >2</text>
<text transform="translate(69.6 340.4) scale(1.06 1.0)" font-family="Liberation Sans, Arial, sans-serif" font-weight="bold" font-size="32.4" text-anchor="end" stroke="#000" stroke-width="1.1" stroke-linejoin="round" >4</text>
<text transform="translate(69.6 477) scale(1.06 1.0)" font-family="Liberation Sans, Arial, sans-serif" font-weight="bold" font-size="32.4" text-anchor="end" stroke="#000" stroke-width="1.1" stroke-linejoin="round" >6</text>
</g>
<g>
<clipPath id="clipb"><rect x="866.7" y="56.9" width="604" height="423.1"/></clipPath>
<g clip-path="url(#clipb)">
<rect x="872" y="56.9" width="600" height="430.3" fill="#ff00a0"/>
<path fill="#a000a0" d="M872,56.9l600 0 0 430.3-600 0zM1149.8,87.3l-1.5 3.4 .3 15.4 2.2 3 5.3 .3 .7-.3 1.5-3 .6-6.2-.1-9.2-1.1-3.1-1.6-1.6-4.2-.1z"/>
<path fill="#3200aa" d="M872,56.9l600 0 0 430.3-600 0zM1141.3,77.6l-1.4 .8-.9 12.3 3.3 9.2 1.3 6.2 3.6 3 4.7 1.4 4.2 0 4.2-1.4 3.6-3 4.2-15.4-.5-12.3-3-1.4-19.1-.1z"/>
<path fill="#0000d2" d="M872,56.9l600 0 0 430.3-600 0zM1139.2,74.8l-2.2 1.1-2.3 2.5 .8 6.2-.2 6.1 3.5 9.2 1.3 6.2 2.8 3 6.9 2.3 8.4-.1 6.4-2.2 2.9-3 1.3-6.2 2.2-6.1 1.9-15.4-3.1-3.1-5.2-1.2-21.2-.1z"/>
<path fill="#0000ff" d="M872,56.9l600 0 0 430.3-600 0zM1137,72.2l-4.2 1.2-2.1 1.5-1.5 3.5 1.3 15.4 3.2 6.1 1.9 6.2 1.6 3 6.2 2.5 6.4 1.5 4.2 .2 4.2-.2 6.4-1.6 5.4-2.4 2.2-3 3.4-9.2 1-6.2 2.4-9.2 .3-3.1-1.4-3.1-4.8-2.6-6.4-1-23.3-.1z"/>
<path fill="#0050ff" d="M872,56.9l600 0 0 430.3-600 0zM1120.1,68.9l-10.6 4.4-6.4 1.6-12.7 1.5-23.3 1.3-4.3 .7 6.4 3.7 4.2 3.8 12.8 5.9 23.3 6.5 8.5 3.7 6.3 1.1 2.1 1.2 1.8 1.8-.6 3 3.5 3.1 8.1 2.2 10.6 1.3 8.4 .1 12.8-2.1 10.6-3.9 4.2-5 2.1-1.4 2.1-.7 10.6-.4 2.2-.8 17.5-10.8 6.5-6.1 2.9-6.2-5.7-1.6-21.2-2.6-11.9-5-3-.5z"/>
<path fill="#0096ff" d="M872,56.9l600 0 0 20.5-10.6 0-7 1-2.5 6.2-.6 6.1-1.7 6.2 1.2 1.9 8.5 3.3 2.1-.3 3.2-1.9 .3-3-1.1-6.2 1.8-2.8 2.2 .2 4.2 2.7 0 396.4-600 0 0-373.7 2.2-.5 4.2-3.4 1.3-.5 .8-2.4 .6 2.4 3.7 1.4 2-1.4-2-2.4-4.3-.8-2.1-3-6.4 .6zM1115.8,66l-12.7 4.4-8.5 2.1-10.6 1.5-18.9 1.3-14.8 3.1-2.3 1.2-12.7 1.1-23.3 .9-78.5-4.5-2.9 1.3-5.6 14.8-2.1 3-4.2 3.2-2.1 .3-12.8-.4-4.8 .6-3.6 2.2-2.7 4-.2 3 2.9 3.8 2.1 1 4.2-.5 4.3-2.6 4.2 1.7 2.1 0 4.3-5.1 6.3 6.6 2.1 .1 4.3-1.8 6.3-1.7 4.3-.3 150.5 .1 10.6 1.3 8.5 2.6 17.8 4.1 7.6 2.5 19.1 2.2 17-2.1 7.6-2.6 17.8-4.2 8.5-2.8 6.3-1 180.2-.2 8.5 .2 1.9-1.3-1.9-3.8-6.3-1.5-4.3-2.7-.9-1.2-.6-6.1-5.8-3.1-11.8-.5-4.2-1.2-1.3-1.4-1.1-3-.3-6.2-1.5-1.3-46.7-1-6.3 1-12.8 3.7-44.5 0-4.2-.7-3.8-1.7-6.8-1.1-10.6-3-14.9-2.6-16.7-5.6-4.5-.8-67.8-.1zM1408.4,110.1l-1.4 2.1 1.4 1.9 4.2 2.8 2.2-1.4 .4-3.3-2.6-2-2.1-.8zM1427.5,105.2l-2.1 1.1-2.7 2.8-1.9 3.1-.7 3.1 .3 3.1 5 2.3 2.1-.1 1.7-2.2 2-6.2 .3-3.1-1.9-2.7zM1442.3,111.2l-1.4 1 1.4 1 .5-1zM1444.4,99.1l-1.3 .8 1.3 2.1 2.9-2.1z"/>
<path fill="#00dcff" d="M872,56.9l600 0 0 18.5-17 .5-2.1 1.1-1.4 1.4-.7 1.8-1.5 10.5-2.2 3.1-2.7 1.5-10.6 1.5-4.2-1-4.2-2.5-6.4-7.6-2.1-.6-2.1 .9-2.2 1.9-2.1-.3-1.9-3 4-2 1.3-1.1 .3-3.1-5.8-2.1-6.4-.2-11.5 2.3 6.6 6.2-1.4 .6-8.5 1.5-17 .9-2.1-.5-2.1-2.5-.2-6.2-1.4-3.1-2.6-1.2-48.8-1.5-6.4 .7-6.3 2.6-4.3 1-44.5 0-8.5-.8-8.4-1.7-30.2-8.3-14.4-2.7-69.9 0-15.1 2.7-12.5 3.7-8.5 1.8-38.1 5-33.9 1.2-59.4-1.5-21.2-1.7-2.1 1.3-2.1 2.5-5.2 12.3-3.3 3.6-2.1 1.3-4.3 .7-10.6 .5-10.6 2.6-4.2 .3-8.5-.8-6.4 .1zM1449.8,130.7l1-.8 2.1-.2 6.4 .6 6.3 3.9 4.3 1.5 2.1 .2 0 351.3-600 0 0-351.6 241.7 0 40.3 .5 38.2-.5 197.1 0 6.4-.4 6.3-2.4 8.5-1.4 2.1 .3 1.4 2-.3 3.1 .9 3.1 2.3 .3 2.1-2.2 2.1-5.5 2.1-.7 4.3 4.9 2.1 1.1 8.5-1.8 4.2 1 2.1-.6 4.3-5.2zM1408.4,141.8l-.7 1.2 .7 1.9 .6-1.9z"/>
<path fill="#00ffdc" d="M872,56.9l600 0 0 17.1-17 .2-3 1.1-2.5 3.1-1.8 12.3-1.1 1.6-2.2 1-8.4 .1-4.3-.3-4.2-1.7-2.1-2.4-6.4-10.6-5.3-3.1-5.3-1-6.4-.2-10.6 .5-10.6 1.2-5 2.6 1.5 3.1-.9 3.1-6.2 .5-1.4-.5-.7-2.3-.6-7-1.5-2.2-1.3-.8-2.9-.4-53-.6-5.9 1-6.9 2.4-46.6 .1-10.6-1.2-24.6-7.5-17-3.1-9.3-.4-69.9 .1-5.8 .3-17 3.1-19.6 4.7-29.7 3.9-31.8 1.5-33.9-.6-36.1-1.3-12.7-2-4.2 2.5-2.2 2.7-5.4 13.2-3 2.7-4.3 1.3-10.6 .8-14.8 2.9-8.5-.8-6.4-.1zM1453,143l2-1.7 2.2-.3 2.3 2 1 3 0 3.1-2.7 9.2 1.5 1.9 2.1 0 7-1.9 2.7-3 .9-6.2 0 338.1-600 0 0-322.7 523.7-.3 2.1 .4 2.1 4.1 2.1 2 2-3.2 .5-3 1.8-2.1 2.1 0 2.1 5.1 2.1-1.9 3-10.3 1.3-2.3 2.1-1.9 2.1 .2 .5 .9 .9 6.1 2.9 3.7 2.1 .8 2.1-.4 8.5-4.2 6.3 1 2.1-.9 1.9-3 .7-6.2 1.4-3.1z"/>
<path fill="#00ff96" d="M872,56.9l600 0 0 15.8-17 0-4.2 1.2-1.9 1.4-1.2 3.1 0 6.2-1.4 6.1-1.9 1.3-8.4-.3-4.9-1-3.6-3.4-1.6-2.7-2.1-6.2-2.7-2.3-4.2-2-8.5-1.3-38.2-1.2-8.4-1-46.7-.7-8.5 .3-12.7 2.9-50.9-.3-6.3-1.4-12.9-5.3-18.4-3.1-17.5-.9-69.9 .1-14 .8-18.6 3.1-14.1 3.6-23.3 3.3-36 1.7-34-.3-33.9-1.6-10.6-1.4-4.2 .2-2.6 .7-2.9 3-1.6 3.1-1.8 6.2-2.7 6.1-1.1 1.1-4.3 1.5-10.6 .9-14.8 2.9-14.9-1zM1410,198.3l.5-.6 2.1 .6 4.8 3.1 2.9 3 .4 3.1-1.9 3.1-.8 3 1 1.7 2.1-.6 1.4-4.1 5-5.1 4.2-7.2 2.1 2.1 2.2 3.4 1.5 3.7 2.1 9.2-1.1 3.1-4.1 3.1-.1 3 1.7 1.1 1.8-1.1 2.4-4.7 1.3-1.4 5.1-3.4 2.1 .2 4.2 4 2.1 .5 2-4.4 .1-3.1-3.1-12.2-.1-3.1 1.1-2.1 2.2-.1 2.4 2.2 6 10 2.2-.7 2.1-7.6 2.1-.8 0 288-600 0 0-265 515.2 0 10.6-.4 2.1 1.5 2.1 4.4 2.2 .3 .3-2.1-1.1-6.1 2.3-6.2 3.4-3 .6-3.1-.8-6.1z"/>
<path fill="#00ff50" d="M872,56.9l600 0 0 14.5-17 0-6.3 .9-2.7 3-.2 3.1 .9 6.2-2.3 6-2.1 .2-6.3-1.5-4.3-2.1-2.5-2.6 .4-6.2-1.1-3.1-3.1-2.3-3.8-.7-17.4-1.4-40.3-1.5-48.8-.5-9.6 .3-11.6 2.4-48.7-.1-8.5-1.7-10.6-4.5-14.9-2.4-21.2-1.3-72 .1-22.1 1.3-18.1 3.1-12.8 3-14.9 2.2-33.9 2.1-38.2-.1-33.9-1.6-10.6-1.3-4.2 .1-6.4 2-3.3 5.9-1.3 6.2-2.5 6.1-1.4 .9-14.8 1.8-12.7 2.4-14.9-1.1z"/>
<path fill="#00ff14" d="M872,56.9l600 0 0 13.2-19.1-.1-12.7 1.2-14.8-1.1-36.1-1.1-74.2-.8-10.6 .3-10.6 1.7-48.7-.1-6.4-1.2-14.8-5.4-12.8-1.3-21.2-1.1-74.2 .1-28.1 1.8-27 5.3-12.7 1.9-33.9 2.1-36.1-.2-33.9-1.4-12.7-1.4-4.2 .5-7.8 2.5-2.2 3-1.5 3.1-.1 6.2-2.7 6.1-17.5 2.2-8.5 1.6-14.9-1.5zM1435.1,81.5l.9-.8 6.3-1.5 2.1 .9 1 4.5-1 2.6-2.1 .6-8.4-3.2z"/>
<path fill="#28ff00" d="M872,56.9l600 0 0 12-165.4-1.3-12.7 1.3-48.7 0-6.4-1.3-11.7-4.6-13.7-1.3-23.4-1.1-74.2 .1-36 2.3-29.7 5.6-36 2.5-36.1-.1-33.9-1.3-12.7-1.1-8.2 .6-8.8 2.7-2.1 1.8-1.1 1.6-1 3.1 .7 6.2-5.6 6.1-12.1 1.1-6.3 1.3-6.4-1.5-8.5-.9z"/>
<path fill="#78ff00" d="M872,56.9l600 0 0 11-154.8-1.1-23.3 .9-48.7 0-4.3-.7-12.7-4.6-10.6-1.1-27.6-1.2-67.8 0-42.4 2.1-8 .8-23.8 4.5-33.9 2.4-36.1 0-46.6-2-8.5 .4-10.6 1.2-2.1 1.2-4.2 4.3-2.2 .4-1.8-3.1 .1-3.1-4.6-.9-6.4 .4-8.5-.6-5 1.1 2.9 1.8 2.1 .5 10.6-1 3.6 1.8 2.5 3-.3 3.1-1.5 5.1-2.1 .5-2.2-.6-2.1 .3-1.5 .9 1.4 6.1-4.1 .5-2.3-.5 2.3-5.6 1-.5-1-1.3-.3-1.8-4-7.3-2.1-.7-8.5 1z"/>
<path fill="#b4ff00" d="M872,56.9l600 0 0 10-67.8-.8-159 .5-3.2-.5-11.7-4.1-10.6-1.2-29.7-1.2-67.8 0-44.5 2-13.8 1.4-15.9 3.3-33.9 2.4-36.1 .1-46.6-1.6-23.3 .4-5-1.5-3.5-.4-27.6-.3z"/>
<path fill="#ffff00" d="M872,56.9l600 0 0 8.9-65.7-.5-163.3-.2-10.6-3.5-10.6-1.5-31.8-1-67.8 0-48.8 1.9-12.7 1.3-14.8 2.6-31.8 2.5-70-.4-27.5-.8-19.1-1.8-25.5-.3z"/>
<path fill="#ffbe00" d="M872,56.9l600 0 0 7.9-229-1-10.6-3.3-10.6-1.1-31.8-.8-67.8 0-29.7 .6-23.3 1.2-55.1 5.8-70-.1-27.5-1.3-19.1-1.7-25.5-.4z"/>
<path fill="#ff7800" d="M872,56.9l600 0 0 6.8-156.9-.1-21.2-1.1-48.7 0-10.6-2.7-10.6-1.1-34-.6-67.8 0-55.1 1.4-55.1 4.9-67.9-.1-25.4-.7-21.2-2.2-25.5-.4z"/>
<path fill="#ff3c00" d="M872,56.9l600 0 0 5-156.9-.1-19.1-1.5-50.8 0-10.6-1.7-10.6-.7-99.7-.4-59.3 1-34 1.9-19 1.6-87-.1-23.3-2-29.7-.6z"/>
<path fill="#ff1414" d="M872,56.9l600 0 0 1.7-156.9 0-19.1-.6-50.8 0-19.1-.8-152.7 .1-61.4 1.3-87 0-21.2-.8-31.8-.2z"/>
<path d="M880.1,77.1l1.9-1.2 2-1.3 2.1-.6 2.6 .5 2.8 1 2.6 .6 2.2-.3 1.9-.7 2-1.1 1.9-1.6 2-1.8 2.1-1.6 2.6-1 2.8-.7 2.6-.3 2.1-.1 2 .3 1.9 .8 2 1.5 2 2 2 2.5 1.9 3.1 2 3.6 2.1 3.4 2.4 3.1 2.7 2.9 2.9 3 3.2 3.1 3.5 3.1 3.4 2.8 3 2.1 2.9 1.9 4.1 2 5.9 2.6 7.1 2.8 7 2.6 6.7 2.2 6.7 2 6.7 1.8 6.7 1.6 6.6 1.4 6.7 1.1 6.8 .9 6.8 .7 6.4 .4 5.7 .3 5.3 .1 5.1-.4 4.8-1 4.6-1.5 4.6-1.6 4.6-1.7 4.6-1.7 4.8-1.6 5.1-1.2 5.3-1 5.7-.8 5.6-.5 6.1-.3 8.3-.2 12.3-.1 14.5 .1 13.3 0 10.9-.1 9.7-.1 8.7 .2 7.4 .7 6.3 1 6.4 1.3 6.7 1.6 6.6 1.8 6.7 1.6 6.8 1.3 6.9 1.1 6.4 .7 5.9 0 5.4-.5 4.7-.5 3.8-.5 3.1-.5 3.1-.1 3.2 .7 3.2 1 3.7 .4 4.5-.5 4.8-1 4.7-1.6 4.1-2.5 4-3 3.9-2.5 3.8-1.6 3.9-1 4.3-.4 4.9 .5 5.4 1.2 5.8 1.3 6.7 1.4 7 1.5 6.3 1.1 4.7 .6 4 .2 3.9 .2M938.2,59.2l1.1 .7 1.2 .8 1.4 .8 1.9 .9 2.1 1 2 1.1 1.6 1.2 1.5 1.2 1.4 1.3 1.3 1.4 1.2 1.6 1.3 1.5 1.4 1.5 1.4 1.6 1.7 1.4 1.9 1.3 2.1 1.2 2.7 1.3 3.3 1.4 3.8 1.5 4.2 1.6 4.7 1.6 5.1 1.7 5.1 1.7 5 1.7 5 1.7 5 1.6 4.9 1.5 5 1.5 5.1 1.3 5.5 1.2 5.7 1.1 5.6 .7 5.5 .3 5.4 0 5.2-.3 4.6-.6 4.4-.9 5-1.2 6.2-1.5 6.9-1.8 6.9-1.7 6.7-1.5 6.7-1.4 6.7-1.1 6.3-.9 6.3-.6 7.4-.5 8.9-.5 10.1-.4 11.1-.1 13.2 0 14.2 .2 12 .8 8.1 1.7 5.9 2.2 6 2.1 6.9 1.9 6.9 1.7 6.3 1.4 5 1 4.4 .6 4.6 0 5-.7 5.3-1.2 5.7-1.7 6.4-2.4 6.9-2.8 6.8-2.8 6.9-2.6 6.9-2.5 6.2-1.9 5-1.2 4.4-.6 4.6-.2 5.1 .3 5.3 .7 5.7 1 6.5 1.2 7 1.5 6.5 1.3 5.5 .9 5.1 .8 5 .8M964.4,59.2l2.1 1 2.1 1 2.6 1 3.4 1 3.9 .9 3.9 1.1 3.7 1.2 3.8 1.3 3.7 1.3 3.8 1.2 3.7 1.3 3.8 1.2 3.7 1.3 3.8 1.3 3.7 1.2 3.6 1.2 3.6 1.1 4 1.2 4.5 1.5 4.9 1.6 5.3 1.4 5.8 1.3 6.3 1.1 6.4 .6 6.6-.2 6.7-.8 6.7-.9 6.7-.8 6.7-.8 6.7-.9 6.7-1 6.6-1.1 6.7-.9 6.3-.8 6.3-.6 7.4-.6 9.1-.5 10.1-.4 10.2-.2 10.1 0 10.2 .1 9.7 .4 9.2 .7 8.7 .9 7.1 .9 4.5 .6 2.9 .6 3.7 .9 5.6 1.8 6.4 2.1 6.1 1.1 5.3-.6 5.1-1.5 5.6-1.9 6.4-2.1 6.9-2.5 6.8-2.4 6.7-2.3 6.6-2.1 6.7-1.7 6.7-1.1 6.6-.7 6.7-.2 6.9 .4 6.9 .7 6.3 .9 5.6 .9 5 1 4 .6 2.3-.2 1.3-.6 1.4-.7 1.9-.8 2.1-.8 2-.9M994.4,59.2l3.5 1.3 3.4 1.4 3.6 1.1 3.7 .8 3.7 .7 3.8 .7 3.6 .7 3.6 .7 4 .9 4.5 1 4.9 1.2 5.3 1.3 5.8 1.6 6.3 1.7 6.4 1.2 6.6 .5 6.7 .1 6.7-.1 6.7-.2 6.7-.4 6.7-.4M1240,70l4.6 1.6 4.6 1.5 4.8 .9 5-.2 5.3-1 5.7-1.3 6.6-1.9 7-2.2 6.4-1.9 5.4-1.1 4.8-.7 4.8-.7M1232,79l3.3 1.6 3.2 1.7 3.5 1.2 3.8 .7 4 .3 4.4-.3 4.9-.9 5.3-1.4 5.8-1.7 6.4-2.2 6.9-2.6 6.8-2.4 6.7-2 6.7-1.7 6.6-1.3 6.6-.9 6.5-.4 6.6-.2 6.8 .2 6.8 .5 6.4 .6 5.9 .9 5.4 1 4.7 .3 3.8-.9 3.1-1.5 3.1-1.6M884.1,176l2-3.3 2-3.2 2-3.5 2.1-3.9 2.1-4.2 1.9-3.9 1.4-3.7 1.2-3.4 1.4-2.7 1.8-1.7 2-.9 2.2-.4 2.5 .1 2.8 .7 2.7 1.2 2.6 1.9 2.6 2.4 2.8 2.7 3.1 2.9 3.3 3.2 3.6 3.7 3.8 4.4 4.1 4.8 4.1 4.8 4 4.7 4.1 4.7 4 4.7 4 4.7 4 4.8 4 4.5 4.1 4.3 4 4.1 3.9 3.6 3.5 3 3.2 2.5 3.3 2.5 3.3 2.8 3.3 2.8 3.5 2.5 3.9 2.1 4 1.8 4.1 2.1 3.9 2.4 4 2.6 4.1 3 4.6 3.8 4.8 4.2 4.6 4 4.3 3.5 4 3.2 3.8 3.1 3.6 2.8 3.4 2.6 3 2.6 2.2 2.8 1.8 2.9 2 2.4 2.5 1.6 2.8 1.2 2.7 1.2M1074.5,286.1l8-1 8 2 8.1 2 6-3 6-4 4-6 6-5.1 4 3 4 14.1 6 3 4-2 7.1-16.1 15 7.1 11.3 4 10-1 6.1 3 12 12 6 2 4-2 8-1 16 7 18.1 5 18 4 14 7 16.1 8.1 10 3 20-2 10.1-3.4 6 4.4 1 4" fill="none" stroke="#000" stroke-width="1.25" stroke-linejoin="round" stroke-linecap="round"/>
<path d="M924,59.2l1.5 .7 1.4 .8 1.6 .8 1.7 .9 1.8 1 1.7 1.1 1.4 1.2 1.3 1.2 1.1 1.3 1 1.4 .8 1.5 1.1 1.6 1.3 1.7 1.5 1.8 1.7 1.8 1.8 1.7 2 1.8 2.2 1.7 2.3 1.8 2.5 1.8 2.7 1.7 2.8 1.6 3 1.4 3.2 1.5 3.6 1.5 3.8 1.5 3.9 1.5 3.8 1.4 3.8 1.4 3.7 1.2 3.2 1 3.1 1 4.1 1.1 6 1.5 7 1.6 7 1.4 6.8 1.2 6.8 1.1 6.4 .7 5.7 .3 5.3 0 5.1-.3 4.8-.7 4.6-1.1 4.6-1.2 4.7-1.3 4.8-1.4 4.5-1.3 4.2-1 3.9-.8 4-.8M1140.6,99.1l10.4 0 10.5 .1 9.2-.1 6.8-.5 5.7-.6 6.8 .1 9.6 1.5 10.8 2.3 9.7 2.2 7.7 1.9 6.5 1.7 5.9 1.4 5 1.1 4.4 .7 4.6 .2 5-.4 5.3-1 5.7-1.6 6.4-2.3 6.9-2.9 6.8-2.8 6.9-2.6 6.9-2.5 6.2-1.9 5-1.2 4.4-.6 4.6-.2 5.1 .3 5.3 .7 5.7 1 6.5 1.5 7 1.8 6.5 1.7 5.5 1.3 5.1 1.1 5 1.1M950.9,59.2l1.4 .7 1.3 .8 1.8 .8 2.5 .9 3 1.1 2.8 1 2.6 1 2.4 .9 2.5 1.1 2.5 1.2 2.5 1.2 2.5 1.3 2.3 1.2 2.3 1.3 2.8 1.3 3.3 1.5 3.8 1.6 4.2 1.7 4.7 1.7 5.2 1.8 5.1 1.7 5 1.7 5 1.7 4.9 1.6 4.8 1.4 4.7 1.3 5.2 1 5.8 .6 6.3 .4 6.4-.2 6.6-.8 6.7-1.3 6.7-1.3 6.7-1.3 6.7-1.4 6.7-1.3 7-1.1 7-1.1 6-.8 4.4-.5 3.5-.3 3.5-.3M1230.1,88.1l3.2 1.4 3.2 1.4 3.7 1.2 4.3 1 4.7 .9 5 .1 5-.7 5.3-1.4 5.7-1.9 6.4-2.4 6.9-2.9 6.8-2.7 6.9-2.6 6.9-2.5 6.2-2 5-1.2 4.4-.5 4.6-.3 5.1 0 5.3 .3 5.7 .7 6.6 1.2 7 1.5 6.4 1.4 5.4 1 4.8 .7 4.8 .8M980.9,59.2l2.9 1.3 2.9 1.3 3.2 1.2 3.6 1.1 3.8 .9 3.8 1 3.8 1 3.7 1 3.8 1 3.7 1 3.8 1 3.7 1 3.9 1.1 3.9 1.1 3.4 1 2.3 .7 1.8 .6 3.1 .8 5.3 1.4 6.5 1.7 6.7 1.1 6.6 .1 6.7-.4 6.7-.6 6.7-.7 6.7-.9 6.7-.9 6.5-.7 6.5-.7 7-.6 7.8-.4 8.3-.4 8.3-.3M1228,72l4 1.4 4 1.3 4.2 1.4 4.5 1.6 4.6 1.6 4.9 .8 5-.3 5.3-1.1 5.7-1.6 6.4-2.2 6.9-2.6 6.8-2.3 6.3-1.7 6.3-1.3 7.4-1 9.5-.8 10.6-.6 10-.1 9.4 .7 8.7 1.3 6.5 .7 2.9-.1 .7-.7 .9-.7 2-.8 2.3-.9 2.2-.9M1007.1,60l4.3 1.2 4.4 1.2 4.1 1 3.9 .7 3.6 .5 3.7 .6 3.4 .6 3.3 .6 4.2 .9 5.5 1.3 6.4 1.6 6.6 1.3 6.6 .7 6.7 .4 6.7 .4M1262,66l3.2 .5 3.2 .4 3.6 .1 4.1-.6 4.5-1 4.4-.9 4.1-.7 3.9-.7 4-.6M884.1,144.2l2-3.4 2-3.4 2-3.2 2-2.9 2.1-2.7 2-2.4 2-2.1 2-1.7 2-1.3 2-.7 2-.3 2 0 2 .3 2 .7 2 1 2 1.4 2 1.7 2 2 1.9 2.1 2 2.3 2.1 2.6 2.4 3.1 2.7 3.5 2.9 3.4 3.4 3.5 3.6 3.5 3 3 1.5 2 .9 1.6 1.7 2.2 3.4 3.6 4.3 4.2 4.3 4.2 4 3.9 4 3.8 4 3.4 3.8 2.6 3.9 2.2 4.3 2.2 5.2 2.4 5.7 2.4 5.2 2.2 4.2 1.7 3.8 1.6 4 1.7 4.5 2.2 4.8 2.4 4.7 2.4M1070.5,227.2l30.1 1 16 0 4-2 4 4 3 11 11 2 10.1-12 12 2 11.3-1 14.1-2 10 6 10 1 14-1 6-4 14.1 1 20 3 20 3 12.1 3 5 6 7 0 4-6 16-1 12.1 1 14 10 10 4.8 4 15 4 10.1M888.1,216.1l2-3.3 2-3.4 2-3.3 2-3.5 2.1-3.5 2-3 1.9-2.5 2-2.1 2.1-1.4 2.4-.6 2.7 0 2.9 .6 3.2 1.3 3.4 1.8 3.4 1.9 3.3 1.6 3.4 1.5 3.3 1.9 3.4 2.4 3.4 2.7 3.2 2.9 2.8 3 2.7 3.3 2.6 3.7 2.7 4.4 2.6 4.9 2.7 4.8 2.7 4.8 2.8 4.8 2.5 4.4 2.2 3.8 2 3.3 1.8 2.9 1.3 2.1 1.1 1.6 1.6 2.1 2.4 3 2.8 3.5 2.8 3.5M986.3,272l8 3.1 10.1 13 8 2 8 8 10 12 6 5 8 4 10.1 9.1 8 7 4 1 8 10 8 7 6 2 6-3 8.1-4 4.4-2.2M1150.7,329.2l6 3 4 12 1.3 11.8 12 10 7-8 7.1 12 8 17.1 10 3 6 10 2 10-4 10-5 9.1-9-7.1-4 15.1-4-5-3 13.6M1222.1,445.8l2-5.6 3-.6 1.4 6.2" fill="none" stroke="#000" stroke-width="2.7" stroke-linejoin="round" stroke-linecap="round"/>
<path d="M985,55L1004.9,60L1019.9,61.5L1042,64.3L1060.5,67.5L1080.5,70.5L1100.6,72.5L1120.6,73.5L1160.7,72L1200,69.5L1230,67L1244,64.5L1260,63L1290,62.3L1320,62L1350,62.3L1376,63L1376,55ZM1399,56L1399,81.5L1412,82L1425,81L1433,78L1445,76L1460,74.5L1472.7,73L1472.7,56Z" fill="#000"/>
<path d="M1400.5,70L1412,70.2L1425,68.8L1433,66" fill="none" stroke="#28ff00" stroke-width="3.2"/>
<path d="M1433,66L1445,64L1452,63.2" fill="none" stroke="#a0ff00" stroke-width="3.2"/>
<path d="M1440,62L1452,61.2L1460,60.6L1471,60.2" fill="none" stroke="#ffc800" stroke-width="3.6"/>
<path d="M1436,59.3L1452,59L1471,58.8" fill="none" stroke="#ff8200" stroke-width="1.6"/>
</g>
<path d="M878.6,80L881.1,80L881.1,81.5ZM881.9,100L884.1,100L884.1,102ZM885.2,190L888.1,190L888.1,196ZM890.1,316L895.2,316L895.2,350ZM897.2,350L902.2,350L902.2,380.5ZM918,380.5L920.2,380.5L920.2,411.5ZM943.1,411.5L945.3,411.5L945.3,445.8ZM967.9,411.5L965.9,411.5L965.9,445.8ZM1027.5,411.5L1029.4,411.5L1029.4,445.8ZM1045.7,411.5L1043.8,411.5L1043.8,445.8ZM1051.7,411.5L1053.9,411.5L1053.9,445.8ZM1084.1,411.5L1082.1,411.5L1082.1,445.8ZM1112.9,380.5L1111,380.5L1111,411.5ZM1123.7,380.5L1125.6,380.5L1125.6,411.5ZM1126.4,411.5L1128.6,411.5L1128.6,445.8ZM1148,411.5L1146.1,411.5L1146.1,445.8ZM1165.4,411.5L1167.3,411.5L1167.3,445.8ZM1253.4,445.8L1255.5,445.8L1255.5,478ZM1268.4,445.8L1266.3,445.8L1266.3,478ZM1335.5,411.5L1333.3,411.5L1333.3,445.8ZM1342.6,356L1340.4,356L1340.4,380ZM1349.6,335L1347.4,335L1347.4,356ZM1356.6,318L1354.4,318L1354.4,335ZM1363.6,301L1361.4,301L1361.4,318ZM1367.3,284L1364.4,284L1364.4,301ZM1371.3,156L1368.4,156L1368.4,166ZM1374.6,85L1372.4,85L1372.4,92ZM1377.1,61L1375.4,61L1375.4,61.5ZM1400.6,80L1403.5,80L1403.5,85ZM1404.5,220L1406.9,220L1406.9,236ZM1407.9,301L1410.5,301L1410.5,316ZM1443.6,334.5L1446.2,334.5L1446.2,355.5ZM1461.7,355.5L1464.6,355.5L1464.6,380.5Z" fill="#fff"/>
<path d="M836.7,54.6L877.6,54.6L877.6,80L881.1,81.5L881.1,100L884.1,102L884.1,190L888.1,196L888.1,316L895.2,350L902.2,380.5L917.2,380.5L920.2,411.5L942.2,411.5L945.3,445.8L965.9,445.8L968.7,411.5L1026.8,411.5L1029.4,445.8L1043.8,445.8L1046.5,411.5L1050.9,411.5L1053.9,445.8L1082.1,445.8L1084.9,411.5L1111,411.5L1113.6,380.5L1123,380.5L1125.6,411.5L1128.6,445.8L1146.1,445.8L1148.7,411.5L1164.7,411.5L1167.3,445.8L1252.6,445.8L1255.5,478L1266.3,478L1269.2,445.8L1333.3,445.8L1336.4,411.5L1340.4,411.5L1340.4,380L1343.4,356L1347.4,356L1350.4,335L1354.4,335L1357.4,318L1361.4,318L1364.4,301L1368.4,284L1368.4,166L1372.4,156L1372.4,92L1375.4,85L1375.4,61.5L1377.7,61L1379.2,57L1399.5,57L1399.5,80L1403.5,85L1403.5,220L1406.9,236L1406.9,301L1410.5,316L1410.5,334.5L1442.6,334.5L1446.2,355.5L1460.6,355.5L1464.6,380.5L1472.7,380.5L1472.7,483.3L836.7,483.3Z" fill="#000"/>
<text transform="translate(1118.6 101.8) rotate(-3) scale(0.93 1)" font-family="Liberation Sans, Arial, sans-serif" font-weight="bold" font-size="20.3" text-anchor="middle" y="7.3" stroke="#000" stroke-width="0.5" stroke-linejoin="round">27.2</text>
<text transform="translate(1152.5 82.4) rotate(-2) scale(0.93 1)" font-family="Liberation Sans, Arial, sans-serif" font-weight="bold" font-size="20.3" text-anchor="middle" y="7.3" stroke="#000" stroke-width="0.5" stroke-linejoin="round">26.8</text>
<text transform="translate(1048.5 217.8) rotate(21) scale(0.93 1)" font-family="Liberation Sans, Arial, sans-serif" font-weight="bold" font-size="20.3" text-anchor="middle" y="7.3" stroke="#000" stroke-width="0.5" stroke-linejoin="round">27.6</text>
<text transform="translate(1128.5 337.6) rotate(-27) scale(0.93 1)" font-family="Liberation Sans, Arial, sans-serif" font-weight="bold" font-size="20.3" text-anchor="middle" y="7.3" stroke="#000" stroke-width="0.5" stroke-linejoin="round">27.64</text>
<text transform="translate(1186 76.5) rotate(-6) scale(0.93 1)" font-family="Liberation Sans, Arial, sans-serif" font-weight="bold" font-size="15.5" text-anchor="middle" y="5.6" stroke="#000" stroke-width="0.5" stroke-linejoin="round">26.4</text>
<text transform="translate(1213 73.5) rotate(8) scale(0.93 1)" font-family="Liberation Sans, Arial, sans-serif" font-weight="bold" font-size="15" text-anchor="middle" y="5.4" stroke="#000" stroke-width="0.5" stroke-linejoin="round">26.0</text>
<g stroke="#000" stroke-width="4.8" stroke-linecap="round" fill="none">
<path d="M834.5,56.9H1474.9M834.5,481H1474.9M836.7,56.9V481M1472.7,56.9V481" stroke-linecap="butt"/>
<path d="M836.7,56.9V46.6M836.7,481V491.3M872,56.9V49.6M872,481V488.3M907.4,56.9V49.6M907.4,481V488.3M942.7,56.9V46.6M942.7,481V491.3M978,56.9V49.6M978,481V488.3M1013.4,56.9V49.6M1013.4,481V488.3M1048.7,56.9V46.6M1048.7,481V491.3M1084,56.9V49.6M1084,481V488.3M1119.4,56.9V49.6M1119.4,481V488.3M1154.7,56.9V46.6M1154.7,481V491.3M1190,56.9V49.6M1190,481V488.3M1225.4,56.9V49.6M1225.4,481V488.3M1260.7,56.9V46.6M1260.7,481V491.3M1296,56.9V49.6M1296,481V488.3M1331.4,56.9V49.6M1331.4,481V488.3M1366.7,56.9V46.6M1366.7,481V491.3M1402,56.9V49.6M1402,481V488.3M1437.4,56.9V49.6M1437.4,481V488.3M1472.7,56.9V46.6M1472.7,481V491.3M836.7,56.9H826.4M1472.7,56.9H1483M836.7,91H829.4M1472.7,91H1480M836.7,125.2H829.4M1472.7,125.2H1480M836.7,159.3H829.4M1472.7,159.3H1480M836.7,193.5H826.4M1472.7,193.5H1483M836.7,227.7H829.4M1472.7,227.7H1480M836.7,261.8H829.4M1472.7,261.8H1480M836.7,295.9H829.4M1472.7,295.9H1480M836.7,330.1H826.4M1472.7,330.1H1483M836.7,364.2H829.4M1472.7,364.2H1480M836.7,398.4H829.4M1472.7,398.4H1480M836.7,432.5H829.4M1472.7,432.5H1480M836.7,466.7H826.4M1472.7,466.7H1483"/>
</g>
<text transform="translate(836.7 526.2) scale(0.925 1.0)" font-family="Liberation Sans, Arial, sans-serif" font-weight="bold" font-size="32.2" text-anchor="middle" stroke="#000" stroke-width="1.1" stroke-linejoin="round" >90S</text>
<text transform="translate(942.7 526.2) scale(0.925 1.0)" font-family="Liberation Sans, Arial, sans-serif" font-weight="bold" font-size="32.2" text-anchor="middle" stroke="#000" stroke-width="1.1" stroke-linejoin="round" >60S</text>
<text transform="translate(1048.7 526.2) scale(0.925 1.0)" font-family="Liberation Sans, Arial, sans-serif" font-weight="bold" font-size="32.2" text-anchor="middle" stroke="#000" stroke-width="1.1" stroke-linejoin="round" >30S</text>
<text transform="translate(1153.9 526.2) scale(0.83 1.0)" font-family="Liberation Sans, Arial, sans-serif" font-weight="bold" font-size="32.2" text-anchor="middle" stroke="#000" stroke-width="1.1" stroke-linejoin="round" >EQ.</text>
<text transform="translate(1260.7 526.2) scale(0.925 1.0)" font-family="Liberation Sans, Arial, sans-serif" font-weight="bold" font-size="32.2" text-anchor="middle" stroke="#000" stroke-width="1.1" stroke-linejoin="round" >30N</text>
<text transform="translate(1366.7 526.2) scale(0.925 1.0)" font-family="Liberation Sans, Arial, sans-serif" font-weight="bold" font-size="32.2" text-anchor="middle" stroke="#000" stroke-width="1.1" stroke-linejoin="round" >60N</text>
<text transform="translate(1472.7 526.2) scale(0.925 1.0)" font-family="Liberation Sans, Arial, sans-serif" font-weight="bold" font-size="32.2" text-anchor="middle" stroke="#000" stroke-width="1.1" stroke-linejoin="round" >90N</text>
<text transform="translate(812.7 67.2) scale(1.06 1.0)" font-family="Liberation Sans, Arial, sans-serif" font-weight="bold" font-size="32.4" text-anchor="end" stroke="#000" stroke-width="1.1" stroke-linejoin="round" >0</text>
<text transform="translate(812.7 203.8) scale(1.06 1.0)" font-family="Liberation Sans, Arial, sans-serif" font-weight="bold" font-size="32.4" text-anchor="end" stroke="#000" stroke-width="1.1" stroke-linejoin="round" >2</text>
<text transform="translate(812.7 340.4) scale(1.06 1.0)" font-family="Liberation Sans, Arial, sans-serif" font-weight="bold" font-size="32.4" text-anchor="end" stroke="#000" stroke-width="1.1" stroke-linejoin="round" >4</text>
<text transform="translate(812.7 477) scale(1.06 1.0)" font-family="Liberation Sans, Arial, sans-serif" font-weight="bold" font-size="32.4" text-anchor="end" stroke="#000" stroke-width="1.1" stroke-linejoin="round" >6</text>
</g>
<g>
<rect x="1505.8" y="460.4" width="18" height="20.5" fill="#ff00a0"/>
<rect x="1505.8" y="440.2" width="18" height="20.5" fill="#a000a0"/>
<rect x="1505.8" y="420" width="18" height="20.5" fill="#3200aa"/>
<rect x="1505.8" y="399.8" width="18" height="20.5" fill="#0000d2"/>
<rect x="1505.8" y="379.6" width="18" height="20.5" fill="#0000ff"/>
<rect x="1505.8" y="359.5" width="18" height="20.5" fill="#0050ff"/>
<rect x="1505.8" y="339.3" width="18" height="20.5" fill="#0096ff"/>
<rect x="1505.8" y="319.1" width="18" height="20.5" fill="#00dcff"/>
<rect x="1505.8" y="298.9" width="18" height="20.5" fill="#00ffdc"/>
<rect x="1505.8" y="278.7" width="18" height="20.5" fill="#00ff96"/>
<rect x="1505.8" y="258.5" width="18" height="20.5" fill="#00ff50"/>
<rect x="1505.8" y="238.3" width="18" height="20.5" fill="#00ff14"/>
<rect x="1505.8" y="218.1" width="18" height="20.5" fill="#28ff00"/>
<rect x="1505.8" y="197.9" width="18" height="20.5" fill="#78ff00"/>
<rect x="1505.8" y="177.7" width="18" height="20.5" fill="#b4ff00"/>
<rect x="1505.8" y="157.6" width="18" height="20.5" fill="#ffff00"/>
<rect x="1505.8" y="137.4" width="18" height="20.5" fill="#ffbe00"/>
<rect x="1505.8" y="117.2" width="18" height="20.5" fill="#ff7800"/>
<rect x="1505.8" y="97" width="18" height="20.5" fill="#ff3c00"/>
<rect x="1505.8" y="76.8" width="18" height="20.5" fill="#ff1414"/>
<rect x="1505.8" y="56.6" width="18" height="20.5" fill="#ff5a5a"/>
<g stroke="#000" stroke-width="4.8" fill="none" stroke-linecap="round">
<rect x="1504.4" y="56.6" width="20.8" height="424" stroke-linejoin="round"/>
<path d="M1525.2,56.6H1536.7M1525.2,76.8H1544.7M1525.2,97H1536.7M1525.2,117.2H1536.7M1525.2,137.4H1536.7M1525.2,157.6H1544.7M1525.2,177.7H1536.7M1525.2,197.9H1536.7M1525.2,218.1H1536.7M1525.2,238.3H1544.7M1525.2,258.5H1536.7M1525.2,278.7H1536.7M1525.2,298.9H1536.7M1525.2,319.1H1544.7M1525.2,339.3H1536.7M1525.2,359.5H1536.7M1525.2,379.6H1536.7M1525.2,399.8H1544.7M1525.2,420H1536.7M1525.2,440.2H1536.7M1525.2,460.4H1536.7M1525.2,480.6H1544.7"/>
</g>
<text transform="translate(1588.5 87.6) scale(0.93 1.0)" font-family="Liberation Sans, Arial, sans-serif" font-weight="bold" font-size="30.5" text-anchor="end" stroke="#000" stroke-width="1.1" stroke-linejoin="round" >3</text>
<text transform="translate(1588.5 168.4) scale(0.93 1.0)" font-family="Liberation Sans, Arial, sans-serif" font-weight="bold" font-size="30.5" text-anchor="end" stroke="#000" stroke-width="1.1" stroke-linejoin="round" >2</text>
<text transform="translate(1588.5 249.1) scale(0.93 1.0)" font-family="Liberation Sans, Arial, sans-serif" font-weight="bold" font-size="30.5" text-anchor="end" stroke="#000" stroke-width="1.1" stroke-linejoin="round" >1</text>
<text transform="translate(1588.5 329.9) scale(0.93 1.0)" font-family="Liberation Sans, Arial, sans-serif" font-weight="bold" font-size="30.5" text-anchor="end" stroke="#000" stroke-width="1.1" stroke-linejoin="round" >0</text>
<text transform="translate(1588.5 410.6) scale(0.93 1.0)" font-family="Liberation Sans, Arial, sans-serif" font-weight="bold" font-size="30.5" text-anchor="end" stroke="#000" stroke-width="1.1" stroke-linejoin="round" >−1</text>
<text transform="translate(1588.5 491.4) scale(0.93 1.0)" font-family="Liberation Sans, Arial, sans-serif" font-weight="bold" font-size="30.5" text-anchor="end" stroke="#000" stroke-width="1.1" stroke-linejoin="round" >−2</text>
</g>
<g>
<path d="M1890,27.2L1846,31.2L1804,36.4L1773,42.4L1742,49.4L1727,51.3L1721.6,57.5L1726.3,71L1729.5,84L1734.2,91.9L1742.1,104.5L1748.4,117.2L1754,131.4L1759.5,150.3L1763.4,168L1768.2,191.7L1771.3,215.4L1773.7,252L1776.1,283.6L1777.6,315.2L1778.4,336L1780,375.5L1780.8,420L1781.3,499" fill="none" stroke="#000" stroke-width="4.3" stroke-linejoin="round"/>
<path d="M1890.5,27.6L1846.3,31.6L1804.5,37.1L1773.7,43.4L1742.1,50.5L1734.2,53.7L1717.6,56.1L1718.4,62.4L1723.2,64.7L1709,68.7L1711.3,72.6L1725.5,76.9L1716.8,82.1L1716.8,84L1712.9,90.3L1709,97.4L1721.6,103.7L1716,110L1748.4,117.2L1762.6,125.8L1770.5,136.1L1781.6,144.8L1789.5,158.2L1791.8,168L1793.4,174.3L1802.9,188.5L1800.5,205.9L1808.4,221.7L1812.4,240.6L1818.7,252L1821.8,258.3L1829,286.7L1832.1,302.5L1838.4,321.5L1841.6,336L1848.7,359.7L1854.2,383.4L1859,405.5L1861.3,420L1863.7,452.4L1862.1,475.3L1859.7,499" fill="none" stroke="#ff5a00" stroke-width="4.6" stroke-linejoin="round"/>
<g stroke="#000" stroke-width="4.4" stroke-linecap="round" fill="none">
<rect x="1694.5" y="24.6" width="198.5" height="477" stroke-width="4.8" stroke-linejoin="miter"/>
<path d="M1698.9,24.6V30.4M1698.9,501.6V495.8M1707.7,24.6V30.4M1707.7,501.6V495.8M1716.5,24.6V36.6M1716.5,501.6V489.6M1725.3,24.6V30.4M1725.3,501.6V495.8M1734.1,24.6V30.4M1734.1,501.6V495.8M1742.9,24.6V30.4M1742.9,501.6V495.8M1751.7,24.6V30.4M1751.7,501.6V495.8M1760.5,24.6V36.6M1760.5,501.6V489.6M1769.3,24.6V30.4M1769.3,501.6V495.8M1778.1,24.6V30.4M1778.1,501.6V495.8M1786.9,24.6V30.4M1786.9,501.6V495.8M1795.7,24.6V30.4M1795.7,501.6V495.8M1804.5,24.6V36.6M1804.5,501.6V489.6M1813.3,24.6V30.4M1813.3,501.6V495.8M1822.1,24.6V30.4M1822.1,501.6V495.8M1830.9,24.6V30.4M1830.9,501.6V495.8M1839.7,24.6V30.4M1839.7,501.6V495.8M1848.5,24.6V36.6M1848.5,501.6V489.6M1857.3,24.6V30.4M1857.3,501.6V495.8M1866.1,24.6V30.4M1866.1,501.6V495.8M1874.9,24.6V30.4M1874.9,501.6V495.8M1883.7,24.6V30.4M1883.7,501.6V495.8M1694.5,42H1700.3M1893,42H1887.2M1694.5,59.3H1700.3M1893,59.3H1887.2M1694.5,76.7H1700.3M1893,76.7H1887.2M1694.5,94H1700.3M1893,94H1887.2M1694.5,111.4H1706.5M1893,111.4H1881M1694.5,128.8H1700.3M1893,128.8H1887.2M1694.5,146.1H1700.3M1893,146.1H1887.2M1694.5,163.5H1700.3M1893,163.5H1887.2M1694.5,180.8H1700.3M1893,180.8H1887.2M1694.5,198.2H1706.5M1893,198.2H1881M1694.5,215.6H1700.3M1893,215.6H1887.2M1694.5,232.9H1700.3M1893,232.9H1887.2M1694.5,250.3H1700.3M1893,250.3H1887.2M1694.5,267.6H1700.3M1893,267.6H1887.2M1694.5,285H1706.5M1893,285H1881M1694.5,302.4H1700.3M1893,302.4H1887.2M1694.5,319.7H1700.3M1893,319.7H1887.2M1694.5,337.1H1700.3M1893,337.1H1887.2M1694.5,354.4H1700.3M1893,354.4H1887.2M1694.5,371.8H1706.5M1893,371.8H1881M1694.5,389.2H1700.3M1893,389.2H1887.2M1694.5,406.5H1700.3M1893,406.5H1887.2M1694.5,423.9H1700.3M1893,423.9H1887.2M1694.5,441.2H1700.3M1893,441.2H1887.2M1694.5,458.6H1706.5M1893,458.6H1881M1694.5,476H1700.3M1893,476H1887.2M1694.5,493.3H1700.3M1893,493.3H1887.2"/>
</g>
<text transform="translate(1681.4 33.8) scale(1.07 1.0)" font-family="Liberation Sans, Arial, sans-serif" font-weight="bold" font-size="30.0" text-anchor="end" stroke="#000" stroke-width="1.1" stroke-linejoin="round" >0</text>
<text transform="translate(1681.4 120.6) scale(1.07 1.0)" font-family="Liberation Sans, Arial, sans-serif" font-weight="bold" font-size="30.0" text-anchor="end" stroke="#000" stroke-width="1.1" stroke-linejoin="round" >1</text>
<text transform="translate(1681.4 207.4) scale(1.07 1.0)" font-family="Liberation Sans, Arial, sans-serif" font-weight="bold" font-size="30.0" text-anchor="end" stroke="#000" stroke-width="1.1" stroke-linejoin="round" >2</text>
<text transform="translate(1681.4 294.2) scale(1.07 1.0)" font-family="Liberation Sans, Arial, sans-serif" font-weight="bold" font-size="30.0" text-anchor="end" stroke="#000" stroke-width="1.1" stroke-linejoin="round" >3</text>
<text transform="translate(1681.4 381) scale(1.07 1.0)" font-family="Liberation Sans, Arial, sans-serif" font-weight="bold" font-size="30.0" text-anchor="end" stroke="#000" stroke-width="1.1" stroke-linejoin="round" >4</text>
<text transform="translate(1681.4 467.8) scale(1.07 1.0)" font-family="Liberation Sans, Arial, sans-serif" font-weight="bold" font-size="30.0" text-anchor="end" stroke="#000" stroke-width="1.1" stroke-linejoin="round" >5</text>
<text transform="translate(1715.5 534) scale(1.07 1.0)" font-family="Liberation Sans, Arial, sans-serif" font-weight="bold" font-size="30.0" text-anchor="middle" stroke="#000" stroke-width="1.1" stroke-linejoin="round" >−1</text>
<text transform="translate(1760.5 534) scale(1.07 1.0)" font-family="Liberation Sans, Arial, sans-serif" font-weight="bold" font-size="30.0" text-anchor="middle" stroke="#000" stroke-width="1.1" stroke-linejoin="round" >0</text>
<text transform="translate(1804.5 534) scale(1.07 1.0)" font-family="Liberation Sans, Arial, sans-serif" font-weight="bold" font-size="30.0" text-anchor="middle" stroke="#000" stroke-width="1.1" stroke-linejoin="round" >1</text>
<text transform="translate(1848.5 534) scale(1.07 1.0)" font-family="Liberation Sans, Arial, sans-serif" font-weight="bold" font-size="30.0" text-anchor="middle" stroke="#000" stroke-width="1.1" stroke-linejoin="round" >2</text>
<text transform="translate(1892.5 534) scale(1.07 1.0)" font-family="Liberation Sans, Arial, sans-serif" font-weight="bold" font-size="30.0" text-anchor="middle" stroke="#000" stroke-width="1.1" stroke-linejoin="round" >3</text>
<text transform="translate(1641 349) rotate(-90)" font-family="Liberation Sans, Arial, sans-serif" font-weight="bold" font-size="30.5" stroke="#000" stroke-width="1.1" stroke-linejoin="round"><tspan x="0" textLength="85.5" lengthAdjust="spacingAndGlyphs">Depth</tspan> <tspan x="101.2" textLength="73.5" lengthAdjust="spacingAndGlyphs">(km)</tspan></text>
</g>
<text transform="translate(165.7 30) scale(1.0 1.045)" font-family="Liberation Sans, Arial, sans-serif" font-size="36.3" text-anchor="start" stroke="#000" stroke-width="0.35" stroke-linejoin="round" >Pacific zonal-mean Kv in TED</text>
<text transform="translate(908.4 30) scale(1.0 1.045)" font-family="Liberation Sans, Arial, sans-serif" font-size="36.3" text-anchor="start" stroke="#000" stroke-width="0.35" stroke-linejoin="round" >Pacific zonal-mean Kv in CTRL</text>
<text transform="translate(19 28.6)" font-family="Liberation Sans, Arial, sans-serif" font-size="45" text-anchor="start" stroke="#000" stroke-width="0.4" stroke-linejoin="round" >a</text>
<text transform="translate(767.2 31.4)" font-family="Liberation Sans, Arial, sans-serif" font-size="45" text-anchor="start" stroke="#000" stroke-width="0.4" stroke-linejoin="round" >b</text>
<text transform="translate(1610.9 32)" font-family="Liberation Sans, Arial, sans-serif" font-size="45" text-anchor="start" stroke="#000" stroke-width="0.4" stroke-linejoin="round" >c</text>
<text transform="translate(25.5 366.3) rotate(-90)" font-family="Liberation Sans, Arial, sans-serif" font-weight="bold" font-size="33.0" stroke="#000" stroke-width="1.1" stroke-linejoin="round"><tspan x="0" textLength="97" lengthAdjust="spacingAndGlyphs">Depth</tspan> <tspan x="117.8" textLength="79" lengthAdjust="spacingAndGlyphs">(km)</tspan></text>
</svg>
</body></html>
